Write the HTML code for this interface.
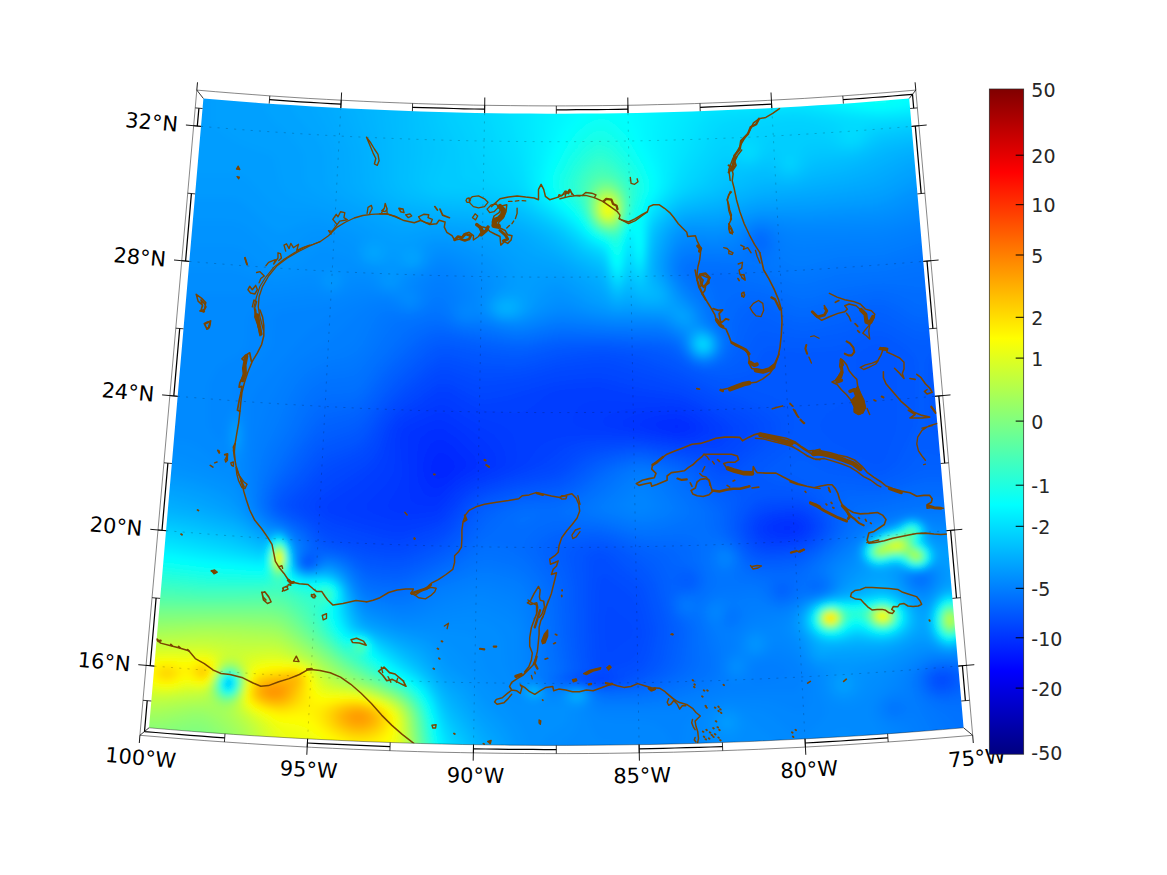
<!DOCTYPE html>
<html lang="en"><head><meta charset="utf-8"><title>Gulf of Mexico map</title>
<style>html,body{margin:0;padding:0;background:#fff}svg{display:block}text{font-family:"DejaVu Sans","Liberation Sans",sans-serif}</style></head><body>
<svg width="1167" height="875" viewBox="0 0 1167 875">
<defs><clipPath id="mapclip"><path d="M203.4 98.5 L221.8 100 L240.1 101.5 L258.5 102.9 L276.7 104.2 L294.7 105.3 L312.7 106.5 L330.7 107.5 L348.7 108.4 L366.7 109.3 L384.6 110.1 L402.6 110.8 L420.7 111.5 L438.8 112 L457 112.5 L475.1 112.9 L493.2 113.2 L511.2 113.5 L529.3 113.6 L547.3 113.7 L565.3 113.7 L583.3 113.6 L601.4 113.5 L619.4 113.2 L637.5 112.9 L655.6 112.5 L673.8 112 L691.9 111.5 L710 110.8 L728 110.1 L745.9 109.3 L763.9 108.4 L781.9 107.5 L799.9 106.5 L817.9 105.3 L835.9 104.2 L854.1 102.9 L872.5 101.5 L890.8 100 L909.2 98.5 L963.6 727.8 L942.4 729.6 L921.2 731.3 L900 732.9 L879 734.4 L858.2 735.8 L837.5 737 L816.7 738.2 L795.9 739.3 L775.2 740.3 L754.4 741.3 L733.7 742.1 L712.8 742.8 L691.9 743.5 L671 744 L650 744.5 L629.1 744.8 L608.3 745.1 L587.5 745.3 L566.7 745.4 L545.9 745.4 L525.1 745.3 L504.3 745.1 L483.5 744.8 L462.6 744.5 L441.6 744 L420.7 743.5 L399.8 742.8 L378.9 742.1 L358.2 741.3 L337.4 740.3 L316.7 739.3 L295.9 738.2 L275.1 737 L254.4 735.8 L233.6 734.4 L212.6 732.9 L191.4 731.3 L170.2 729.6 L149 727.8Z"/></clipPath>
<filter id="blur" x="-5%" y="-5%" width="110%" height="110%"><feGaussianBlur stdDeviation="3.2"/></filter>
<linearGradient id="cb" x1="0" y1="0" x2="0" y2="1"><stop offset="0%" stop-color="#800000"/><stop offset="3.1%" stop-color="#9f0000"/><stop offset="6.2%" stop-color="#bf0000"/><stop offset="9.4%" stop-color="#df0000"/><stop offset="12.5%" stop-color="#ff0000"/><stop offset="15.6%" stop-color="#ff2000"/><stop offset="18.8%" stop-color="#ff4000"/><stop offset="21.9%" stop-color="#ff6000"/><stop offset="25%" stop-color="#ff8000"/><stop offset="28.1%" stop-color="#ff9f00"/><stop offset="31.2%" stop-color="#ffbf00"/><stop offset="34.4%" stop-color="#ffdf00"/><stop offset="37.5%" stop-color="#ffff00"/><stop offset="40.6%" stop-color="#dfff20"/><stop offset="43.8%" stop-color="#bfff40"/><stop offset="46.9%" stop-color="#9fff60"/><stop offset="50%" stop-color="#80ff80"/><stop offset="53.1%" stop-color="#60ff9f"/><stop offset="56.2%" stop-color="#40ffbf"/><stop offset="59.4%" stop-color="#20ffdf"/><stop offset="62.5%" stop-color="#00ffff"/><stop offset="65.6%" stop-color="#00dfff"/><stop offset="68.8%" stop-color="#00bfff"/><stop offset="71.9%" stop-color="#009fff"/><stop offset="75%" stop-color="#0080ff"/><stop offset="78.1%" stop-color="#0060ff"/><stop offset="81.2%" stop-color="#0040ff"/><stop offset="84.4%" stop-color="#0020ff"/><stop offset="87.5%" stop-color="#0000ff"/><stop offset="90.6%" stop-color="#0000df"/><stop offset="93.8%" stop-color="#0000bf"/><stop offset="96.9%" stop-color="#00009f"/><stop offset="100%" stop-color="#000080"/></linearGradient></defs>
<rect width="1167" height="875" fill="#fff"/>
<g clip-path="url(#mapclip)">
<g filter="url(#blur)" fill-rule="evenodd"><rect x="128" y="84" width="864" height="684" fill="#0028ff"/>
<path fill="#002bff" d="M128 84l864 0 0 684 -864 0zM440 452l-3 2 -3 3 -2 5 -1 6 1 6 2 3 3 2 3 0 6 -2 4 -3 5 -6 0 -3 -1 -3 -5 -6 -6 -3z"/>
<path fill="#002eff" d="M128 84l864 0 0 684 -864 0zM437 440l-6 4 -3 5 -4 10 -1 9 2 9 3 6 3 3 3 2 3 0 6 -2 15 -12 7 -6 1 -3 0 -3 -2 -3 -12 -13 -9 -6zM670 426l3 3 4 0 3 0 1 -3 -4 -2z"/>
<path fill="#0031ff" d="M128 84l864 0 0 684 -864 0zM437 429l-9 3 -7 6 -2 6 -2 12 0 15 2 12 4 9 3 3 5 2 3 0 6 -2 15 -14 16 -10 4 -3 2 -3 0 -3 -3 -6 -18 -18 -10 -7 -4 -2zM665 420l-9 3 -1 3 4 3 8 3 10 2 9 -2 4 -3 0 -3 -2 -3 -5 -3 -9 -2zM785 525l-4 3 4 3 3 0 6 -3 -3 -3z"/>
<path fill="#0035ff" d="M128 84l864 0 0 684 -864 0zM431 422l-15 7 -5 3 -2 3 -1 6 2 57 2 3 4 3 12 2 6 0 3 -2 21 -20 26 -16 3 -3 0 -3 -2 -6 -6 -7 -14 -14 -12 -9 -10 -5 -6 -1zM656 416l-12 4 -4 3 0 3 5 3 10 3 22 4 12 -1 6 -3 2 -3 -1 -3 -2 -3 -5 -4 -6 -3 -9 -2zM782 521l-8 4 -2 3 1 3 6 3 12 0 6 -2 3 -4 0 -3 -4 -3 -5 -1z"/>
<path fill="#0038ff" d="M128 84l864 0 0 684 -864 0zM437 413l-27 12 -6 4 -2 3 -2 9 2 24 0 12 -4 11 -10 16 0 3 1 1 2 2 4 2 6 1 12 1 15 -1 9 -3 6 -5 10 -13 7 -6 10 -6 19 -9 7 -6 0 -6 -2 -6 -6 -8 -7 -7 -16 -12 -16 -11 -6 -2zM662 411l-18 2 -12 3 -8 4 -2 3 1 3 7 3 44 9 9 1 6 -1 9 -3 4 -3 1 -3 -1 -3 -2 -3 -11 -8 -6 -3 -6 -1zM782 518l-9 3 -5 4 -2 3 1 3 3 3 9 3 9 0 9 -2 6 -4 1 -3 0 -3 -4 -4 -6 -3z"/>
<path fill="#003bff" d="M128 84l864 0 0 684 -864 0zM434 407l-27 14 -6 4 -3 4 -3 9 0 24 -1 9 -3 6 -5 8 -19 19 -1 3 2 3 5 3 16 6 9 1 9 0 27 -4 6 -3 3 -3 12 -15 9 -8 9 -6 24 -10 8 -6 1 -6 -2 -9 -5 -9 -5 -6 -45 -28 -6 -2 -3 0zM641 408l-18 2 -12 4 -6 4 -2 2 0 3 3 3 11 4 60 11 9 0 12 -2 8 -4 3 -3 0 -3 -1 -3 -5 -6 -11 -8 -9 -4 -12 -2zM785 516l-12 2 -7 4 -3 3 -1 3 1 3 1 3 4 3 5 1 12 2 12 -2 6 -4 3 -3 1 -3 -1 -5 -3 -3 -9 -4z"/>
<path fill="#003eff" d="M128 84l864 0 0 684 -864 0zM437 399l-15 9 -18 10 -6 5 -4 6 -2 5 -4 25 -5 12 -6 8 -7 7 -23 18 -2 3 1 3 4 3 15 6 30 7 9 0 27 -5 6 -2 6 -5 15 -19 9 -7 9 -5 30 -12 8 -6 2 -3 1 -6 -1 -12 -3 -9 -5 -6 -8 -5 -24 -8 -27 -17 -6 -1zM590 401l-9 4 -3 3 -4 6 -2 6 1 3 3 3 9 3 18 3 38 4 39 7 12 -1 12 -2 6 -2 4 -3 2 -3 0 -3 -1 -3 -8 -8 -15 -9 -12 -5 -9 -1 -42 -1 -27 -2zM773 516l-8 3 -3 3 -2 3 -1 3 1 6 3 3 4 2 12 3 15 -1 9 -4 6 -6 1 -6 -2 -3 -2 -3 -6 -4 -12 -1z"/>
<path fill="#0041ff" d="M128 84l864 0 0 684 -864 0zM560 390l-10 3 -5 3 -12 10 -6 4 -6 2 -6 1 -24 -2 -9 -1 -9 -4 -24 -14 -6 -1 -6 1 -18 13 -15 9 -7 6 -5 6 -3 6 -6 24 -6 10 -9 9 -12 10 -27 18 -3 4 1 3 3 3 7 3 28 9 27 7 12 0 27 -7 9 -4 6 -6 13 -17 8 -7 12 -7 29 -10 12 -6 8 -6 11 -15 6 -4 9 -4 15 -3 30 -1 39 3 39 6 15 1 15 -2 8 -2 5 -3 2 -3 1 -3 0 -3 -1 -3 -10 -9 -17 -11 -15 -6 -48 -5 -33 -8 -18 1zM776 513l-12 4 -3 2 -4 6 -1 3 1 6 2 3 5 4 6 2 6 0 18 -1 6 -1 6 -4 5 -6 1 -6 -1 -3 -2 -3 -6 -4 -6 -3 -6 0z"/>
<path fill="#04f" d="M128 84l864 0 0 684 -864 0zM575 381l-21 3 -45 14 -21 4 -6 0 -6 -2 -27 -14 -6 -1 -6 1 -18 14 -15 9 -9 8 -8 12 -7 21 -6 10 -9 9 -43 29 -5 6 -1 3 1 3 6 6 12 6 27 8 21 6 12 2 6 0 36 -12 9 -7 17 -21 10 -8 9 -4 50 -18 11 -6 19 -15 10 -4 12 -3 12 -1 33 0 15 2 36 6 30 0 6 -1 6 -3 6 -5 3 -6 0 -3 -2 -3 -6 -6 -22 -14 -18 -9 -9 -2 -33 -5 -39 -10 -9 0zM785 510l-18 3 -6 3 -4 3 -2 4 -1 5 1 6 4 6 5 3 6 2 18 0 12 -3 6 -3 6 -5 2 -6 0 -3 -2 -6 -3 -3 -9 -5 -6 -1zM595 678l0 3 7 0 1 -3z"/>
<path fill="#0047ff" d="M128 84l864 0 0 684 -864 0zM557 377l-33 9 -39 8 -9 -2 -27 -12 -6 -1 -6 2 -36 26 -6 6 -10 13 -8 21 -6 9 -9 8 -22 13 -17 12 -12 12 -2 6 1 3 10 9 12 7 42 13 18 4 9 0 33 -12 6 -3 9 -8 15 -20 12 -9 12 -5 58 -18 8 -4 15 -14 9 -4 9 -3 12 -1 36 -1 12 2 33 5 36 3 6 -1 6 -4 8 -8 4 -6 0 -3 -2 -3 -7 -6 -30 -18 -18 -9 -33 -7 -45 -12 -12 -1zM770 510l-6 2 -6 3 -4 4 -3 6 0 6 3 6 4 5 3 2 6 3 6 0 21 -1 6 -2 8 -4 4 -4 4 -5 1 -6 -3 -6 -5 -5 -6 -4 -6 -1 -9 -1zM589 678l2 3 8 1 9 -1 1 -3 -7 -2 -6 0z"/>
<path fill="#004aff" d="M128 84l864 0 0 684 -864 0zM560 371l-39 10 -36 5 -9 -1 -27 -11 -6 0 -6 1 -36 28 -8 8 -11 15 -10 21 -7 9 -6 4 -22 11 -11 7 -21 23 -2 3 0 3 4 6 13 11 6 4 6 3 36 12 21 5 12 0 33 -13 7 -4 8 -7 15 -20 6 -6 6 -4 9 -4 27 -9 39 -10 9 -5 14 -13 10 -5 18 -4 36 -1 63 10 18 3 6 -1 7 -5 13 -12 3 -6 0 -3 -1 -3 -7 -7 -39 -21 -18 -9 -78 -22 -9 0zM776 507l-9 1 -9 4 -4 4 -4 6 -1 6 1 6 3 6 5 5 6 3 6 1 12 0 12 -1 12 -5 6 -4 4 -5 3 -6 -1 -6 -3 -6 -6 -5 -6 -3 -9 -2zM596 675l-10 3 2 3 11 2 13 -2 2 -3 -3 -2 -6 -2zM608 605l-3 11 0 20 2 15 1 2 3 0 18 -14 3 -3 1 -6 -1 -5 -3 -4 -9 -7 -9 -9z"/>
<path fill="#004dff" d="M128 84l864 0 0 684 -864 0zM560 366l-36 10 -36 4 -12 -1 -27 -10 -6 -1 -6 2 -6 4 -30 25 -9 8 -9 13 -12 22 -6 8 -9 6 -20 9 -10 6 -6 5 -22 25 -1 3 0 3 2 3 12 10 12 11 9 5 39 13 21 3 9 0 33 -13 9 -5 9 -10 15 -20 6 -6 6 -3 9 -4 27 -8 39 -9 9 -5 15 -14 12 -5 18 -4 33 -1 57 10 18 6 6 1 6 -2 9 -7 16 -15 3 -6 1 -3 -2 -4 -4 -5 -5 -3 -63 -32 -48 -16 -24 -7 -12 -1zM770 505l-9 3 -8 5 -4 6 -2 6 0 9 5 8 6 6 6 2 9 1 15 -1 9 -1 7 -3 8 -5 4 -4 4 -6 1 -3 0 -6 -3 -6 -6 -5 -6 -4 -6 -2 -9 -1zM602 576l-3 4 -2 11 -1 39 2 30 1 3 4 6 -4 3 -16 6 2 3 14 3 6 0 11 -3 2 -3 -2 -3 -4 -3 0 -3 18 -6 5 -4 3 -5 3 -8 3 -10 0 -6 -3 -15 -3 -9 -5 -9 -4 -4 -21 -16 -3 -2z"/>
<path fill="#0050ff" d="M128 84l864 0 0 684 -864 0zM587 357l-24 4 -36 10 -15 2 -30 0 -33 -10 -6 0 -6 2 -6 4 -27 23 -12 11 -11 14 -13 23 -6 7 -9 6 -24 9 -9 7 -13 17 -15 15 -1 3 0 3 2 3 15 10 15 15 6 4 39 13 21 4 12 0 9 -3 24 -11 9 -5 9 -9 15 -21 6 -6 6 -4 9 -4 27 -8 33 -6 9 -3 9 -5 15 -13 12 -6 9 -3 15 -1 15 -1 12 0 51 10 9 3 15 7 6 0 9 -5 21 -18 6 -6 4 -6 0 -3 -2 -6 -5 -5 -6 -4 -10 -6 -23 -10 -39 -20 -39 -14 -16 -4 -20 -4zM941 677l-2 1 -1 3 3 3 3 0 3 -3 -1 -3zM599 558l-4 3 -2 6 -2 24 1 60 1 9 2 9 -3 3 -12 6 3 3 10 3 9 1 8 -1 10 -3 3 -3 2 -6 13 -6 4 -3 3 -6 2 -9 3 -18 -2 -9 -4 -18 -5 -12 -4 -5 -18 -13 -12 -13 -3 -2zM764 504l-6 2 -6 5 -6 8 -2 6 0 6 4 9 4 6 6 4 6 2 9 1 15 -1 9 -2 6 -2 9 -5 6 -6 4 -6 2 -6 -3 -8 -6 -6 -9 -6 -9 -3 -9 -1 -15 1z"/>
<path fill="#0053ff" d="M128 84l864 0 0 684 -864 0zM578 354l-18 3 -33 9 -12 2 -33 -1 -33 -9 -6 0 -6 2 -6 4 -24 20 -15 15 -12 15 -12 20 -6 8 -9 6 -24 9 -9 6 -16 20 -17 18 -1 3 0 3 4 4 18 12 15 16 6 3 18 6 21 8 21 4 12 -1 9 -2 21 -10 12 -6 12 -12 15 -22 9 -7 11 -5 25 -7 42 -8 9 -5 18 -15 12 -6 12 -3 15 -2 12 -1 12 1 48 10 9 4 15 9 6 1 6 -2 6 -4 30 -26 5 -6 2 -3 0 -3 -1 -6 -5 -6 -8 -6 -17 -9 -27 -10 -39 -20 -32 -12 -13 -4 -30 -4zM941 675l-3 1 -2 2 -1 3 3 4 6 1 4 -2 2 -3 -1 -3 -3 -3zM596 551l-3 1 -3 3 -2 3 -1 6 0 69 1 24 3 12 -3 3 -11 6 4 3 10 3 14 1 10 -1 9 -3 22 -15 3 -6 2 -6 3 -15 1 -9 -2 -9 -6 -24 -2 -6 -3 -6 -4 -4 -15 -12 -13 -14 -8 -4zM764 500l-9 4 -6 6 -4 6 -3 9 0 6 4 9 6 8 5 4 7 2 6 1 15 -1 12 -2 6 -2 9 -5 6 -5 5 -6 2 -6 1 -3 -2 -6 -6 -9 -9 -6 -9 -4 -9 -1 -15 0z"/>
<path fill="#0056ff" d="M128 84l864 0 0 684 -864 0zM575 351l-18 2 -30 9 -12 2 -30 -2 -36 -9 -6 0 -6 2 -9 6 -33 30 -12 14 -18 27 -6 7 -6 3 -24 9 -9 6 -6 7 -12 16 -17 18 -3 6 1 3 1 3 4 3 14 8 6 4 12 14 6 5 21 6 18 9 6 1 21 3 9 0 9 -3 24 -10 12 -8 11 -11 14 -21 5 -5 6 -4 9 -4 24 -7 36 -6 9 -2 9 -6 18 -15 12 -5 12 -3 18 -3 12 0 9 1 42 10 10 4 17 12 9 1 6 -2 6 -4 15 -13 18 -14 7 -7 3 -6 1 -6 -2 -6 -4 -6 -8 -6 -24 -11 -29 -10 -50 -24 -23 -8 -18 -3 -27 -3zM938 674l-3 2 -1 2 -1 3 1 3 3 3 7 1 4 -1 3 -3 1 -3 0 -3 -2 -3 -6 -2zM590 548l-6 4 -2 3 -1 6 1 27 1 48 2 21 2 12 -3 3 -10 6 4 3 18 5 9 0 9 -1 15 -4 6 -3 10 -6 6 -6 3 -6 4 -18 1 -9 0 -9 -9 -33 -3 -7 -4 -5 -26 -24 -6 -4 -6 -3 -6 -1zM761 497l-9 5 -6 6 -4 8 -3 9 1 6 3 9 6 8 6 5 6 3 9 1 15 -1 12 -2 9 -4 7 -4 7 -6 5 -6 3 -6 -1 -9 -6 -9 -9 -7 -9 -5 -9 -2 -21 -1z"/>
<path fill="#0059ff" d="M128 84l864 0 0 266 -24 1 -6 1 -4 2 -3 3 -2 6 0 21 0 33 1 6 1 3 4 3 6 2 27 1 0 336 -864 0zM575 348l-18 2 -30 8 -12 1 -30 -3 -36 -7 -9 0 -6 3 -27 23 -12 11 -13 16 -17 25 -6 6 -8 5 -25 9 -9 7 -17 23 -19 21 -2 6 2 6 4 3 20 12 6 6 9 12 3 2 24 7 21 11 18 3 12 1 6 -1 9 -4 24 -11 9 -5 12 -12 16 -24 8 -6 9 -4 24 -7 36 -6 9 -2 9 -5 21 -17 12 -6 12 -3 18 -2 9 -1 12 2 36 9 12 6 12 10 6 4 6 1 9 0 6 -1 6 -4 12 -14 24 -18 7 -8 4 -6 1 -9 -1 -6 -3 -6 -4 -6 -4 -3 -9 -5 -27 -9 -27 -6 -27 -10 -21 -12 -18 -7 -15 -3 -30 -3zM872 345l-10 6 -5 6 -1 6 0 21 -2 6 -3 6 -6 6 -18 12 -5 6 -2 6 3 6 10 10 24 12 12 8 6 2 3 0 4 -2 4 -6 10 -27 1 -12 0 -54 -2 -9 -6 -6 -8 -4zM938 672l-4 3 -2 3 0 6 3 3 3 2 3 1 6 -1 4 -2 2 -3 1 -3 0 -3 -2 -3 -2 -2 -3 -1zM308 560l0 2 1 -1zM587 545l-8 4 -3 3 -1 3 -1 6 4 27 1 51 2 18 2 12 -2 3 -10 6 4 3 21 5 6 1 15 -1 18 -5 11 -6 8 -6 4 -6 3 -12 3 -15 0 -9 -10 -39 -5 -9 -5 -7 -20 -17 -8 -6 -8 -4 -6 -1 -6 -1zM758 491l-6 3 -6 7 -8 15 -1 9 0 6 4 9 8 11 6 5 6 2 9 1 18 -1 9 -2 9 -4 9 -6 7 -6 5 -6 3 -9 -2 -9 -7 -9 -9 -8 -9 -4 -9 -3 -24 -2z"/>
<path fill="#005cff" d="M128 84l864 0 0 256 -30 0 -9 2 -13 6 -9 6 -4 6 -1 6 0 12 1 42 2 6 4 6 11 8 12 4 12 2 24 0 0 322 -864 0zM878 333l-9 2 -27 12 -9 2 -30 2 -30 -3 -6 1 -3 1 -3 4 -6 12 -5 6 -7 3 -15 2 -9 -1 -21 -5 -9 -4 -15 -10 -6 -3 -10 -3 -17 -3 -39 -3 -33 1 -15 2 -30 7 -9 1 -24 -3 -42 -8 -9 0 -6 2 -6 4 -30 27 -15 18 -18 25 -6 7 -9 5 -24 8 -9 7 -19 26 -17 19 -4 8 0 6 4 6 18 10 6 5 15 18 27 8 18 11 6 2 18 3 9 0 12 -3 27 -12 10 -6 13 -12 16 -25 5 -5 6 -3 31 -10 33 -4 9 -2 12 -7 20 -16 10 -5 12 -4 12 -2 9 -1 9 0 28 6 19 6 10 6 15 13 21 9 2 5 0 3 -4 18 -1 6 1 6 6 12 5 7 6 6 6 4 9 1 18 -1 12 -2 6 -2 9 -6 13 -10 4 -6 3 -6 0 -9 -3 -6 -5 -7 -6 -7 -9 -6 -9 -5 -24 -5 -9 -4 -2 -2 -1 -3 3 -6 18 -13 12 -11 6 -3 6 2 27 18 16 7 20 6 6 0 6 -1 8 -5 6 -6 17 -36 2 -12 0 -45 -1 -9 -3 -6 -10 -9 -16 -10zM938 671l-6 4 -2 3 1 6 1 3 6 4 6 0 5 -1 5 -3 3 -6 -1 -3 -1 -3 -4 -3 -4 -1zM308 558l-3 3 2 3 1 0 1 0 3 -3 -1 -3zM581 543l-7 3 -4 3 -2 3 -1 3 7 33 1 45 2 24 3 12 -2 3 -10 6 3 3 31 7 21 -2 18 -5 12 -7 8 -8 4 -9 3 -18 0 -12 -12 -45 -5 -9 -7 -8 -17 -13 -10 -6 -9 -4 -9 -2 -9 1z"/>
<path fill="#005fff" d="M128 84l864 0 0 247 -24 0 -9 1 -36 11 -9 -2 -27 -15 -9 -3 -9 2 -30 11 -27 4 -18 0 -30 -7 -3 0 -3 3 -3 3 -9 18 -6 7 -6 4 -6 2 -12 2 -12 -1 -9 -3 -9 -5 -9 -7 -6 -4 -12 -4 -15 -2 -42 -3 -33 0 -15 2 -30 7 -9 0 -24 -3 -42 -8 -6 0 -6 1 -6 2 -6 5 -30 27 -36 46 -9 5 -24 8 -9 6 -7 9 -14 21 -15 18 -5 9 -1 6 1 6 3 3 24 15 6 6 8 12 3 2 24 6 9 5 12 9 6 3 18 2 9 1 12 -4 27 -12 12 -7 6 -5 8 -9 16 -24 8 -6 16 -6 15 -4 33 -4 9 -2 12 -6 21 -17 10 -6 11 -4 12 -2 9 -1 9 0 30 6 15 6 7 4 17 16 15 9 3 3 2 5 -2 18 1 9 3 6 11 16 6 6 6 3 9 1 12 0 18 -3 15 -8 9 -6 9 -9 3 -6 2 -6 -1 -6 -3 -9 -16 -21 -6 -5 -16 -7 -5 -4 -1 -2 1 -3 3 -4 6 -5 3 -1 6 1 15 9 6 3 36 7 12 2 12 -2 14 -7 8 -6 8 -11 6 -3 6 0 18 5 12 1 33 1 0 310 -864 0zM308 557l-4 4 1 3 3 1 3 -1 2 -3 0 -3 -2 -2zM578 540l-12 4 -5 5 -1 3 1 6 6 18 3 12 1 45 3 24 2 12 -2 3 -9 6 1 1 1 2 14 2 18 5 6 1 12 -1 18 -3 9 -3 8 -4 9 -6 5 -6 4 -9 4 -21 -1 -9 -6 -18 -5 -24 -4 -12 -5 -7 -5 -5 -19 -12 -12 -6 -9 -3 -9 -2 -9 0zM683 579l0 3 3 1 4 -1 0 -3 -1 -1 -3 -1zM935 671l-5 4 -2 6 3 6 3 3 7 3 6 -1 6 -2 3 -3 2 -3 1 -6 -2 -3 -3 -3 -4 -2 -6 -1z"/>
<path fill="#0062ff" d="M128 84l864 0 0 239 -30 1 -9 2 -24 7 -9 1 -9 -3 -27 -16 -9 -1 -9 2 -30 11 -18 4 -15 2 -6 -1 -9 -2 -9 -4 -12 -6 -6 -2 -6 3 -3 4 -12 26 -7 9 -5 4 -6 3 -12 2 -9 0 -6 -2 -9 -6 -12 -11 -9 -3 -12 -2 -48 -4 -36 0 -12 1 -33 7 -9 0 -21 -2 -48 -10 -9 1 -6 2 -8 5 -28 26 -9 10 -21 29 -6 6 -9 5 -24 7 -9 7 -9 11 -16 25 -14 17 -4 10 -1 6 1 6 3 3 19 12 9 7 4 5 8 13 15 2 12 4 9 5 12 10 6 3 18 3 9 0 9 -2 30 -14 16 -9 12 -12 16 -24 7 -6 14 -6 16 -5 33 -3 9 -2 6 -3 9 -5 21 -17 9 -5 21 -6 9 -2 9 0 15 3 20 6 7 3 9 6 12 12 15 12 5 6 2 6 -1 12 1 9 3 6 17 23 6 3 6 2 15 1 18 -2 9 -4 20 -14 6 -6 5 -6 3 -9 0 -6 -2 -6 -7 -15 -2 -6 1 -6 4 -3 11 -2 27 4 12 0 15 -5 24 -11 6 -2 66 1 0 300 -864 0zM311 554l-3 1 -3 3 -1 3 1 4 3 1 3 -1 3 -4 0 -6zM575 536l-12 4 -6 3 -3 3 -2 6 2 6 9 20 3 16 1 39 3 24 3 12 -2 3 -8 6 1 3 17 3 18 5 9 0 30 -3 9 -3 11 -5 8 -6 3 -3 4 -6 3 -15 2 -15 -1 -6 -7 -15 -1 -6 -1 -12 1 -12 -9 -18 -4 -5 -6 -4 -27 -12 -15 -6 -15 -2zM686 573l-6 1 -5 5 -1 3 4 3 8 2 6 -2 2 -3 0 -3 -2 -4zM938 669l-6 2 -3 4 -2 6 2 6 6 6 6 1 9 -1 6 -3 5 -6 0 -6 -1 -3 -3 -3 -6 -3 -7 -1z"/>
<path fill="#0065ff" d="M128 84l864 0 0 231 -30 1 -9 2 -24 7 -9 1 -9 -3 -24 -15 -6 -2 -6 0 -13 3 -36 12 -14 3 -9 1 -6 -1 -6 -1 -24 -14 -9 -1 -5 1 -4 3 -5 6 -4 10 -5 20 -5 9 -5 5 -6 3 -6 2 -6 1 -6 -1 -9 -3 -6 -4 -12 -12 -6 -3 -12 -2 -54 -4 -36 0 -12 1 -27 6 -12 1 -21 -3 -51 -11 -9 1 -6 3 -8 5 -28 26 -9 11 -18 25 -6 6 -9 5 -24 6 -9 7 -9 12 -18 28 -12 16 -6 11 -1 9 1 6 3 4 24 15 6 5 4 6 3 9 -1 3 -7 6 -1 3 0 3 2 2 3 1 6 -3 4 -9 2 -2 6 0 6 1 9 2 6 3 21 17 12 3 18 1 12 -3 33 -16 11 -6 7 -6 6 -6 18 -26 11 -7 15 -6 10 -3 30 -2 12 -3 13 -7 22 -18 10 -6 21 -6 15 -1 29 7 10 4 7 5 14 14 14 13 4 4 2 5 1 15 1 6 4 6 7 9 12 17 6 3 6 2 18 1 15 -2 9 -4 21 -16 10 -10 4 -6 2 -9 0 -6 -5 -18 1 -5 3 -3 9 -2 24 2 9 0 12 -3 24 -9 9 -2 66 0 0 292 -864 0zM566 533l-9 3 -6 3 -4 4 -3 6 1 6 13 24 4 15 2 39 3 24 2 12 -2 3 -7 6 1 3 23 4 15 5 12 0 21 -2 12 -2 14 -5 10 -6 7 -6 3 -6 3 -12 2 -15 -1 -9 -8 -12 -2 -6 -1 -6 0 -6 3 -5 3 -2 12 -1 3 -1 3 -2 2 -4 0 -3 -2 -5 -6 -4 -15 -2 -3 -3 -6 -9 -6 -4 -18 -5 -30 -12 -9 -2 -9 -1zM782 588l-2 3 2 1 3 -1 -1 -3zM935 668l-6 4 -3 6 0 6 3 6 6 4 9 2 9 -2 7 -4 3 -6 1 -3 -1 -6 -3 -3 -5 -3 -8 -2 -6 0z"/>
<path fill="#0069ff" d="M128 84l864 0 0 221 -24 1 -9 1 -27 9 -9 2 -9 -2 -15 -10 -9 -4 -6 -2 -9 -1 -19 4 -41 13 -12 2 -6 -1 -6 -2 -24 -13 -9 -2 -6 1 -6 2 -5 3 -4 4 -2 5 -3 9 0 18 -1 6 -5 9 -4 4 -6 4 -9 2 -6 -1 -6 -1 -7 -5 -11 -12 -3 -3 -6 -2 -9 -2 -54 -3 -39 -1 -12 1 -27 6 -12 0 -54 -9 -18 -5 -9 0 -9 4 -8 5 -25 24 -9 10 -15 21 -9 10 -9 5 -24 5 -6 3 -3 3 -15 22 -27 42 -5 11 -1 9 1 6 5 5 21 13 7 6 4 6 3 6 0 3 -5 6 -3 6 1 3 2 3 3 0 3 0 4 -3 3 -6 3 -3 5 -1 6 1 9 2 7 4 20 18 12 3 18 2 12 -4 36 -17 9 -5 12 -10 22 -26 6 -6 10 -6 16 -6 30 -2 12 -3 18 -10 18 -15 9 -6 9 -4 12 -3 9 -2 6 1 12 2 19 6 6 3 8 6 10 12 18 18 3 6 1 12 2 6 4 6 11 12 8 14 3 3 6 3 6 2 21 2 12 -3 9 -4 21 -16 10 -10 7 -9 2 -6 1 -9 -2 -12 1 -3 2 -3 6 -2 24 -1 9 -1 33 -10 9 -2 66 0 0 286 -864 0zM554 531l-7 3 -8 6 -3 5 0 4 2 6 14 21 5 15 3 45 3 21 3 12 -2 3 -6 6 0 3 5 2 21 2 18 6 18 0 21 -2 12 -3 15 -7 10 -7 5 -6 2 -6 2 -15 0 -12 -1 -6 -1 -3 -10 -12 -2 -6 0 -6 1 -3 3 -3 3 -2 12 -1 3 -2 3 -3 2 -4 0 -3 -2 -5 -3 -4 -14 -9 -4 -9 -6 -3 -30 -6 -30 -10 -12 -3 -33 -1zM779 583l-3 5 0 3 2 3 4 2 5 -2 2 -3 0 -3 -1 -3 -3 -2 -3 -1zM941 666l-9 3 -6 5 -2 7 2 7 6 6 9 4 9 -1 9 -3 4 -4 4 -6 0 -6 -1 -3 -3 -3 -7 -4 -8 -2z"/>
<path fill="#006cff" d="M128 84l864 0 0 210 -24 0 -9 1 -12 4 -18 7 -6 2 -6 -1 -12 -7 -9 -4 -12 -3 -9 0 -27 5 -36 10 -9 2 -9 -2 -21 -10 -12 -4 -12 -1 -12 2 -5 2 -3 3 -4 12 0 9 4 18 0 6 -2 6 -3 6 -5 4 -6 3 -6 2 -9 -1 -6 -3 -6 -5 -9 -12 -6 -3 -12 -3 -93 -5 -12 2 -27 6 -12 0 -54 -9 -21 -7 -9 1 -12 5 -10 7 -26 27 -18 26 -6 6 -9 4 -24 4 -6 3 -3 3 -6 8 -37 60 -5 12 -2 12 1 6 6 6 22 14 10 10 2 6 0 3 -6 9 -1 3 1 3 3 3 3 1 4 -1 3 -3 5 -6 3 -2 9 0 9 3 9 5 12 13 6 5 12 4 18 1 9 -2 42 -20 9 -5 10 -8 14 -14 13 -10 10 -12 9 -6 10 -3 27 -1 12 -3 18 -10 23 -19 10 -6 18 -6 6 -1 9 1 22 6 8 4 7 5 27 30 3 6 2 12 2 6 5 6 13 12 10 19 6 4 18 4 3 2 1 1 -1 9 2 6 3 3 4 1 6 -2 4 -5 1 -6 -2 -6 2 -3 10 -6 27 -23 9 -10 6 -9 3 -6 2 -12 2 -3 2 -2 6 -2 27 -4 36 -10 69 -1 0 280 -864 0zM761 240l-3 3 3 2 1 -2zM551 524l-9 4 -9 6 -5 6 -2 6 2 6 18 24 5 9 2 6 1 9 3 39 2 18 3 12 -1 3 -6 6 0 3 8 3 12 0 9 2 18 6 9 1 18 -1 15 -2 15 -4 12 -5 13 -9 5 -6 2 -6 0 -30 -2 -6 -9 -8 -3 -4 -1 -3 -1 -6 2 -6 3 -2 12 -2 6 -3 4 -5 0 -6 -3 -9 -8 -9 -2 -9 -3 -5 -3 -2 -6 -2 -36 -3 -30 -10 -12 -3 -36 -4zM938 665l-9 4 -5 6 -1 3 0 6 2 6 3 3 7 5 12 2 12 -2 7 -5 6 -9 0 -6 -1 -3 -8 -6 -7 -3 -9 -1z"/>
<path fill="#006fff" d="M128 84l864 0 0 198 -36 1 -36 8 -27 -4 -12 -1 -12 1 -27 4 -30 10 -9 1 -9 -2 -27 -11 -27 -7 -15 -7 -6 -1 -6 0 -4 2 0 3 5 9 2 6 2 9 1 15 7 18 1 9 -2 6 -3 6 -6 5 -9 3 -9 -1 -6 -3 -5 -4 -10 -14 -9 -4 -9 -2 -96 -5 -9 1 -27 6 -12 1 -36 -7 -18 -3 -21 -8 -6 0 -6 1 -15 6 -9 7 -26 30 -13 19 -6 7 -3 2 -6 2 -24 2 -6 3 -6 5 -6 9 -36 63 -5 11 -2 12 2 9 5 6 19 12 8 6 5 6 2 6 0 3 -4 8 -1 4 0 3 3 3 4 1 5 -1 7 -8 3 -2 6 0 6 1 8 3 7 5 15 17 6 4 6 1 18 3 6 -1 6 -2 51 -24 9 -6 12 -10 6 -4 6 -1 9 1 12 4 12 9 9 10 9 12 6 12 2 12 5 48 3 18 -1 3 -5 6 1 3 7 3 15 1 9 1 18 8 9 1 30 -2 18 -4 12 -5 9 -4 8 -5 6 -6 2 -3 1 -6 -2 -33 -3 -6 -9 -5 -4 -4 -2 -3 0 -6 3 -6 3 -1 15 -2 5 -6 2 -6 -1 -9 -5 -12 -1 -15 -3 -5 -3 -2 -12 -3 -27 2 -12 -1 -36 -11 -33 -6 -10 -4 -4 -3 3 -3 26 -18 22 -18 8 -5 15 -5 12 -1 19 5 7 3 7 5 25 28 5 6 1 6 1 12 3 6 16 9 6 5 5 7 4 14 3 3 6 3 15 5 2 2 2 9 2 4 3 3 6 2 6 -2 5 -4 17 -27 29 -27 8 -9 10 -17 6 -5 60 -14 69 -1 0 182 -12 -2 -21 -8 -9 -2 -9 0 -9 2 -5 3 -5 6 -1 6 3 9 5 6 9 5 9 2 9 -1 6 -1 6 -3 15 -10 9 -2 0 82 -864 0zM758 237l-3 3 0 6 3 4 3 0 3 -1 2 -3 0 -6 -2 -3 -3 -1zM812 582l-3 1 -1 2 2 3 5 1 4 -1 1 -3 -2 -2zM524 513l13 0 4 3 -17 10 -3 0 -3 0 -2 -4 0 -3 2 -3z"/>
<path fill="#0072ff" d="M128 84l864 0 0 186 -33 0 -27 2 -33 6 -51 5 -12 2 -24 8 -9 1 -9 -1 -21 -9 -45 -16 -12 -1 -21 0 -5 3 0 3 2 3 12 11 5 7 3 9 3 15 8 15 2 9 -1 9 -4 6 -7 5 -6 2 -6 0 -9 -4 -6 -6 -6 -9 -3 -4 -9 -4 -9 -2 -96 -5 -9 1 -27 6 -12 1 -15 -3 -18 -4 -21 -2 -6 -3 -12 -6 -6 -2 -6 0 -6 2 -18 6 -6 4 -27 33 -12 17 -6 6 -6 2 -24 2 -6 3 -6 5 -9 12 -11 22 -22 39 -6 15 -3 15 2 9 5 6 20 12 7 6 5 6 3 6 0 3 -5 12 1 3 2 3 5 2 3 -1 3 -1 9 -9 3 0 9 1 6 2 6 4 6 5 12 16 3 2 6 3 21 3 9 -1 28 -14 26 -11 21 -14 6 -2 12 1 12 4 9 3 9 7 8 9 6 9 3 9 2 12 5 48 3 15 0 3 -4 6 0 3 5 3 5 1 15 0 9 1 9 4 9 5 9 1 30 -1 21 -4 12 -5 17 -8 7 -4 4 -5 1 -3 1 -6 -4 -27 -2 -10 -3 -5 -12 -5 -3 -3 -1 -4 1 -6 3 -2 3 -1 12 0 5 -3 4 -6 2 -9 -4 -15 0 -9 2 -7 5 -5 4 -1 6 0 9 5 6 8 2 6 1 11 3 4 21 7 3 4 3 7 3 4 6 3 6 0 6 -3 6 -5 6 -3 12 1 3 0 5 -3 0 -3 -1 -3 -9 -6 -1 -3 2 -6 5 -6 26 -24 15 -18 6 -4 12 -4 45 -11 69 0 0 169 -15 -1 -24 -5 -15 0 -6 2 -7 4 -4 6 -1 6 0 6 3 6 6 6 9 5 27 7 27 -1 0 58 -864 0zM758 234l-3 2 -2 4 -1 6 3 7 3 2 3 0 3 -2 4 -4 1 -6 -1 -3 -1 -3 -3 -3 -3 -1zM635 465l9 0 12 3 13 6 7 6 20 24 3 6 1 3 -1 6 -4 6 -6 3 -14 3 -19 3 -12 0 -9 -1 -30 -10 -21 -4 -8 -3 -4 -3 0 -3 5 -6 19 -14 19 -16 10 -6z"/>
<path fill="#0075ff" d="M128 84l864 0 0 174 -30 0 -36 4 -42 11 -45 3 -29 9 -7 1 -6 0 -9 -3 -19 -7 -14 -8 -6 -1 -30 -4 -21 -1 -9 1 -3 2 -1 2 -1 3 0 3 4 6 12 12 5 6 4 9 4 15 7 9 4 9 0 9 -3 6 -6 6 -8 3 -9 -1 -6 -3 -5 -5 -7 -11 -3 -3 -9 -5 -9 -2 -42 -1 -54 -4 -9 1 -27 6 -12 1 -12 -2 -21 -5 -21 -2 -7 -3 -11 -8 -6 -3 -6 1 -15 5 -15 3 -4 2 -5 5 -15 22 -15 20 -6 6 -6 2 -27 4 -7 4 -8 8 -8 13 -10 22 -13 23 -6 12 -7 18 -3 18 2 9 5 6 4 3 16 9 13 12 2 6 0 3 -3 12 0 3 2 3 3 2 6 0 4 -2 8 -7 6 -1 6 1 6 2 7 5 5 6 12 16 3 2 6 2 21 4 9 -1 6 -2 24 -13 24 -9 18 -11 6 -2 6 -1 6 1 15 4 9 4 8 6 7 8 4 7 3 9 4 21 4 39 2 12 0 3 -3 6 1 3 4 3 5 2 18 -1 9 2 8 3 10 7 9 1 30 -1 24 -4 12 -4 18 -8 9 -5 4 -4 2 -6 0 -6 -7 -30 -3 -12 -2 -3 -3 -2 -6 0 -4 -1 -3 -3 -2 -3 1 -3 2 -3 3 -1 6 1 6 2 3 -1 12 -13 1 -3 1 -6 -6 -15 0 -6 3 -9 4 -4 3 0 6 0 6 4 3 3 3 9 -2 15 1 3 7 3 12 2 6 2 3 3 5 8 3 3 7 3 6 0 6 -3 6 -4 6 -3 15 -1 4 -1 2 -2 2 -4 -2 -3 -7 -9 -1 -3 2 -3 5 -6 23 -21 14 -15 6 -5 6 -3 21 -6 27 -5 72 -1 0 161 -15 0 -27 -4 -15 1 -6 2 -6 4 -4 6 -1 6 1 9 6 9 7 5 16 10 14 16 3 2 6 2 21 0 0 34 -864 0zM755 233l-4 7 -1 9 2 8 3 4 3 1 6 -3 3 -3 4 -7 0 -6 -1 -6 -3 -3 -6 -3zM920 578l-3 1 2 3 4 -1 1 -2zM632 468l9 -1 8 1 8 3 10 6 7 8 17 22 1 6 -3 5 -6 4 -12 5 -15 3 -12 1 -9 -1 -42 -12 -11 -5 -2 -3 1 -3 3 -3 19 -15 17 -15z"/>
<path fill="#0078ff" d="M128 84l864 0 0 162 -33 1 -39 8 -36 10 -9 2 -36 1 -30 9 -9 2 -6 -1 -13 -5 -6 -3 -4 -3 -1 -3 4 -15 -1 -9 -3 -6 -3 -3 -3 -1 -6 0 -6 4 -2 3 -2 6 -3 12 -2 3 -9 2 -42 -1 -7 2 -3 3 -1 3 0 6 2 4 20 23 3 6 5 15 8 10 4 8 0 9 -3 6 -6 6 -7 2 -9 0 -6 -4 -4 -4 -8 -13 -3 -3 -12 -6 -9 -2 -42 0 -51 -4 -9 1 -27 6 -12 1 -15 -3 -18 -5 -21 -1 -8 -4 -10 -10 -6 -3 -6 1 -9 5 -9 3 -21 1 -7 6 -15 27 -11 13 -9 6 -21 3 -9 3 -9 6 -7 8 -9 15 -11 26 -10 16 -5 11 -7 22 -3 18 1 9 6 9 6 5 15 7 9 9 5 6 1 6 -3 12 1 3 2 3 3 2 6 0 4 -2 8 -6 3 -1 6 0 6 2 6 3 5 5 16 22 3 2 6 2 21 4 9 0 9 -4 24 -13 21 -7 18 -9 6 -2 6 -1 6 2 15 3 9 4 6 4 6 7 4 7 3 9 3 21 4 36 2 12 0 3 -2 6 1 3 6 4 6 2 18 -1 9 1 7 3 8 8 3 1 9 2 30 -1 27 -5 15 -5 15 -6 9 -4 6 -5 2 -6 0 -12 -7 -24 -6 -18 -1 -6 1 -3 5 -6 9 -7 6 -3 6 -1 18 -1 9 0 6 3 8 9 4 3 6 2 6 -1 6 -2 12 -7 12 -1 9 -3 3 -3 0 -3 0 -3 -6 -9 -1 -3 3 -6 40 -37 12 -7 30 -9 9 -1 78 -1 0 154 -45 -2 -12 0 -9 4 -5 4 -4 6 -1 6 0 6 4 9 6 8 12 13 15 27 4 12 1 12 -830 0zM731 613l-3 5 1 3 2 1 3 -1 2 -3 0 -3 -2 -2zM893 707l-1 1 1 1 3 0 1 -1 -1 -1zM920 576l-5 3 1 3 4 2 3 0 3 -2 1 -3 -3 -3zM631 471l7 -2 6 0 6 2 11 6 5 6 16 21 2 6 -1 3 -2 3 -7 4 -12 5 -12 2 -9 1 -9 -2 -33 -10 -7 -3 -2 -2 -1 -1 0 -3 2 -3 18 -15 13 -12zM716 549l3 -2 6 0 6 4 3 4 1 3 0 6 -3 6 -4 4 -3 1 -3 -1 -3 -1 -5 -6 -2 -9 1 -6zM684 603l2 -1 5 1 2 3 -1 3 -3 1 -4 -1 -2 -3z"/>
<path fill="#007bff" d="M128 84l864 0 0 151 -24 0 -9 1 -42 11 -33 11 -12 1 -33 1 -12 3 -21 6 -6 1 -12 -3 -5 -3 -3 -3 -2 -3 -1 -15 -2 -6 -5 -6 -6 -3 -3 0 -6 1 -5 5 -4 6 -3 9 -3 4 -3 2 -12 1 -33 -1 -6 1 -3 2 -4 6 -1 6 2 6 6 8 16 19 7 18 8 9 5 9 0 9 -3 6 -6 6 -6 2 -9 -1 -6 -3 -6 -7 -6 -12 -9 -6 -12 -4 -45 -1 -51 -5 -9 1 -27 7 -15 1 -15 -3 -15 -5 -15 0 -6 -1 -8 -5 -10 -16 -3 -2 -3 0 -3 1 -12 10 -9 3 -9 1 -12 -3 -6 1 -4 2 -5 6 -12 25 -4 5 -5 5 -9 4 -21 5 -9 4 -9 6 -9 10 -8 14 -11 27 -10 18 -4 8 -6 22 -3 21 1 12 6 9 8 6 9 4 6 3 8 8 4 6 2 6 -2 12 0 3 3 4 3 1 6 0 5 -2 7 -5 3 -1 6 0 6 2 10 7 5 6 9 15 3 3 6 4 24 6 6 0 6 -1 9 -4 24 -14 42 -15 6 0 9 2 15 4 6 3 6 5 3 4 3 6 3 9 5 24 2 30 2 12 -1 9 2 3 5 4 6 2 6 1 15 -2 9 1 6 3 3 3 6 7 6 3 6 0 33 -1 27 -4 27 -9 12 -5 6 -5 3 -7 0 -21 -5 -15 -9 -18 -1 -6 1 -6 3 -3 5 -5 9 -2 12 3 12 -4 9 -1 3 1 10 8 5 2 6 2 6 -1 6 -2 12 -7 15 -3 8 -3 2 -3 1 -3 0 -3 -5 -9 0 -3 2 -6 9 -9 25 -22 9 -7 6 -3 27 -9 12 -2 78 1 0 148 -48 -1 -9 0 -6 2 -7 4 -5 6 -3 6 0 9 3 11 16 31 9 18 2 9 0 12 -816 0zM734 605l-3 2 -3 4 -3 7 0 3 1 3 2 2 3 0 3 -1 3 -2 3 -5 0 -6 -2 -3 -1 -2zM896 702l-6 2 -2 4 0 3 5 4 6 -1 4 -3 1 -3 -2 -3zM916 576l-3 3 0 3 4 3 6 1 5 -4 1 -3 -2 -3 -4 -1zM632 474l6 -2 6 0 5 2 5 3 6 6 13 18 3 6 0 3 -2 3 -6 5 -9 3 -9 3 -9 0 -9 -1 -22 -7 -8 -3 -4 -3 -1 -3 1 -3zM721 549l4 0 3 1 5 5 1 6 -1 3 -2 3 -3 2 -6 1 -3 -2 -3 -4 -1 -3 -1 -3 2 -5z"/>
<path fill="#007eff" d="M128 84l864 0 0 143 -33 1 -78 22 -42 2 -33 7 -6 0 -6 -1 -6 -3 -5 -6 -7 -15 -8 -6 -7 -2 -6 2 -5 3 -4 6 -6 10 -6 4 -12 2 -30 -1 -6 1 -3 2 -5 6 -2 6 1 6 6 11 17 19 3 6 4 12 9 10 5 8 0 9 -3 6 -5 5 -6 2 -9 -1 -6 -3 -5 -6 -4 -9 -3 -5 -12 -7 -9 -3 -45 -1 -51 -5 -9 1 -27 8 -9 0 -18 -2 -21 -6 -15 0 -6 -2 -4 -5 -3 -6 -2 -12 -5 -6 -4 -2 -3 1 -3 1 -3 3 -7 12 -8 5 -9 2 -18 -6 -9 1 -6 4 -6 6 -11 21 -5 6 -10 6 -28 10 -11 8 -8 9 -9 15 -13 30 -10 21 -4 15 -3 18 0 24 2 9 4 6 4 3 6 4 12 5 7 6 5 6 4 6 0 3 -2 12 1 3 3 4 3 2 6 0 15 -8 9 1 6 3 6 4 5 6 10 17 6 6 6 2 24 6 6 0 9 -2 27 -16 39 -12 6 -1 6 1 21 6 6 3 5 5 4 8 3 9 4 22 5 48 6 6 9 5 6 0 15 -3 9 2 5 2 3 3 4 7 3 3 9 2 36 0 30 -4 27 -8 14 -6 4 -3 3 -5 0 -16 4 -15 -5 -15 -2 -3 -6 -4 -3 -4 -3 -7 0 -6 1 -3 5 -5 6 -1 3 0 4 3 1 3 -1 3 -4 12 -1 6 2 3 2 1 6 0 6 -4 3 -3 3 -6 3 -10 3 -3 3 -2 6 0 15 5 9 1 6 -2 15 -9 18 -4 6 -3 3 -3 1 -3 -1 -4 -3 -8 0 -3 2 -6 6 -6 28 -25 15 -9 27 -9 6 -1 6 0 18 3 57 0 0 142 -54 0 -6 0 -6 3 -9 7 -4 6 -2 6 0 18 -3 2 -9 -2 -6 0 -6 4 -2 5 0 3 2 3 6 4 6 0 12 -4 3 1 2 2 4 8 10 22 2 9 0 12 -804 0zM914 576l-3 3 1 3 2 3 3 2 6 1 3 -2 4 -4 0 -3 -1 -3 -6 -2zM635 477l6 -1 3 0 6 4 3 3 14 21 1 3 -1 3 -2 3 -4 3 -7 3 -13 2 -9 -1 -12 -4 -13 -6 -1 -3 1 -3zM720 552l5 -1 3 1 3 3 1 6 -1 3 -3 2 -3 1 -3 0 -3 -3 -2 -6 0 -3z"/>
<path fill="#0081ff" d="M128 84l864 0 0 136 -24 0 -12 2 -26 6 -43 13 -9 2 -39 1 -36 4 -6 -1 -6 -2 -19 -17 -5 -2 -6 -1 -6 1 -3 2 -7 6 -8 11 -6 3 -12 1 -27 -1 -6 1 -6 5 -4 7 -1 9 1 6 10 15 13 15 6 15 12 12 4 9 -1 6 -3 6 -4 4 -6 3 -6 0 -8 -4 -5 -6 -5 -12 -3 -3 -12 -7 -9 -4 -45 0 -54 -6 -6 1 -27 8 -12 1 -18 -3 -18 -6 -15 0 -5 -2 -4 -6 1 -15 -4 -8 -5 -7 -4 -2 -3 -1 -3 1 -6 4 -3 3 -5 16 -3 3 -4 3 -6 2 -6 -1 -12 -6 -6 -2 -9 1 -6 2 -11 7 -28 27 -27 17 -9 7 -6 7 -6 8 -17 30 -9 27 -3 18 -2 15 0 24 2 15 3 6 6 6 5 4 15 6 11 11 3 6 1 3 -1 9 1 6 3 5 3 1 6 0 15 -8 9 2 6 3 7 6 14 23 6 5 24 8 9 2 6 -1 9 -2 9 -5 15 -9 6 -2 33 -10 12 1 21 7 6 4 3 4 4 8 3 12 3 12 2 30 2 18 13 10 6 2 6 0 15 -3 9 1 4 2 3 3 6 12 5 3 6 0 39 0 30 -4 24 -6 21 -8 5 -3 1 -3 -4 -15 1 -9 8 -12 1 -12 15 -18 3 -3 6 -3 6 -1 15 1 6 -2 6 -3 12 -8 20 -5 6 -3 2 -3 1 -3 -2 -12 0 -4 3 -5 18 -17 12 -12 12 -8 27 -10 9 -2 6 0 18 5 57 0 0 137 -54 0 -6 1 -6 2 -9 6 -5 6 -3 6 -2 12 -2 3 -15 5 -6 4 -1 3 -1 6 2 3 3 4 6 3 12 2 3 2 3 4 8 21 1 18 -792 0zM761 663l-6 2 -2 4 -2 9 0 3 1 1 6 1 16 -2 9 -3 4 -3 1 -3 -1 -3 -8 -6 -6 -2zM911 576l-1 3 0 3 2 3 5 3 6 1 3 -1 3 -3 2 -3 1 -3 -1 -3 -2 -2 -6 0zM637 483l4 -1 3 1 3 2 9 12 4 7 0 3 -1 3 -3 3 -6 3 -9 2 -9 -1 -9 -4 -5 -3 -2 -3 0 -3 2 -3 14 -14zM720 555l2 -2 3 0 4 2 1 3 0 3 -2 2 -3 1 -3 -1 -2 -2 -1 -3zM711 606l5 -3 3 0 4 3 1 3 -2 6 -3 6 -3 2 -3 -2 -3 -3 -1 -3 0 -6z"/>
<path fill="#0084ff" d="M128 84l864 0 0 130 -24 0 -12 1 -27 7 -39 11 -18 3 -72 2 -12 -4 -18 -9 -9 -2 -6 1 -6 4 -12 13 -6 3 -12 2 -30 -1 -6 3 -3 2 -3 5 -4 9 0 6 2 6 9 15 13 15 6 15 13 12 3 6 1 6 -2 6 -2 4 -6 4 -6 1 -6 -1 -3 -1 -7 -7 -6 -15 -14 -9 -9 -3 -45 -1 -54 -7 -9 2 -24 8 -12 1 -15 -2 -21 -8 -15 1 -4 -3 -2 -3 1 -6 4 -9 -2 -6 -5 -9 -5 -6 -5 -3 -6 -2 -3 1 -6 4 -9 9 -1 3 0 12 -4 6 -4 2 -3 0 -6 -1 -9 -5 -6 -3 -12 -1 -9 1 -19 7 -12 6 -26 18 -9 9 -42 48 -6 9 -3 13 -2 56 2 33 2 9 6 9 6 6 5 3 8 2 6 2 8 8 5 9 1 3 0 15 4 5 3 2 6 0 15 -8 3 0 6 2 9 5 5 6 10 17 6 8 9 5 27 8 6 0 10 -2 8 -3 21 -11 30 -9 6 0 6 1 18 6 6 3 4 4 5 8 3 7 3 13 2 32 1 12 2 3 7 4 12 9 3 1 21 -5 6 1 6 2 3 3 2 3 1 9 2 3 4 3 6 1 36 0 33 -1 9 -2 33 -11 12 -3 33 -3 27 0 6 0 3 -2 4 -6 2 -6 -2 -6 -4 -7 -5 -5 -7 -4 -6 -3 -6 1 -9 4 -12 4 -2 4 -4 10 -3 3 -3 2 -6 0 -3 -2 -3 -4 -2 -6 0 -6 4 -6 7 -6 3 -15 6 -8 9 -6 30 -9 18 -12 22 -7 5 -3 3 -3 1 -3 -2 -12 1 -4 3 -5 15 -13 12 -14 6 -5 9 -5 15 -5 12 -5 6 -1 9 1 15 6 57 0 0 132 -21 0 -18 2 -18 -1 -6 1 -6 2 -10 7 -5 6 -6 15 -2 3 -13 6 -3 3 -4 6 -1 6 3 6 5 4 12 7 3 4 5 18 1 18 -780 0zM923 573l-12 2 -2 1 -1 3 3 7 3 2 6 3 6 -1 3 -2 3 -5 1 -4 0 -3 -3 -3zM638 492l3 0 3 1 5 5 3 6 -1 3 -1 3 -6 3 -9 0 -7 -3 -2 -3 0 -3 1 -3 5 -5zM723 558l2 -2 2 2 -2 3zM712 609l4 -3 3 1 2 2 -1 6 -4 4 -3 -2 -1 -2 -1 -3z"/>
<path fill="#0087ff" d="M128 84l864 0 0 124 -24 0 -12 1 -30 8 -33 10 -18 3 -75 1 -12 -2 -18 -6 -9 -1 -6 1 -5 2 -16 14 -6 2 -12 2 -27 -1 -6 2 -3 3 -4 5 -3 9 -1 6 0 6 3 6 8 14 14 16 5 12 2 3 9 7 4 5 2 6 0 6 -3 6 -6 4 -9 2 -6 -3 -6 -6 -6 -16 -15 -9 -9 -4 -45 0 -21 -3 -27 -5 -6 0 -9 2 -27 9 -12 1 -15 -3 -21 -9 -10 1 -3 -3 1 -5 6 -7 0 -6 -2 -6 -9 -12 -6 -6 -7 -4 -6 0 -6 3 -16 13 -2 3 0 3 2 9 0 3 -2 3 -5 3 -4 0 -3 -1 -6 -5 -6 -3 -24 -4 -12 2 -21 7 -18 4 -27 4 -10 2 -4 3 -3 6 -1 21 -3 9 -7 9 -21 21 -5 6 -1 6 8 15 3 15 1 15 -2 30 6 39 6 9 6 6 6 4 9 2 6 2 7 7 4 6 2 6 1 15 1 3 3 3 3 1 6 0 15 -7 3 0 6 1 7 5 6 6 11 20 6 8 9 5 27 9 9 0 9 -2 27 -11 30 -8 6 0 6 2 18 8 9 7 3 4 4 9 1 9 1 27 3 15 12 5 12 10 3 1 18 -6 6 0 8 2 4 3 1 3 -1 12 2 3 4 4 6 3 9 2 33 1 9 2 6 3 7 6 6 12 2 12 1 12 -547 0zM908 517l9 0 9 3 6 4 6 2 54 0 0 127 -21 0 -18 3 -21 -1 -9 2 -10 6 -7 6 -4 6 -7 12 -15 12 -4 6 0 6 1 3 3 6 9 9 4 6 2 15 1 18 -217 0 2 -24 3 -18 3 -6 6 -6 17 -9 15 -5 33 0 9 1 9 2 21 9 6 -1 3 -2 3 -6 1 -7 1 -15 -2 -6 -15 -21 -9 -7 -6 -3 -3 0 -12 11 -6 2 -9 2 -1 1 -3 12 -5 5 -6 0 -3 -2 -3 -6 1 -6 2 -4 9 -5 1 -3 1 -12 4 -7 3 -2 6 -3 12 0 6 -2 12 -8 18 -15 6 -3 17 -5 5 -3 3 -3 1 -3 0 -12 2 -6 14 -13 10 -14 5 -5 9 -6zM920 573l-12 3 -1 3 1 4 4 5 5 3 6 1 6 -3 3 -3 2 -4 1 -6 -3 -3z"/>
<path fill="#008aff" d="M128 84l864 0 0 118 -27 0 -12 2 -27 7 -33 11 -18 3 -75 2 -12 -1 -18 -5 -9 -1 -9 2 -18 13 -9 4 -12 1 -21 -1 -6 1 -3 1 -5 5 -4 7 -3 8 -1 9 3 9 9 15 14 15 5 14 12 9 5 7 1 6 -2 6 -4 5 -6 3 -6 0 -6 -2 -5 -6 -5 -15 -2 -2 -18 -12 -6 -1 -45 -1 -21 -3 -27 -6 -6 0 -9 2 -20 8 -10 3 -12 0 -12 -2 -9 -4 -11 -9 -1 -3 1 -9 -1 -6 -3 -7 -6 -8 -6 -6 -6 -4 -6 -3 -6 -2 -6 1 -3 2 -9 8 -13 10 -2 3 0 3 4 9 0 3 -1 2 -3 1 -3 0 -9 -7 -15 -3 -15 -6 -6 -1 -9 2 -12 7 -6 2 -6 1 -15 -2 -6 0 -33 5 -10 2 -8 4 -6 5 -3 6 -1 21 -2 9 -6 7 -18 10 -6 7 -6 12 -1 18 0 15 1 9 5 9 4 4 3 2 3 -8 2 -13 4 -9 3 -3 3 -1 3 2 2 5 3 9 1 15 -1 12 -3 15 0 6 4 15 3 18 3 6 4 6 11 9 3 2 12 2 7 5 7 12 2 6 0 12 2 3 3 3 3 1 6 0 15 -6 6 0 6 3 6 4 5 7 13 24 6 5 6 3 24 9 12 1 15 -2 24 -6 24 -5 6 0 9 2 18 9 6 5 3 4 2 5 1 30 3 16 2 2 10 1 6 2 5 3 7 10 3 0 3 -1 9 -6 6 -2 6 0 7 2 4 3 1 6 -4 12 0 3 3 6 4 11 3 6 3 3 6 2 27 1 5 1 4 2 3 3 2 4 1 6 0 9 -519 0zM903 519l8 -2 6 0 6 3 9 7 6 2 54 0 0 122 -18 0 -21 4 -21 -2 -6 1 -13 6 -15 12 -11 15 -12 12 -4 9 0 6 1 3 7 12 2 6 2 15 0 18 -187 0 1 -21 5 -27 4 -6 3 -3 7 -4 9 -3 6 0 33 7 10 6 20 18 6 2 3 -1 6 -4 13 -12 3 -6 1 -3 -7 -18 -2 -15 -4 -6 -8 -9 -11 -17 -10 -10 -2 -3 1 -6 10 -15 10 -9 6 -3 19 -6 5 -3 4 -6 0 -9 2 -6 3 -4 9 -8 7 -12 5 -7 9 -7 6 -3zM911 574l-5 2 -1 3 1 3 4 6 4 3 6 3 6 -1 6 -5 4 -6 0 -6 -1 -3 -3 -2 -3 0zM750 633l5 -2 6 0 4 2 4 3 1 3 -1 6 -1 3 -4 4 -3 2 -6 2 -6 -1 -3 -2 -2 -5 0 -6 2 -5zM734 660l3 -1 3 0 2 1 2 3 -1 7 -3 3 -3 1 -3 0 -4 -5 1 -6z"/>
<path fill="#008dff" d="M128 84l864 0 0 112 -27 1 -12 1 -27 7 -36 13 -15 3 -75 2 -12 -1 -21 -3 -6 -1 -6 2 -6 2 -15 10 -9 4 -9 1 -27 -1 -6 2 -6 6 -4 8 -4 9 0 9 2 7 9 16 15 18 3 10 2 3 13 9 4 6 1 6 -2 7 -5 5 -7 2 -6 -1 -6 -5 -3 -5 -3 -12 -3 -4 -18 -11 -6 -2 -30 -1 -15 0 -23 -3 -25 -7 -6 0 -9 2 -21 9 -9 3 -12 1 -12 -2 -11 -6 -4 -6 -1 -6 1 -9 0 -6 -3 -6 -4 -6 -5 -6 -9 -6 -9 -5 -9 -2 -6 1 -3 2 -10 10 -15 9 -5 9 -3 3 -3 1 -6 0 -7 -1 -6 -3 -11 -8 -9 -1 -6 1 -3 1 -9 10 -3 1 -6 2 -9 -2 -9 -5 -3 -1 -30 5 -45 3 -108 0zM232 414l4 -2 3 2 4 12 1 12 -2 12 -3 10 -5 8 8 19 5 20 6 9 10 9 6 3 12 2 6 4 5 6 3 6 2 18 1 3 3 3 4 1 6 1 12 -5 6 -1 9 3 6 5 4 5 11 21 6 8 6 4 27 11 9 2 12 0 54 -6 6 1 6 1 10 6 3 3 4 6 2 6 1 21 6 15 4 6 3 2 12 -4 6 1 3 1 4 3 2 3 3 10 3 2 6 -1 6 -8 4 -3 5 -1 9 0 3 1 4 3 1 3 0 3 -2 5 -7 7 -2 3 0 9 -3 9 -6 6 -9 6 -5 6 -2 6 0 12 -425 0 0 -331 33 1 27 4 11 5 18 15 5 3 5 1 3 -1 -3 -21 0 -15 2 -9zM905 519l6 -2 9 2 5 3 7 7 3 2 3 1 54 0 0 117 -18 0 -21 5 -9 0 -15 -3 -9 2 -12 7 -14 9 -6 6 -10 12 -15 14 -12 6 -6 0 -6 -1 -6 -3 -7 -7 -2 -6 -3 -15 -2 -3 -10 -8 -3 -4 -8 -15 -9 -12 -1 -3 1 -6 6 -12 8 -8 6 -3 20 -7 5 -3 3 -3 5 -17 10 -10 2 -3 4 -12 8 -9 12 -8zM908 574l-4 2 1 6 3 6 3 3 9 5 6 -1 3 -2 5 -5 3 -6 1 -6 -1 -3 -2 -2 -3 -1zM750 636l5 -2 3 0 3 1 3 2 2 2 0 6 -1 3 -3 3 -7 3 -3 -1 -4 -2 -1 -3 -1 -6 1 -3zM735 663l2 -1 2 1 2 3 -1 3 -3 2 -4 -2 0 -3zM722 708l9 -1 10 4 7 6 7 8 15 11 7 8 4 6 2 6 1 12 -76 0 0 -12 2 -15 -2 -12 0 -9 5 -7 3 -2zM836 732l6 -2 3 0 6 2 6 6 4 6 2 6 1 18 -48 0 1 -12 2 -6 6 -9z"/>
<path fill="#0090ff" d="M128 84l864 0 0 107 -30 1 -20 3 -19 5 -27 12 -18 4 -75 4 -15 -1 -27 -2 -9 2 -21 11 -9 3 -9 1 -21 -1 -9 2 -6 5 -5 9 -4 12 -1 9 4 9 9 17 12 12 2 4 4 12 12 7 3 2 4 6 0 3 0 6 -3 6 -7 4 -6 0 -6 -2 -4 -5 -3 -6 -2 -12 -3 -3 -15 -9 -6 -3 -33 -2 -15 1 -26 -5 -22 -8 -6 -1 -6 2 -25 13 -8 3 -12 1 -12 -2 -8 -5 -5 -6 0 -6 4 -15 -2 -6 -4 -7 -7 -8 -8 -5 -12 -6 -9 -3 -6 -1 -6 3 -7 9 -5 5 -15 7 -9 12 -6 2 -6 -1 -3 -1 -4 -3 -5 -7 -3 -3 -18 -5 -3 0 -3 3 -3 9 -4 6 -5 3 -3 0 -6 -1 -3 -2 -9 -13 -3 -1 -24 7 -12 1 -15 -2 -21 -8 -9 -2 -102 0zM233 417l3 -1 3 2 2 5 2 9 -1 15 -3 8 -3 3 -3 -1 -2 -4 -3 -12 1 -15zM128 450l27 0 15 3 12 4 48 21 3 3 4 5 8 21 4 6 5 6 12 9 15 2 3 2 5 5 6 12 1 13 3 6 3 3 6 1 6 -1 12 -5 6 1 6 3 6 5 5 7 13 25 3 4 6 4 22 9 10 3 61 6 10 3 3 3 1 3 4 18 3 9 30 31 6 5 1 -3 -2 -3 -1 -3 0 -6 5 -5 6 -2 3 0 6 2 5 5 1 3 -1 6 -5 6 3 2 18 0 2 -2 0 -6 2 -6 5 -3 6 -1 8 1 4 3 1 3 -1 6 -6 5 -12 4 -2 9 -1 3 -6 5 -11 7 -4 4 -3 5 -1 6 -1 18 -412 0zM522 705l2 1 2 -1zM906 519l8 -1 6 1 8 6 4 7 3 2 3 1 54 0 0 112 -18 0 -15 5 -9 1 -6 0 -15 -4 -9 2 -29 15 -18 12 -4 4 -7 11 -5 4 -9 4 -9 0 -6 -3 -4 -5 -2 -6 -1 -12 -2 -3 -12 -8 -6 -7 -5 -12 -8 -12 -1 -6 1 -6 2 -6 4 -6 7 -6 25 -9 5 -3 2 -3 7 -15 9 -10 5 -17 7 -8 15 -9 12 -4zM920 572l-14 1 -4 3 1 6 4 6 7 6 6 3 3 1 6 -3 6 -7 4 -6 1 -6 -2 -5 -3 -2zM750 639l5 -3 3 0 3 2 2 4 0 3 -1 3 -4 3 -6 0 -3 -3 -1 -3 0 -3zM721 711l7 -1 6 1 5 3 4 6 1 6 -3 9 -4 5 -6 3 -3 0 -6 -3 -6 -5 -3 -6 -1 -6 2 -6 2 -3z"/>
<path fill="#0093ff" d="M128 84l864 0 0 102 -33 1 -27 5 -12 3 -27 13 -15 4 -75 5 -42 -2 -9 2 -21 10 -9 3 -9 1 -21 0 -9 1 -6 5 -6 11 -4 13 -1 9 2 6 11 21 14 15 3 12 14 8 4 4 2 3 1 3 0 6 -4 6 -6 3 -6 1 -6 -3 -4 -4 -2 -6 -2 -12 -1 -3 -9 -5 -9 -6 -6 -3 -33 -1 -15 0 -28 -6 -20 -9 -6 -2 -3 0 -6 3 -16 11 -14 7 -12 2 -12 -2 -6 -4 -5 -6 0 -6 6 -12 1 -6 -1 -6 -3 -6 -6 -6 -10 -7 -15 -8 -12 -4 -6 0 -6 2 -3 2 -4 9 -5 6 -6 3 -12 4 -2 2 -5 9 -5 2 -3 0 -6 -3 -2 -2 -4 -9 -15 -6 -15 -10 -21 -7 -6 0 -3 1 -16 13 -10 6 -7 2 -6 1 -6 -2 -6 -2 -7 -5 -17 -14 -9 -3 -105 -1zM327 270l5 -1 3 0 3 2 3 5 0 6 -2 3 -4 3 -3 1 -4 -1 -4 -3 -1 -3 -1 -6 2 -3zM234 420l2 -1 3 2 3 11 -1 9 -1 6 -1 4 -3 3 -3 -1 -1 -3 -2 -9 0 -12 2 -6zM128 461l21 0 15 2 42 13 21 8 6 4 3 4 9 18 10 12 11 7 3 1 9 0 3 1 3 1 5 5 6 12 1 15 4 6 8 3 6 -1 12 -5 3 0 6 2 6 4 6 6 5 9 7 17 3 5 6 5 30 13 27 5 9 3 6 3 14 9 6 6 17 21 26 27 16 21 6 12 3 9 1 24 -401 0zM908 519l6 -1 6 2 3 2 4 3 5 9 3 3 3 1 54 0 0 107 -18 0 -15 6 -9 2 -9 -2 -15 -4 -6 0 -36 18 -18 7 -4 3 -2 12 -4 6 -3 3 -5 2 -9 0 -6 -4 -3 -4 -1 -6 1 -12 -3 -3 -12 -5 -7 -7 -5 -12 -8 -15 -1 -6 1 -6 6 -9 5 -5 6 -3 20 -7 8 -6 6 -12 11 -12 2 -15 3 -6 4 -4 15 -10 13 -4zM920 572l-15 0 -2 1 -2 3 1 6 3 6 6 6 9 5 3 1 3 -1 3 -2 10 -12 3 -6 -1 -6 -3 -4 -3 -1zM755 639l3 0 2 3 1 3 -3 3 -3 1 -3 -1 -1 -3 0 -3zM530 684l3 0 6 1 4 5 1 3 0 3 -5 5 -6 2 -6 -2 -5 -5 0 -6 2 -3zM570 690l8 -1 6 2 2 2 2 3 -1 3 -2 3 -4 3 -6 2 -6 -1 -3 -3 -2 -4 0 -3 2 -3zM721 714l4 -1 6 0 7 4 1 3 1 6 -3 5 -3 3 -6 1 -3 0 -6 -3 -2 -3 -2 -3 1 -6 1 -3z"/>
<path fill="#0096ff" d="M128 84l864 0 0 98 -33 1 -30 4 -12 4 -27 14 -15 4 -69 5 -45 -1 -9 2 -21 9 -9 4 -9 1 -24 -1 -9 4 -6 6 -5 11 -4 12 0 9 1 6 13 24 12 12 1 3 2 9 3 3 7 2 6 3 5 7 2 6 -2 6 -2 2 -6 4 -6 0 -7 -3 -4 -6 -1 -6 -1 -12 -11 -6 -9 -7 -9 -2 -18 -1 -12 -1 -15 1 -27 -8 -21 -12 -6 -2 -6 1 -3 1 -20 18 -10 6 -12 2 -6 0 -6 -2 -5 -3 -2 -3 -2 -6 1 -6 9 -12 1 -3 0 -6 -3 -6 -8 -9 -9 -7 -15 -7 -15 -5 -9 -1 -9 2 -3 4 -2 8 -4 6 -3 3 -6 2 -15 2 -1 2 -2 9 -3 2 -3 1 -4 -3 -1 -3 1 -9 -17 -4 -5 -2 -6 -6 -4 -10 -3 -4 -18 -9 -9 -3 -6 0 -7 2 -5 4 -18 16 -6 2 -3 0 -6 -3 -24 -23 -6 -4 -6 -3 -12 -1 -96 0zM328 276l4 -2 4 2 1 3 0 3 -2 3 -3 1 -3 -1 -3 -3 0 -3zM234 423l2 -2 3 4 2 7 -1 12 -1 3 -3 4 -3 -2 -1 -2 -1 -9 0 -9zM128 469l24 0 12 1 36 9 12 5 12 5 9 7 14 20 13 11 8 4 10 -1 3 1 6 5 5 7 2 6 2 15 4 6 5 2 3 1 6 -1 12 -4 3 0 6 2 6 4 6 7 12 26 3 5 6 6 30 12 27 7 10 5 17 20 21 18 15 20 15 15 7 8 5 9 4 12 1 9 1 15 -393 0zM910 519l7 0 6 3 5 6 4 9 6 4 9 0 45 0 0 102 -18 1 -15 6 -9 2 -9 -2 -15 -6 -6 0 -36 17 -27 8 -2 3 2 12 -2 6 -3 3 -4 2 -6 1 -3 -1 -3 -2 -4 -6 0 -6 3 -9 0 -3 -5 -3 -9 -2 -6 -2 -3 -3 -4 -5 -3 -9 -8 -15 -1 -6 2 -9 4 -6 7 -6 25 -9 8 -6 6 -9 9 -9 2 -3 0 -15 2 -6 5 -7 15 -9 14 -5 10 -5zM935 567l-15 4 -18 1 -2 1 -1 3 1 6 4 6 10 9 6 4 3 1 3 -1 12 -13 6 -9 0 -3 -1 -6 -3 -3zM525 687l5 -2 3 -1 6 2 4 4 0 3 0 3 -4 4 -3 1 -6 0 -6 -5 -1 -3 0 -3zM572 690l9 0 5 3 1 3 -1 3 -2 3 -3 2 -6 1 -3 0 -4 -3 -2 -3 0 -3 1 -3zM721 717l4 -2 3 0 6 2 2 3 1 3 -1 3 -2 3 -6 3 -3 -1 -4 -2 -2 -3 -1 -3 1 -3z"/>
<path fill="#009aff" d="M128 84l864 0 0 94 -33 0 -33 5 -9 3 -27 14 -15 5 -69 6 -45 0 -12 3 -27 11 -9 1 -24 0 -7 2 -7 6 -5 9 -6 15 -1 12 2 6 12 25 3 3 9 8 2 3 0 6 0 3 -2 2 -9 -2 -9 -7 -6 -3 -24 -1 -12 -2 -9 1 -6 0 -26 -9 -22 -14 -9 -4 -6 1 -8 5 -4 5 -8 13 -7 6 -9 4 -9 0 -6 -1 -6 -3 -3 -3 -2 -6 2 -6 3 -4 10 -8 1 -3 1 -6 -4 -9 -8 -9 -9 -6 -12 -6 -15 -6 -9 -2 -9 -1 -6 0 -6 3 -4 3 -1 12 -1 3 -3 4 -6 3 -9 -1 -12 -6 -12 4 -6 0 -6 -1 -4 -3 -3 -3 -2 -6 1 -12 -1 -3 -3 -2 -7 -4 -23 -8 -9 -2 -9 1 -9 3 -15 7 -6 0 -9 -5 -24 -23 -9 -5 -12 -1 -96 0zM692 329l3 -1 6 1 6 2 6 5 2 3 1 6 -2 6 -2 3 -5 2 -6 1 -6 -3 -3 -3 -1 -3 -2 -6 1 -6zM236 424l3 5 1 3 -1 11 -3 5 -3 -3 -1 -7 1 -9zM128 475l33 0 30 7 21 7 9 5 9 5 18 20 15 12 6 1 9 -1 3 1 4 2 5 6 3 6 1 6 1 12 4 6 3 2 6 1 6 -1 9 -3 6 -1 9 4 4 4 5 6 12 27 6 8 6 4 21 9 27 8 9 4 7 6 12 18 17 13 5 5 16 22 15 15 8 11 6 15 1 21 -387 0zM905 520l6 -1 9 2 5 4 2 3 5 12 9 5 6 0 45 0 0 95 -15 1 -6 2 -12 6 -9 2 -9 -1 -15 -8 -6 -1 -21 11 -15 6 -36 7 -6 0 -9 -2 -12 -1 -6 -2 -5 -6 -4 -11 -8 -13 -1 -9 4 -9 5 -6 4 -3 25 -9 9 -6 17 -18 1 -3 -3 -12 1 -6 3 -6 6 -6 9 -5 6 -3 12 -4zM929 569l-9 2 -18 0 -5 2 0 6 5 9 6 6 12 9 3 1 3 -1 17 -18 4 -6 0 -6 -3 -7 -3 -2zM839 675l3 -2 3 0 3 1 4 4 1 6 0 3 -2 3 -3 2 -6 1 -3 -1 -3 -2 -1 -3 0 -6zM526 687l4 -2 3 0 6 2 3 3 1 3 -1 3 -3 3 -3 1 -3 0 -6 -2 -2 -2 -1 -3 0 -3zM574 690l5 0 6 3 1 3 -1 3 -4 4 -3 1 -6 -1 -5 -4 0 -3 1 -3zM722 720l3 -2 3 0 3 1 2 4 -1 3 -4 2 -3 0 -3 -3 -1 -2z"/>
<path fill="#009dff" d="M128 84l864 0 0 90 -33 0 -33 4 -12 5 -27 14 -12 4 -66 6 -48 2 -12 3 -27 10 -9 2 -24 0 -9 3 -6 5 -5 8 -5 15 -2 12 2 9 6 12 6 15 3 3 7 5 3 4 0 6 -3 2 -6 -1 -9 -8 -6 -2 -24 -1 -12 -2 -9 2 -6 -1 -24 -10 -24 -17 -6 -3 -6 -1 -9 1 -9 5 -4 6 -3 15 -4 6 -4 3 -6 2 -9 1 -6 -1 -4 -2 -3 -3 -2 -6 1 -3 2 -4 6 -5 11 -6 2 -3 1 -6 -2 -6 -6 -9 -9 -8 -11 -7 -13 -6 -24 -6 -9 -1 -6 0 -9 3 -7 4 0 3 2 6 1 6 -1 3 -4 4 -6 1 -6 -2 -3 -3 -3 -5 -3 -4 -3 0 -6 6 -6 4 -3 1 -6 -1 -6 -3 -2 -4 -1 -3 1 -6 6 -9 0 -3 -4 -3 -11 -6 -34 -12 -9 -1 -24 0 -6 -1 -6 -3 -5 -4 -22 -24 -9 -5 -12 -1 -99 0zM695 330l3 -1 6 1 6 4 3 3 2 5 0 6 -1 3 -4 4 -3 1 -6 0 -5 -2 -3 -3 -3 -6 0 -6 2 -7zM236 427l3 8 -1 6 -2 3 -3 -6 0 -5zM128 479l18 0 18 1 27 7 18 6 21 12 23 20 10 7 6 1 9 -2 6 3 5 6 3 6 3 18 4 6 3 2 6 1 6 0 9 -3 6 -1 9 4 6 6 4 6 10 24 4 7 3 4 7 4 26 10 21 7 6 3 8 7 7 12 6 8 15 11 6 5 15 23 16 16 6 9 4 9 2 6 1 18 -383 0zM903 522l8 -3 6 1 4 2 6 6 2 9 2 3 13 10 48 0 0 88 -15 1 -17 9 -7 2 -6 0 -6 -1 -7 -4 -8 -6 -3 -1 -6 2 -12 7 -12 5 -15 5 -33 3 -12 -1 -12 1 -6 -2 -3 -4 -3 -9 -8 -12 -2 -6 0 -6 3 -9 5 -6 4 -3 26 -9 6 -3 18 -15 3 -3 1 -3 -4 -9 -1 -6 0 -6 4 -6 5 -5 9 -6 6 -3 12 -3zM941 560l-10 7 -11 4 -6 0 -16 -1 -4 3 1 6 3 6 5 6 17 15 3 1 3 -1 10 -12 12 -12 4 -6 0 -6 -3 -6 -5 -5zM842 678l3 0 3 2 2 4 -1 3 -1 2 -3 2 -5 -1 -2 -3 -1 -3 1 -3zM528 687l5 -2 6 2 2 3 1 3 -1 3 -2 2 -6 1 -6 -2 -2 -4 0 -3zM569 693l6 -3 3 0 6 3 1 3 -1 3 -3 3 -6 1 -3 -1 -3 -3 -1 -3z"/>
<path fill="#00a0ff" d="M212 84l780 0 0 86 -33 0 -33 4 -12 4 -25 14 -14 5 -24 3 -39 4 -51 2 -9 3 -33 11 -30 2 -9 3 -7 6 -5 8 -6 16 -2 12 1 6 9 18 4 15 3 3 6 3 3 3 1 3 -1 2 -3 1 -5 -3 -4 -7 -3 -1 -27 0 -15 -3 -9 2 -6 0 -24 -14 -22 -16 -8 -4 -9 -2 -21 0 -6 -1 -15 -15 -9 -7 -12 -7 -12 -4 -20 -5 -16 -2 -16 2 -20 7 -6 0 -9 -3 -21 -13 -12 -6 -36 -14 -27 -8 -8 -5 -4 -6 -5 -24 -1 -4 -3 -3 -6 -3 -18 -6 -12 -5 -17 -12 -1 -2 -2 -1 -1 -2 -3 -1zM372 243l5 -1 3 0 4 4 1 3 -1 6 -2 3 -5 2 -6 0 -4 -2 -2 -3 0 -3 0 -3 3 -4zM413 250l3 1 2 4 1 3 -2 3 -4 3 -3 0 -3 -2 -3 -4 0 -3 1 -3 2 -2zM506 294l12 -2 3 1 3 2 2 8 -1 6 -3 3 -4 3 -9 2 -9 -1 -6 -4 -1 -3 -1 -3 2 -4 6 -5zM695 331l6 -1 6 2 5 4 2 3 1 6 -2 6 -3 3 -3 2 -6 0 -4 -2 -4 -3 -1 -3 -2 -6 1 -6zM236 432l1 3 -1 5 -1 -5zM128 483l33 1 22 5 20 6 30 16 21 17 9 6 3 0 12 -2 6 2 5 6 3 6 4 21 2 3 4 2 9 2 15 -4 6 1 6 3 5 5 4 6 9 23 3 6 5 7 10 5 42 16 6 3 9 9 12 18 21 18 15 23 15 16 7 9 5 12 1 18 -379 0zM908 520l6 0 3 0 6 4 4 7 2 8 9 10 2 3 0 3 0 3 -5 6 -9 5 -9 2 -18 -2 -6 1 -3 3 0 3 6 9 24 23 3 2 3 -2 12 -16 12 -9 20 -7 7 -4 15 -1 0 65 -15 1 -15 9 -9 4 -9 -1 -6 -2 -12 -10 -3 -2 -3 0 -21 12 -18 6 -33 3 -15 1 -9 1 -6 -1 -4 -3 -5 -12 -8 -12 -1 -9 3 -9 5 -6 4 -3 33 -12 22 -15 2 -3 -1 -3 -6 -9 -2 -6 1 -6 3 -6 5 -5 9 -5 18 -7zM529 687l4 -1 3 0 3 2 2 2 0 3 -1 3 -4 2 -3 1 -3 -1 -3 -2 -1 -3 0 -3zM570 693l5 -2 3 0 5 2 1 3 -1 3 -2 2 -6 1 -5 -3 -1 -3z"/>
<path fill="#00a3ff" d="M264 84l728 0 0 82 -36 0 -30 3 -12 4 -29 16 -13 4 -57 8 -54 3 -9 2 -33 12 -27 2 -9 2 -9 6 -5 6 -5 12 -5 15 0 6 1 6 8 16 2 8 1 6 -2 3 -4 2 -9 1 -15 -1 -12 -3 -12 3 -6 -3 -9 -7 -12 -7 -27 -20 -9 -3 -18 -4 -9 -3 -6 -3 -15 -12 -12 -6 -21 -7 -30 -4 -15 0 -24 4 -9 -1 -33 -16 -26 -12 -22 -12 -4 -3 -5 -6 -1 -6 -1 -21 -4 -9 -9 -11 -18 -16 -6 -9 -2 -9zM369 249l5 -3 3 1 3 2 1 3 -1 3 -3 3 -3 0 -3 0 -3 -3 0 -3zM410 255l3 0 2 3 -2 2 -3 0 -1 -2zM503 297l9 -2 7 2 3 3 1 3 -1 6 -4 4 -6 3 -6 0 -6 -1 -4 -3 -2 -3 0 -3 3 -5zM694 333l4 -2 3 0 6 2 4 3 2 3 2 6 -2 5 -3 4 -3 1 -6 0 -4 -1 -3 -3 -2 -3 -1 -6 1 -6zM128 487l33 1 18 4 21 7 33 15 23 17 7 4 3 1 12 -4 6 3 5 5 2 6 5 21 2 3 4 3 9 1 15 -4 6 1 6 4 4 4 5 6 9 25 7 11 8 6 42 16 9 5 6 6 15 22 19 17 17 25 15 17 4 6 4 12 1 15 -375 0zM908 520l6 0 6 2 4 3 3 6 1 9 9 9 1 6 0 3 -1 3 -3 3 -8 5 -12 2 -18 -3 -6 2 -5 3 0 3 8 9 17 15 10 12 3 2 3 -3 9 -14 9 -9 9 -3 3 -1 6 2 6 4 12 10 12 2 0 31 -9 0 -6 1 -15 12 -9 3 -6 0 -9 -3 -5 -4 -10 -11 -3 1 -9 7 -9 5 -18 6 -9 2 -42 2 -9 2 -6 -1 -3 -3 -5 -10 -6 -9 -3 -6 0 -9 2 -6 6 -6 4 -3 35 -12 12 -6 13 -9 1 -3 -8 -7 -5 -8 0 -6 2 -6 5 -6 7 -5 9 -5 12 -4zM530 687l3 -1 3 1 3 2 1 1 1 3 -2 3 -3 2 -3 0 -5 -2 -2 -3 1 -3zM572 693l6 -1 4 1 1 3 -2 4 -6 1 -3 -2 -2 -3z"/>
<path fill="#00a6ff" d="M288 84l704 0 0 78 -36 0 -33 3 -15 5 -27 16 -12 4 -51 7 -57 5 -12 3 -30 10 -30 3 -6 2 -9 6 -7 8 -5 12 -4 15 -1 6 1 6 9 18 2 6 -1 6 -4 3 -8 1 -15 0 -12 -4 -12 3 -6 -3 -9 -9 -36 -25 -9 -5 -18 -5 -9 -4 -18 -14 -8 -4 -22 -6 -36 -5 -15 0 -24 2 -9 -1 -15 -6 -49 -26 -7 -6 -3 -6 -1 -27 -3 -10 -6 -9 -18 -20 -6 -9 -2 -9zM372 252l2 -1 2 1 -2 3zM500 300l9 -2 6 0 3 2 2 3 1 3 -1 3 -3 3 -5 3 -6 0 -6 -1 -2 -2 -2 -3 0 -3 1 -3zM698 332l6 0 6 4 3 3 1 3 0 6 -4 5 -3 2 -6 0 -3 -1 -4 -3 -1 -3 -2 -6 2 -6zM128 491l27 1 18 3 24 7 36 14 6 4 18 13 6 3 3 1 9 -4 3 0 6 2 4 5 3 6 3 18 2 4 3 3 3 2 6 1 18 -3 9 3 6 4 5 7 10 27 3 6 5 6 5 3 44 19 6 3 6 5 18 25 18 17 15 23 17 22 3 6 2 6 1 15 -371 0zM908 521l6 -1 6 2 3 3 3 6 2 9 5 6 4 6 0 6 -1 3 -3 3 -7 4 -9 2 -9 0 -12 -3 -12 4 -6 1 -9 -5 -6 -6 -2 -6 1 -6 3 -6 4 -4 12 -7 15 -5zM870 582l8 -3 6 1 3 2 25 21 11 17 10 -20 8 -8 9 -5 6 -1 3 1 3 2 6 5 12 17 3 2 3 1 6 0 0 14 -9 1 -3 1 -3 2 -15 13 -9 4 -6 0 -9 -4 -6 -6 -9 -14 -7 8 -8 6 -9 5 -9 3 -12 2 -42 2 -12 3 -3 0 -3 -2 -13 -19 -3 -6 0 -9 2 -6 2 -3 6 -5 6 -3 34 -10zM531 687l5 0 4 3 0 3 -2 3 -5 1 -4 -1 -2 -3 0 -3zM573 693l5 -1 3 1 1 3 -2 3 -5 1 -4 -4z"/>
<path fill="#00a9ff" d="M312 84l680 0 0 74 -39 1 -30 1 -15 5 -30 17 -13 4 -20 4 -24 3 -60 6 -12 3 -30 11 -30 3 -6 2 -9 6 -7 7 -5 11 -5 16 -1 9 1 6 2 6 5 9 3 6 0 6 -2 3 -6 2 -12 1 -6 -1 -12 -4 -12 3 -6 -3 -12 -13 -22 -15 -17 -11 -24 -11 -18 -14 -6 -3 -25 -6 -32 -4 -18 -2 -30 1 -9 -1 -18 -8 -33 -19 -7 -6 -3 -6 -2 -33 -6 -14 -16 -28 -1 -9zM505 300l4 -1 6 2 3 4 0 4 -3 3 -6 2 -6 0 -3 -2 -3 -3 0 -3 3 -4zM701 332l6 2 5 5 1 3 0 6 -2 3 -4 3 -6 1 -3 -2 -5 -5 -1 -3 0 -6 3 -5zM128 495l27 1 12 1 30 9 36 13 6 3 17 12 7 4 3 0 9 -5 3 0 6 2 4 5 3 6 1 6 2 12 3 6 5 3 6 2 18 -4 9 3 6 5 4 6 11 30 6 9 4 3 26 11 21 10 6 4 5 5 19 25 18 19 28 40 3 6 2 6 1 15 -367 0zM905 522l6 -2 6 1 6 4 2 3 2 12 7 9 2 3 0 6 -4 6 -6 4 -9 2 -9 -1 -12 -3 -12 4 -6 0 -6 -2 -3 -1 -5 -6 -2 -6 0 -6 4 -6 6 -6 9 -5 15 -5zM870 585l8 -3 6 1 9 6 15 11 7 9 4 9 0 6 -3 6 -5 5 -6 5 -9 4 -9 3 -9 1 -21 0 -33 3 -3 0 -3 -2 -12 -16 -3 -6 0 -9 2 -6 2 -3 5 -4 6 -3 39 -11zM951 588l8 1 7 5 6 9 7 18 0 3 -3 6 -11 12 -6 4 -9 2 -9 -2 -6 -4 -6 -9 -3 -9 2 -12 6 -12 7 -7 6 -4zM528 690l2 -2 3 -1 3 1 3 2 1 3 -3 3 -4 1 -3 -1 -2 -3zM575 693l4 0 2 3 -3 3 -3 -1 -2 -2z"/>
<path fill="#00acff" d="M328 84l664 0 0 71 -57 0 -15 2 -15 5 -30 16 -16 5 -20 4 -39 6 -39 4 -42 13 -30 5 -6 1 -9 6 -8 9 -6 12 -4 14 -1 10 0 6 2 6 7 12 1 6 -1 3 -3 3 -8 1 -12 -1 -12 -5 -9 4 -3 1 -3 -1 -3 -3 -9 -13 -6 -5 -36 -23 -21 -11 -17 -13 -6 -3 -13 -4 -33 -5 -27 -2 -33 -1 -9 -1 -9 -3 -9 -5 -24 -15 -7 -6 -3 -6 -2 -33 -4 -9 -13 -30 -2 -9zM502 303l4 -2 6 1 2 1 2 3 -1 3 -3 3 -3 1 -7 -1 -3 -3 0 -3zM695 336l3 -2 3 -1 6 2 3 2 3 5 0 3 -2 6 -4 3 -3 0 -3 0 -5 -3 -3 -6 0 -6zM128 499l18 0 12 1 9 1 30 8 36 12 6 3 18 12 6 3 3 0 6 -4 6 -2 6 3 5 7 3 6 2 15 3 6 4 3 4 2 6 0 15 -3 9 3 6 5 4 5 9 27 7 12 4 3 24 11 21 10 6 4 6 5 21 27 17 21 25 36 5 12 1 15 -363 0zM906 522l5 -1 6 0 5 4 3 3 1 12 8 9 2 6 -2 6 -2 3 -6 4 -9 2 -6 0 -15 -4 -12 3 -6 0 -3 0 -6 -3 -5 -5 -2 -6 1 -6 3 -6 6 -5 9 -5 15 -6zM875 585l9 1 12 6 13 11 6 9 2 9 -1 6 -4 6 -7 5 -6 3 -15 5 -9 0 -18 0 -15 2 -18 1 -6 -3 -11 -13 -3 -6 -1 -9 1 -3 4 -6 4 -4 9 -4 33 -8zM945 591l5 -2 6 0 8 5 5 6 3 6 4 12 -1 9 -5 9 -8 8 -9 4 -9 -1 -6 -3 -7 -8 -4 -9 0 -9 4 -12 6 -9zM529 690l4 -2 3 0 2 2 1 3 -3 3 -3 0 -3 -1 -1 -2zM575 696l3 -1 1 1 -1 1z"/>
<path fill="#00afff" d="M340 84l652 0 0 68 -60 0 -15 1 -17 6 -29 15 -20 7 -54 9 -36 4 -42 14 -36 6 -9 6 -8 8 -5 9 -5 15 -2 12 0 9 1 6 7 12 1 3 -1 5 -3 2 -3 1 -12 0 -6 -1 -9 -5 -9 5 -3 0 -3 -1 -3 -3 -9 -14 -3 -4 -54 -33 -21 -15 -6 -3 -12 -3 -30 -5 -72 -6 -12 -4 -20 -12 -9 -9 -3 -6 -2 -33 -3 -9 -13 -30 -2 -9zM502 306l4 -3 3 0 4 3 -1 3 -6 2 -4 -2zM695 336l3 -2 6 0 6 4 2 4 1 3 -1 3 -2 3 -6 3 -3 0 -5 -3 -3 -6 1 -6zM128 503l30 0 39 9 36 11 6 3 16 11 8 3 3 0 9 -6 6 0 3 2 5 7 2 6 2 15 3 6 4 3 5 2 6 0 15 -2 6 1 6 4 4 4 4 6 7 24 6 12 4 3 5 3 21 9 21 11 9 7 6 6 36 47 19 28 4 9 2 6 1 15 -359 0zM906 522l5 -1 6 1 5 3 2 3 1 3 1 9 7 9 2 3 0 6 -1 3 -3 3 -8 5 -9 1 -18 -5 -18 4 -6 -2 -6 -5 -3 -4 -1 -6 2 -6 2 -3 6 -5 9 -5 15 -5zM873 588l8 -1 9 3 15 10 8 9 3 9 0 6 -3 6 -8 7 -9 5 -12 3 -27 -1 -15 2 -15 1 -6 -1 -3 -2 -10 -11 -4 -6 0 -9 2 -6 6 -6 12 -6 32 -6zM947 591l6 -1 6 2 4 2 7 9 3 9 1 6 0 9 -5 9 -7 7 -9 4 -9 -1 -7 -4 -7 -9 -2 -9 2 -12 4 -9 7 -9zM530 690l3 -2 3 1 2 1 0 3 -2 2 -3 1 -4 -3z"/>
<path fill="#00b2ff" d="M352 84l640 0 0 65 -63 0 -13 1 -19 6 -28 14 -21 7 -54 11 -24 1 -9 2 -42 14 -36 8 -9 5 -9 9 -6 10 -3 10 -3 14 -1 12 2 6 6 12 1 3 -1 3 -4 3 -12 1 -6 -2 -6 -5 -3 -1 -9 6 -3 0 -3 -1 -3 -3 -9 -16 -3 -3 -24 -14 -45 -31 -11 -6 -10 -3 -27 -4 -57 -5 -18 -3 -15 -5 -15 -10 -6 -6 -2 -6 -2 -33 -3 -12 -11 -30zM696 336l5 -2 3 0 6 4 2 4 0 3 0 3 -2 3 -6 3 -3 -1 -4 -2 -2 -3 -2 -6 1 -3zM128 506l30 1 39 8 36 10 24 14 6 3 3 -1 9 -6 6 0 3 2 5 6 2 6 2 15 3 6 6 4 6 2 15 -3 6 1 9 4 3 4 4 6 8 26 6 11 7 5 23 10 19 11 11 8 9 10 35 48 14 21 4 9 2 6 1 15 -356 0zM907 522l4 -1 6 1 5 3 2 3 1 3 0 9 9 12 0 6 -3 6 -8 5 -9 1 -18 -5 -18 3 -6 -2 -6 -4 -2 -4 -1 -6 1 -6 5 -5 12 -8 15 -5zM878 589l9 1 12 6 8 7 5 6 3 9 -2 9 -4 6 -10 6 -12 4 -9 1 -21 -1 -15 2 -12 1 -9 -2 -6 -4 -6 -7 -4 -6 0 -9 2 -6 5 -6 12 -5 36 -7zM953 591l6 1 6 6 5 8 3 9 0 6 -2 9 -5 9 -7 5 -9 3 -9 -3 -6 -5 -5 -9 -1 -9 1 -9 6 -12 8 -7zM530 690l3 -1 3 0 1 4 -1 1 -3 1 -3 -2z"/>
<path fill="#00b5ff" d="M364 84l628 0 0 62 -63 0 -15 1 -21 6 -30 14 -18 7 -30 6 -21 6 -24 0 -9 1 -42 15 -36 9 -9 5 -9 9 -6 9 -3 8 -3 12 -2 19 2 9 5 9 0 3 -1 3 -7 2 -9 -1 -3 -1 -6 -5 -3 -1 -9 6 -3 1 -3 -2 -3 -3 -9 -17 -3 -3 -24 -13 -35 -26 -19 -11 -12 -4 -27 -4 -48 -4 -21 -3 -15 -5 -13 -8 -6 -6 -2 -6 -2 -36 -2 -12 -8 -27zM697 336l4 -1 3 0 3 1 3 3 2 6 -1 3 -2 3 -5 2 -3 0 -3 -2 -3 -3 -1 -6 1 -3zM128 509l30 0 39 8 36 10 22 13 8 3 3 -1 9 -7 6 0 3 2 6 9 1 6 2 13 3 6 3 2 6 2 6 1 15 -2 9 3 6 5 4 6 7 27 4 8 3 3 31 16 15 9 11 8 12 12 8 10 13 20 15 21 10 16 4 9 2 6 1 15 -353 0zM908 522l3 -1 6 1 4 3 3 3 1 3 0 9 7 9 2 6 -1 6 -2 3 -8 4 -9 1 -18 -5 -15 3 -6 0 -3 -1 -6 -5 -2 -3 -1 -6 2 -6 4 -5 15 -9 13 -4zM872 591l9 -1 9 2 12 7 7 7 3 6 2 9 -2 6 -7 8 -9 5 -12 3 -9 0 -18 -2 -15 3 -12 1 -6 -1 -6 -3 -6 -5 -5 -6 -2 -9 1 -6 4 -6 5 -4 6 -3 9 -3 27 -4zM947 592l6 -1 7 3 3 3 5 6 4 12 0 9 -3 9 -7 9 -3 2 -6 2 -6 0 -8 -4 -6 -6 -3 -9 0 -12 3 -9 5 -7zM532 690l1 -1 3 1 1 3 -4 1 -2 -1z"/>
<path fill="#00b8ff" d="M376 84l616 0 0 60 -66 -1 -18 3 -21 5 -24 12 -18 7 -30 6 -21 7 -9 1 -15 -1 -9 1 -45 17 -33 8 -9 5 -8 8 -7 9 -3 7 -3 11 -3 24 1 9 3 9 0 3 -7 2 -6 0 -3 -1 -6 -6 -3 -1 -9 8 -3 0 -3 -1 -3 -4 -6 -13 -3 -5 -3 -3 -21 -11 -29 -22 -28 -17 -12 -4 -24 -4 -48 -4 -18 -3 -15 -4 -6 -3 -8 -6 -4 -6 -2 -6 -1 -33 -6 -39zM699 336l5 0 3 1 3 3 1 5 0 3 -4 4 -6 0 -3 -1 -2 -3 -2 -6 1 -3zM128 512l30 0 39 8 36 10 27 14 3 0 3 -1 9 -8 6 0 3 2 5 9 2 6 2 14 3 5 6 4 6 1 15 -2 6 1 8 4 4 4 3 5 8 27 4 9 2 3 31 16 14 8 13 10 14 14 6 9 13 21 15 21 9 15 5 12 0 15 -350 0zM914 522l3 0 4 3 2 3 1 3 0 9 2 3 5 6 3 6 0 3 -4 6 -7 4 -9 1 -18 -5 -12 2 -9 0 -3 -1 -6 -4 -2 -3 -1 -6 2 -6 4 -5 15 -9 12 -4 9 -5zM875 591l9 0 9 3 9 6 6 6 4 9 0 9 -3 6 -4 4 -6 4 -12 3 -9 1 -21 -2 -15 3 -9 1 -9 -1 -6 -3 -6 -5 -4 -5 -3 -9 2 -6 3 -6 5 -4 12 -5 27 -3zM947 593l6 -1 6 2 3 3 5 6 3 9 1 12 -3 9 -6 8 -3 2 -6 3 -6 0 -8 -4 -5 -6 -4 -9 0 -12 4 -9 4 -7zM533 690l1 0 2 3 -3 1 -1 -1z"/>
<path fill="#0bf" d="M388 84l604 0 0 57 -66 0 -9 0 -14 3 -19 5 -18 9 -12 5 -12 4 -27 5 -18 9 -9 1 -18 -3 -9 1 -45 18 -33 9 -6 3 -9 8 -6 7 -6 9 -3 10 -3 19 -1 13 1 15 -4 3 -5 0 -3 -1 -6 -6 -3 -1 -9 8 -3 1 -3 -2 -3 -4 -6 -14 -3 -5 -3 -2 -21 -11 -29 -23 -28 -17 -12 -4 -27 -4 -39 -3 -15 -2 -18 -5 -11 -7 -5 -6 -2 -6 0 -33 -4 -39zM701 336l3 0 3 1 4 5 -1 6 -3 3 -6 1 -5 -4 -1 -3 0 -3 3 -5zM128 514l30 0 36 7 39 11 27 13 3 0 3 -1 9 -8 3 -1 3 1 3 2 5 8 2 6 2 15 3 5 3 2 6 2 6 0 15 -1 6 1 4 3 4 3 4 6 6 25 3 8 4 6 32 17 11 7 16 12 15 15 8 12 10 18 15 21 7 12 4 12 1 15 -348 0zM910 522l7 1 4 2 2 3 1 3 0 9 1 3 6 6 2 6 0 3 -3 6 -7 4 -9 1 -18 -6 -15 3 -6 0 -3 -1 -5 -4 -2 -3 -1 -6 1 -6 4 -4 15 -9 12 -4 9 -6zM878 592l9 1 9 4 9 6 4 6 3 9 -1 6 -3 6 -9 7 -12 4 -12 0 -18 -2 -15 3 -9 1 -6 0 -6 -2 -6 -4 -6 -7 -3 -6 1 -9 4 -6 4 -3 12 -5 30 -4zM946 594l7 -1 6 2 2 2 5 6 4 12 1 9 -3 9 -6 8 -3 2 -6 2 -3 1 -6 -2 -6 -4 -5 -7 -3 -9 1 -9 3 -9 4 -6z"/>
<path fill="#00beff" d="M399 84l593 0 0 55 -69 -1 -27 5 -15 4 -18 9 -9 4 -39 8 -15 9 -6 2 -9 1 -18 -5 -9 1 -10 4 -31 15 -34 10 -6 4 -9 7 -8 9 -5 9 -2 6 -3 18 -2 27 -1 3 -2 3 -4 1 -3 -1 -6 -7 -3 -1 -7 8 -2 2 -3 0 -3 -1 -3 -4 -6 -15 -4 -6 -22 -12 -26 -21 -32 -19 -12 -4 -27 -5 -39 -3 -12 -2 -18 -6 -9 -6 -3 -6 -1 -6 1 -27 -2 -39zM697 339l4 -3 3 1 3 1 3 4 0 3 0 3 -3 3 -3 1 -3 -1 -3 -1 -3 -5 0 -3zM128 516l27 1 12 1 18 3 45 12 30 13 3 0 3 -2 4 -4 5 -4 3 -1 3 1 3 2 5 8 2 9 2 12 3 5 3 2 6 2 6 1 15 -2 6 2 4 2 3 3 4 6 6 24 3 9 4 6 39 22 21 16 13 13 7 9 13 24 20 30 4 12 1 15 -346 0zM911 522l6 1 3 2 3 3 1 3 -1 9 2 3 6 6 2 6 -1 6 -3 3 -6 4 -9 1 -6 -2 -7 -3 -5 -1 -15 3 -6 0 -8 -5 -2 -3 -1 -6 2 -6 3 -4 15 -9 12 -4 9 -5zM881 593l9 1 9 5 7 7 4 6 1 9 -2 6 -6 6 -7 4 -12 3 -9 0 -18 -2 -15 3 -9 1 -6 0 -6 -2 -6 -4 -6 -6 -2 -6 1 -9 3 -6 7 -5 12 -4 27 -2zM947 594l6 -1 6 3 3 2 5 8 3 12 0 9 -5 9 -6 6 -3 2 -6 1 -6 -1 -7 -5 -4 -6 -2 -9 0 -9 3 -9 7 -9z"/>
<path fill="#00c1ff" d="M408 84l584 0 0 53 -66 -1 -18 2 -18 3 -9 3 -18 10 -9 3 -39 7 -6 4 -8 6 -7 3 -9 1 -18 -7 -6 0 -16 6 -32 17 -30 10 -12 8 -13 13 -5 10 -7 47 -2 6 -3 2 -3 -1 -6 -8 -3 -1 -9 11 -3 1 -3 -2 -3 -4 -6 -16 -3 -4 -21 -12 -27 -22 -33 -20 -12 -4 -27 -5 -36 -3 -12 -1 -11 -4 -10 -6 -2 -3 -2 -6 2 -30 -3 -36zM698 339l3 -2 3 0 3 2 3 3 0 3 -1 3 -2 2 -3 1 -3 0 -3 -2 -2 -4 0 -3zM128 519l30 0 33 6 42 11 27 12 3 0 3 -3 4 -5 5 -4 3 -1 3 1 3 2 5 8 2 9 2 12 3 5 3 3 6 2 6 0 15 -1 9 3 3 3 5 6 5 24 3 9 4 6 4 3 9 4 24 14 24 18 12 12 7 9 14 27 14 21 5 9 3 9 1 15 -344 0zM908 523l6 -1 6 3 2 3 1 3 0 9 2 3 5 6 3 6 -2 6 -2 3 -6 3 -9 2 -15 -6 -6 0 -9 2 -6 1 -3 -1 -6 -3 -4 -4 -1 -6 1 -3 3 -6 13 -8 18 -7zM875 594l9 0 9 2 9 6 6 7 2 6 -1 9 -3 6 -7 5 -6 3 -9 2 -9 0 -18 -3 -18 4 -9 0 -6 -1 -6 -2 -6 -6 -4 -5 -1 -6 1 -6 4 -6 6 -5 12 -3 27 -3zM949 594l7 1 7 5 5 9 2 12 -1 6 -2 6 -5 6 -6 5 -6 1 -6 -1 -6 -5 -5 -9 -2 -9 2 -9 4 -9 7 -7z"/>
<path fill="#00c4ff" d="M416 84l576 0 0 51 -66 -1 -18 1 -27 6 -18 10 -9 4 -30 3 -9 2 -6 3 -9 9 -6 3 -9 1 -4 -2 -11 -7 -3 0 -30 8 -27 17 -30 11 -12 10 -11 12 -4 7 -3 15 -4 29 -2 9 -3 3 -3 -2 -6 -7 -3 -1 -7 10 -2 2 -3 1 -3 -2 -2 -4 -7 -17 -3 -4 -21 -12 -25 -21 -35 -21 -12 -5 -27 -5 -36 -3 -9 -1 -9 -3 -6 -4 -2 -3 -2 -6 4 -30 -5 -36zM698 339l3 -1 3 0 3 1 2 3 0 3 -2 4 -3 2 -3 -1 -3 -2 -1 -3 0 -3zM128 521l27 0 21 3 24 5 30 8 30 12 3 0 3 -3 5 -6 4 -3 3 -1 3 0 3 2 5 8 2 9 1 12 4 6 9 4 6 0 15 -1 9 4 3 2 4 6 2 6 3 18 3 9 4 6 4 3 10 4 24 15 27 21 11 11 5 9 14 27 17 27 3 9 0 15 -341 0zM230 683l-3 1 3 0zM908 523l6 -1 6 3 2 3 1 3 0 9 1 3 6 6 2 6 -1 6 -2 3 -6 3 -9 1 -15 -5 -6 0 -15 3 -3 -1 -6 -3 -3 -4 -2 -6 1 -3 4 -6 12 -8 18 -7zM875 595l9 -1 6 2 9 4 6 6 4 6 1 9 -3 6 -8 8 -12 4 -9 0 -21 -3 -15 4 -9 1 -6 0 -6 -2 -6 -4 -4 -5 -3 -6 0 -6 1 -3 3 -6 6 -4 12 -4 24 -2zM943 597l7 -3 6 1 3 2 3 3 4 6 3 9 0 9 -3 9 -7 8 -6 3 -6 0 -6 -3 -5 -5 -4 -9 0 -9 2 -9 4 -7z"/>
<path fill="#00c7ff" d="M424 84l568 0 0 49 -66 -2 -18 2 -27 5 -6 3 -12 8 -9 4 -9 1 -21 0 -9 1 -6 3 -11 13 -7 3 -4 0 -5 -2 -9 -8 -3 -1 -3 0 -15 5 -15 2 -6 2 -22 17 -29 12 -6 5 -9 8 -9 10 -4 7 -2 10 -4 32 -2 9 -3 3 -3 -1 -6 -8 -3 -1 -6 10 -3 3 -3 1 -3 -2 -1 -2 -8 -19 -3 -4 -21 -12 -24 -20 -36 -23 -12 -5 -27 -6 -42 -3 -8 -4 -3 -3 -2 -3 0 -6 6 -21 1 -6 -1 -6 -8 -30zM700 339l4 -1 3 2 2 5 -2 4 -3 1 -3 0 -3 -2 -1 -3 0 -3zM128 523l27 0 15 2 27 5 30 8 33 12 3 0 3 -3 5 -7 4 -3 3 -1 3 1 3 2 5 7 2 9 1 12 1 3 3 3 3 2 6 2 6 1 15 -2 9 4 5 5 3 6 3 21 4 9 3 6 3 3 12 5 24 16 27 21 9 9 8 12 13 27 15 24 3 9 0 15 -339 0zM227 683l0 2 3 0 1 -1 -1 -3zM908 523l6 0 5 2 3 3 1 3 -1 9 2 3 5 6 3 6 -1 6 -3 3 -8 4 -6 0 -15 -5 -6 -1 -15 3 -6 -1 -4 -3 -2 -3 -2 -6 2 -6 3 -3 12 -8 18 -7zM878 595l9 0 9 4 5 4 5 6 3 9 -1 6 -4 6 -8 5 -9 3 -12 0 -18 -3 -18 5 -6 0 -6 0 -6 -2 -7 -5 -4 -6 -2 -6 1 -6 4 -6 5 -4 12 -4 24 -1zM944 597l6 -2 6 1 3 2 7 8 2 9 1 9 -3 9 -7 8 -6 3 -6 0 -6 -3 -5 -5 -3 -9 -1 -9 2 -9 4 -7z"/>
<path fill="#00caff" d="M432 84l560 0 0 46 -69 -1 -12 1 -24 4 -9 3 -15 10 -9 4 -9 1 -21 -3 -12 2 -6 4 -8 13 -3 3 -4 1 -6 -1 -3 -2 -8 -10 -4 -1 -3 0 -15 8 -6 1 -12 -1 -6 1 -6 4 -15 15 -9 5 -18 9 -9 6 -10 10 -7 9 -3 6 -1 5 -4 31 -2 12 -3 4 -3 -1 -6 -8 -3 -1 -7 12 -2 2 -3 1 -3 -2 -2 -4 -7 -18 -3 -4 -18 -10 -27 -22 -36 -23 -12 -5 -27 -8 -9 -1 -26 -2 -7 -3 -3 -3 0 -3 8 -21 1 -9 -2 -6 -7 -19 -3 -11 -2 -9zM701 339l3 0 4 3 0 3 -1 3 -3 2 -3 -1 -2 -1 -1 -3 0 -3zM128 525l27 0 18 2 57 14 30 10 3 0 8 -11 4 -3 3 -1 3 1 3 2 4 7 2 9 2 12 1 3 2 3 4 3 6 2 21 -1 9 4 4 4 4 6 3 21 3 9 4 7 3 3 12 4 9 7 14 9 28 22 9 9 7 11 14 30 13 21 3 9 0 15 -337 0zM230 681l-3 0 -1 3 1 1 3 1 1 -2zM908 523l6 0 5 2 3 3 1 3 -1 9 1 3 6 6 3 6 -2 6 -2 3 -8 4 -6 0 -15 -6 -6 0 -15 3 -6 -2 -3 -2 -3 -3 -1 -6 2 -6 2 -3 12 -8 18 -6zM878 595l9 1 9 4 6 4 5 8 1 6 -1 6 -4 6 -7 5 -9 3 -12 0 -18 -4 -15 5 -9 1 -6 -1 -6 -2 -6 -4 -5 -6 -1 -6 0 -6 4 -6 8 -5 9 -3 25 -1zM944 597l3 -1 6 -1 6 3 4 5 4 9 1 9 -1 9 -6 9 -8 4 -6 0 -6 -2 -4 -5 -4 -9 0 -9 2 -9 3 -6z"/>
<path fill="#00ceff" d="M441 84l551 0 0 44 -69 -1 -24 2 -21 5 -6 3 -12 10 -9 2 -9 0 -18 -6 -12 0 -6 2 -3 2 -2 3 -4 15 -2 3 -4 2 -3 0 -4 -2 -4 -6 -2 -9 -2 -2 -3 -1 -3 1 -12 10 -6 3 -9 0 -12 -3 -6 1 -6 4 -12 14 -6 6 -18 10 -9 6 -9 8 -10 12 -5 10 -4 35 -2 8 -3 6 -3 -1 -6 -9 -3 -1 -6 12 -3 4 -3 1 -3 -3 -1 -2 -8 -20 -3 -4 -12 -6 -9 -6 -21 -18 -42 -28 -51 -19 -3 -1 -3 -3 -2 -27 -4 -9 -10 -21 -3 -9 -1 -9zM699 342l2 -2 3 0 3 2 1 3 -1 2 -3 2 -3 0 -3 -4zM908 523l6 0 5 2 2 3 1 3 0 9 1 3 6 6 2 6 -1 6 -2 3 -8 4 -6 0 -6 -2 -9 -4 -6 0 -15 3 -6 -2 -3 -2 -2 -3 -2 -6 2 -6 2 -3 12 -7 18 -7zM128 527l24 0 18 2 60 14 30 9 3 0 9 -12 3 -3 3 0 3 0 4 3 3 6 2 6 2 15 3 6 4 3 6 2 21 -1 9 4 4 4 3 6 3 21 4 12 4 5 3 2 9 3 6 4 6 5 12 8 30 23 9 9 8 13 10 24 15 27 2 9 0 12 -335 0zM227 681l-1 3 1 2 3 0 1 -2 0 -3 -1 -1zM881 596l9 1 9 5 4 4 4 6 1 6 -1 6 -5 6 -6 4 -9 3 -9 1 -21 -4 -15 4 -9 1 -6 0 -6 -2 -6 -4 -4 -6 -2 -6 1 -6 4 -6 7 -5 9 -2 27 -2zM945 597l5 -1 3 0 6 3 6 7 3 9 0 9 -3 9 -6 7 -6 3 -6 0 -6 -3 -4 -4 -4 -9 0 -9 2 -9 3 -6z"/>
<path fill="#00d1ff" d="M452 84l540 0 0 42 -69 -1 -36 4 -12 3 -12 10 -6 4 -9 1 -6 -1 -5 -2 -10 -7 -6 -3 -15 -3 -9 -1 -21 5 -7 3 -3 3 -2 9 -4 6 -3 3 -5 3 -9 0 -12 -6 -3 -1 -3 0 -3 1 -6 6 -18 21 -24 17 -12 12 -9 10 -3 9 -5 39 -4 9 -3 -1 -6 -9 -3 -2 -7 15 -2 2 -3 1 -4 -3 -8 -22 -3 -4 -18 -9 -22 -19 -23 -15 -18 -14 -6 -3 -22 -10 -7 -6 -9 -15 -8 -21 -14 -30 -3 -12zM788 155l3 0 3 3 0 4 -1 3 -2 1 -3 0 -3 -3 0 -4zM700 342l1 -1 3 -1 2 2 1 3 -3 3 -3 0 -2 -3zM908 523l6 0 4 2 3 3 1 3 -1 9 2 3 5 6 3 6 -1 6 -3 3 -7 3 -6 1 -6 -2 -9 -4 -6 0 -15 2 -6 -1 -3 -2 -2 -3 -2 -6 2 -6 3 -3 11 -7 18 -7zM128 529l27 0 12 1 63 15 30 9 3 -1 3 -3 4 -7 5 -5 3 -1 3 0 3 3 4 6 2 6 1 15 3 6 5 3 6 2 21 0 9 4 4 3 3 6 2 21 4 12 5 6 15 6 9 8 12 8 30 23 9 9 7 12 11 27 13 24 2 9 0 12 -333 0zM227 680l-1 4 1 3 3 0 2 -3 -1 -3 -1 -1zM875 597l9 -1 9 3 6 4 6 6 2 6 0 6 -3 6 -5 5 -6 3 -9 2 -9 0 -18 -4 -18 5 -9 1 -6 -1 -6 -3 -7 -8 -2 -6 1 -6 4 -6 7 -5 9 -2 27 -1zM946 597l7 -1 7 4 6 9 2 9 -1 9 -4 9 -7 6 -6 1 -6 -1 -6 -5 -4 -7 -1 -6 0 -9 4 -9 4 -6z"/>
<path fill="#00d4ff" d="M464 84l528 0 0 40 -69 -1 -39 4 -12 3 -12 12 -3 2 -6 1 -6 0 -6 -3 -9 -11 -3 -3 -6 -2 -15 -4 -9 -1 -6 0 -11 2 -19 5 -3 1 -3 3 0 3 4 6 1 6 -1 6 -4 5 -6 3 -6 -1 -6 -4 -6 -10 -3 -1 -3 0 -9 8 -23 30 -19 15 -15 15 -6 7 -3 7 -5 37 -1 7 -3 5 0 1 -3 0 -6 -11 -3 -2 -6 15 -3 4 -3 1 -3 -2 -1 -3 -8 -21 -3 -3 -18 -10 -21 -18 -25 -17 -20 -16 -14 -8 -7 -6 -4 -6 -6 -12 -20 -48 -3 -12zM700 342l4 -1 1 1 1 3 -2 2 -3 0 -1 -2zM908 524l6 -1 4 2 3 3 1 6 -1 6 1 3 6 6 3 6 -1 6 -3 3 -7 3 -6 1 -6 -2 -9 -5 -6 0 -9 3 -6 0 -6 -2 -3 -2 -2 -2 -2 -6 2 -6 3 -3 11 -7 18 -7zM128 531l24 0 15 1 93 23 3 -1 10 -14 2 -2 3 -1 3 1 5 5 3 6 2 18 3 6 5 4 6 1 21 0 6 2 3 2 3 3 3 6 3 23 4 10 4 6 16 6 9 9 42 31 8 8 9 15 10 27 11 21 2 9 0 12 -331 0zM227 680l-2 4 2 3 3 0 2 -3 -1 -3 -1 -1zM878 597l9 0 9 4 6 5 4 6 1 6 -2 6 -4 6 -8 5 -9 2 -6 0 -21 -5 -18 6 -9 0 -6 -1 -6 -3 -6 -7 -2 -6 1 -6 4 -6 6 -4 9 -3 27 -1zM947 597l6 0 6 3 5 6 2 6 1 6 0 9 -5 9 -6 5 -6 2 -6 -2 -6 -5 -3 -6 -2 -6 1 -9 3 -9 4 -5z"/>
<path fill="#00d7ff" d="M475 84l517 0 0 38 -69 -1 -47 5 -8 3 -8 10 -3 2 -6 2 -6 -1 -3 -2 -3 -5 -2 -6 -4 -4 -6 -2 -24 -6 -12 0 -27 3 -15 3 -17 6 -7 4 -6 6 -31 44 -23 22 -12 14 -4 9 -4 33 -1 7 -3 7 -3 0 -3 -5 -3 -7 -3 -2 -7 18 -2 2 -3 2 -4 -4 -7 -21 -4 -5 -15 -7 -24 -21 -27 -18 -23 -21 -8 -9 -12 -21 -15 -42 -2 -12zM742 141l4 -2 3 1 6 3 2 4 0 3 -1 3 -2 3 -5 2 -3 0 -5 -2 -2 -3 -1 -6 1 -3zM701 345l0 -1 3 -2 1 3 -1 1zM906 525l5 -2 3 0 4 2 3 3 1 6 -1 6 1 3 6 6 3 6 -2 6 -2 3 -7 3 -6 0 -6 -1 -9 -5 -6 0 -9 2 -6 1 -6 -2 -3 -2 -3 -5 0 -3 2 -6 2 -3 11 -7 18 -7zM128 533l24 0 12 1 96 22 3 -1 10 -15 5 -3 3 1 5 5 3 6 2 18 2 6 6 4 6 2 21 0 6 1 3 2 3 4 3 5 2 21 4 12 4 6 5 3 6 1 6 3 9 9 42 31 9 10 7 12 11 30 9 18 2 9 0 12 -329 0zM227 680l-2 4 2 3 3 0 2 -3 0 -3 -2 -2zM949 597l7 1 6 5 4 9 1 9 -2 9 -3 6 -6 5 -6 1 -6 -1 -6 -5 -3 -6 -1 -9 1 -9 3 -7 6 -6zM866 600l9 -2 9 -1 6 2 8 4 6 6 2 6 0 6 -3 6 -7 6 -9 3 -12 0 -18 -5 -18 6 -6 1 -6 -1 -6 -2 -6 -4 -3 -4 -2 -6 1 -6 4 -6 6 -4 12 -3 18 0z"/>
<path fill="#00daff" d="M485 84l296 0 16 1 9 -1 186 0 0 35 -69 0 -51 5 -7 2 -2 2 -6 10 -6 2 -3 0 -3 -2 -1 -3 -2 -9 -3 -3 -9 -3 -27 -5 -12 -1 -33 3 -22 3 -11 3 -5 3 -4 5 -13 22 -22 33 -22 23 -7 10 -2 3 -2 9 -4 33 -3 9 -3 0 -4 -6 -2 -7 -3 -2 -7 18 -2 4 -3 2 -3 -3 -8 -21 -1 -3 -3 -3 -15 -8 -22 -19 -26 -18 -10 -9 -11 -12 -18 -33 -10 -30 -4 -15zM743 147l3 -2 3 -1 3 2 2 4 -1 3 -4 3 -3 0 -3 -3 -1 -3zM906 525l5 -2 3 1 3 1 4 3 1 6 -2 6 2 3 6 6 2 6 -1 6 -3 3 -6 3 -6 0 -6 -2 -9 -4 -6 0 -9 2 -6 1 -6 -2 -3 -2 -3 -5 0 -3 2 -6 2 -3 14 -8 15 -5zM128 535l24 0 12 1 96 21 3 -1 3 -4 4 -9 3 -3 5 -2 3 0 5 5 3 6 2 18 2 6 3 3 6 2 9 2 15 -1 6 2 3 2 3 3 3 5 1 21 4 12 4 6 5 3 7 1 6 3 9 10 24 19 18 12 8 9 8 15 11 30 7 15 2 9 0 12 -327 0zM227 679l-2 5 2 4 3 0 3 -4 -1 -3 -2 -2zM875 598l9 0 6 1 8 4 5 6 3 6 -1 6 -3 6 -6 5 -9 3 -12 0 -18 -4 -18 6 -6 0 -6 0 -6 -2 -6 -4 -3 -4 -2 -6 1 -6 4 -6 6 -4 12 -3 21 0zM943 600l4 -2 3 -1 6 1 6 6 4 8 1 9 -2 9 -3 5 -3 4 -6 3 -6 0 -6 -4 -4 -5 -2 -6 -1 -6 1 -9 3 -6z"/>
<path fill="#0df" d="M493 84l261 0 40 4 11 -1 12 -3 175 0 0 33 -69 1 -57 5 -12 1 -25 -7 -23 -4 -12 -1 -63 5 -12 3 -5 3 -4 5 -11 22 -13 21 -8 15 -22 25 -6 9 -3 11 -2 30 -4 10 -3 1 -3 -6 -3 -9 -3 -3 -6 19 -3 6 -3 1 -4 -4 -5 -16 -5 -8 -16 -9 -21 -18 -25 -18 -10 -9 -7 -9 -18 -42 -10 -30 -2 -12zM906 525l5 -1 3 0 3 1 3 3 1 3 -1 9 1 3 6 6 3 6 -1 6 -3 3 -6 3 -6 0 -6 -2 -9 -4 -6 0 -9 2 -6 0 -6 -1 -3 -3 -3 -4 0 -3 2 -6 3 -3 13 -8 15 -5zM128 537l24 0 12 1 96 20 3 -1 3 -4 5 -10 2 -3 5 -2 3 0 5 5 2 6 2 18 3 7 6 4 6 1 21 0 6 2 3 2 3 4 2 4 1 6 0 15 4 12 4 6 4 3 9 2 6 3 9 10 23 18 16 11 10 10 9 15 8 26 8 19 2 9 1 12 -326 0zM227 679l-2 2 -1 3 3 4 3 0 3 -4 0 -3 -3 -2zM878 598l9 0 6 3 6 4 4 4 2 6 0 6 -3 6 -6 5 -9 3 -12 0 -12 -4 -6 -1 -6 1 -9 4 -9 2 -6 0 -6 -2 -6 -5 -2 -3 -2 -6 1 -6 4 -6 5 -4 9 -2 24 -1zM943 600l7 -3 6 2 3 2 4 5 3 9 0 9 -3 9 -4 5 -6 3 -6 0 -6 -3 -4 -5 -2 -6 -1 -6 1 -9 3 -6z"/>
<path fill="#00e0ff" d="M501 84l223 0 70 6 12 -1 20 -5 166 0 0 30 -66 2 -39 4 -27 0 -12 -1 -42 -8 -12 -1 -66 4 -14 3 -5 3 -5 6 -9 21 -12 21 -10 21 -18 21 -5 8 -3 10 -3 33 -3 9 -3 0 -3 -6 -3 -10 -3 -3 -7 22 -2 4 -3 2 -3 -3 -6 -18 -3 -6 -3 -3 -9 -4 -6 -4 -21 -18 -24 -17 -9 -8 -6 -9 -3 -6 -5 -21 -16 -48 -2 -12zM907 525l4 -1 3 0 3 1 3 3 1 3 -1 9 1 3 6 6 3 6 -1 6 -3 3 -6 3 -6 0 -6 -2 -9 -4 -6 -1 -9 3 -6 0 -6 -2 -3 -2 -2 -4 -1 -3 2 -6 3 -3 13 -8 15 -5zM128 539l33 0 99 20 3 -1 3 -4 5 -11 3 -3 4 -2 3 1 5 4 2 6 2 18 3 7 6 4 6 2 21 0 6 2 3 2 5 7 1 6 0 15 3 11 4 7 4 3 10 2 6 3 9 11 22 17 17 12 9 9 6 9 4 9 8 26 6 16 2 9 1 12 -324 0zM227 679l-2 2 -1 3 1 3 2 1 3 0 3 -3 0 -4 -3 -3zM878 598l9 1 6 2 6 4 3 4 3 6 -1 6 -3 6 -5 4 -9 4 -12 -1 -12 -4 -6 -1 -6 2 -9 4 -9 2 -6 -1 -6 -2 -6 -4 -2 -3 -2 -6 1 -6 4 -6 5 -3 9 -3 24 0zM944 600l6 -2 6 1 3 2 4 5 3 9 0 9 -3 9 -4 5 -6 3 -6 0 -6 -3 -4 -5 -2 -6 -1 -6 2 -9 2 -6z"/>
<path fill="#00e3ff" d="M509 84l202 0 8 3 6 1 69 4 15 -1 26 -7 157 0 0 27 -69 4 -45 4 -24 -1 -45 -9 -12 -1 -72 3 -15 3 -6 4 -6 6 -9 23 -9 18 -7 21 -4 6 -16 19 -3 5 -3 9 -2 30 -4 13 -3 0 -3 -7 -3 -10 -3 -3 -6 22 -3 6 -3 2 -3 -3 -6 -18 -3 -6 -18 -11 -20 -18 -25 -18 -9 -9 -4 -6 -2 -6 -5 -27 -12 -45zM907 525l4 -1 3 0 3 1 3 3 1 3 -1 9 1 3 6 6 3 6 -2 6 -2 3 -6 3 -6 0 -15 -7 -6 0 -9 3 -6 0 -6 -2 -3 -2 -2 -4 -1 -3 3 -6 2 -3 13 -8 15 -5zM274 540l4 -2 3 1 4 4 4 9 2 18 1 3 3 3 7 3 6 2 18 -1 6 2 4 3 2 3 2 6 0 15 1 9 4 9 5 6 3 1 9 1 6 3 9 12 21 17 18 12 9 9 5 8 4 9 14 42 2 9 0 12 -322 0 0 -227 24 0 12 1 45 9 51 9 3 -1 3 -4 4 -9zM230 678l-3 0 -2 3 -1 3 1 3 2 2 3 0 2 -2 1 -3 0 -3zM881 599l6 0 6 2 6 5 3 3 2 6 0 6 -3 6 -8 5 -9 3 -9 -1 -12 -4 -6 -1 -6 1 -12 5 -9 1 -6 -1 -6 -3 -4 -5 -2 -3 0 -6 2 -6 4 -4 6 -4 9 -1 24 0zM944 600l6 -2 7 2 5 6 3 9 1 9 -2 6 -5 8 -6 3 -6 0 -6 -4 -3 -4 -3 -6 0 -6 1 -9 3 -6z"/>
<path fill="#00e6ff" d="M517 84l185 0 5 3 12 3 39 2 36 3 12 -2 38 -9 148 0 0 23 -32 4 -79 6 -30 -2 -45 -9 -9 -1 -41 3 -34 1 -12 2 -9 3 -8 6 -3 6 -13 35 -5 22 -3 6 -16 20 -4 7 -3 12 -2 28 -3 10 -3 1 -4 -9 -2 -11 -3 -2 -7 25 -2 5 -3 1 -3 -2 -6 -19 -3 -5 -17 -10 -19 -18 -24 -18 -10 -9 -3 -6 -3 -9 -5 -39 -6 -30zM907 525l7 -1 3 2 3 2 1 3 -2 9 1 3 7 6 3 6 -2 6 -2 2 -6 3 -6 1 -15 -7 -6 0 -15 3 -6 -2 -3 -3 -2 -3 0 -3 2 -6 3 -3 12 -7 15 -6zM274 540l4 -2 3 1 4 4 4 9 1 18 4 6 5 3 6 2 21 -1 6 2 3 3 3 3 2 6 -1 15 2 9 3 9 5 6 4 2 9 1 6 3 9 12 23 18 16 11 9 9 6 10 5 12 11 39 2 18 -321 0 0 -226 24 1 12 1 41 8 55 9 3 -1 3 -4 4 -10zM230 678l-3 0 -3 4 1 5 2 2 3 0 2 -2 2 -3 -1 -4zM881 599l6 1 6 2 6 4 4 6 1 6 -2 6 -3 4 -9 5 -9 1 -6 0 -12 -5 -6 -1 -6 1 -12 6 -9 1 -6 -1 -6 -4 -4 -4 -1 -3 -1 -6 2 -6 4 -4 6 -3 9 -2 24 0zM945 600l5 -2 6 2 6 6 3 9 1 6 -2 9 -5 7 -6 4 -6 0 -6 -4 -3 -4 -2 -6 -1 -6 1 -9 3 -6z"/>
<path fill="#00e9ff" d="M525 84l167 0 4 3 7 3 13 3 45 1 33 4 6 0 24 -7 29 -7 103 1 12 1 10 4 5 3 2 3 0 3 -3 3 -7 3 -13 3 -78 8 -18 -1 -18 -2 -21 -4 -30 -7 -36 4 -42 0 -12 2 -12 4 -7 5 -5 9 -9 30 -4 24 -3 9 -16 21 -4 9 -2 9 -1 25 -3 12 -3 0 -3 -7 -3 -14 -3 -1 -3 8 -5 19 -1 3 -3 2 -3 -3 -6 -19 -3 -5 -12 -6 -6 -4 -18 -17 -26 -20 -5 -6 -4 -6 -3 -12 -2 -39 -3 -30zM908 525l6 -1 5 4 2 3 -2 9 1 3 6 6 3 6 -1 6 -2 2 -6 3 -6 1 -15 -7 -6 0 -15 3 -6 -2 -3 -3 -2 -3 0 -6 5 -6 12 -7 15 -5zM275 540l3 -1 3 0 3 3 3 4 2 9 1 15 3 6 6 3 6 2 6 0 12 0 6 1 6 3 2 3 2 6 -1 15 1 6 3 9 5 8 3 2 12 2 6 3 9 13 22 17 17 11 9 10 7 12 4 12 10 36 1 18 -319 0 0 -224 33 1 45 9 54 8 3 -1 3 -4 4 -11zM227 678l-3 3 0 5 3 3 3 0 3 -3 1 -5 -4 -4zM875 600l9 -1 6 2 6 3 5 5 3 6 -1 6 -3 6 -4 3 -6 3 -9 1 -9 -2 -9 -3 -6 -2 -6 2 -12 6 -9 1 -6 -2 -6 -3 -5 -7 -1 -6 2 -6 4 -4 6 -3 9 -2 24 1zM946 600l4 -1 6 1 6 6 3 9 0 6 -1 9 -5 7 -6 3 -6 0 -3 -1 -6 -6 -2 -6 -1 -9 1 -6 5 -8z"/>
<path fill="#00ecff" d="M533 84l150 0 6 5 6 3 21 6 6 1 27 -2 21 2 -5 3 -13 1 -18 0 -6 -1 -6 -2 -3 1 -27 8 -6 3 -6 5 -5 9 -3 15 -3 15 -1 24 -2 6 -5 9 -11 15 -4 9 -1 9 -1 21 -3 14 -3 0 -3 -8 -3 -14 -3 -1 -3 8 -4 19 -2 5 -3 2 -3 -3 -6 -19 -3 -5 -12 -6 -5 -4 -16 -15 -27 -21 -5 -6 -4 -6 -2 -6 0 -6 0 -42zM862 84l44 0 50 7 9 4 2 4 -2 3 -6 3 -12 2 -45 6 -24 2 -24 -2 -21 -4 -15 -4 -7 -3 -1 -3 5 -3 9 -3zM908 525l6 0 5 3 1 3 -1 9 1 3 6 6 3 6 0 3 -3 5 -6 3 -6 0 -15 -6 -6 0 -15 3 -6 -2 -3 -3 -2 -3 1 -6 4 -6 12 -7 15 -5zM275 540l3 -1 3 0 3 3 2 4 3 9 1 16 3 5 6 4 6 1 6 1 12 -1 6 1 5 3 3 3 1 3 1 6 -1 12 0 6 3 9 6 9 3 2 3 1 9 0 6 3 2 3 4 7 3 4 20 16 19 12 8 9 6 9 5 15 10 36 1 18 -318 0 0 -222 33 1 43 8 56 8 3 -1 1 -1 2 -3 4 -12zM227 678l-3 3 0 6 3 3 3 -1 3 -2 1 -6 -1 -2 -3 -2zM877 600l7 0 6 1 6 3 5 5 2 6 0 6 -4 6 -6 4 -9 3 -6 -1 -6 -1 -12 -5 -3 0 -6 1 -12 6 -9 1 -9 -2 -4 -3 -4 -6 0 -6 2 -6 3 -4 6 -3 9 -2 24 1zM946 600l4 -1 3 0 6 4 4 6 2 9 -1 9 -2 6 -6 6 -6 1 -6 -1 -3 -3 -4 -6 -1 -6 0 -9 2 -6 3 -5z"/>
<path fill="#00efff" d="M541 84l134 0 5 6 14 9 -1 3 -13 7 -6 5 -5 9 -4 21 0 30 0 9 -4 9 -11 16 -4 8 -2 12 -1 21 -2 12 -3 0 -6 -23 -3 0 -3 7 -5 22 -1 3 -3 3 -3 -4 -5 -17 -4 -6 -9 -4 -7 -5 -17 -16 -24 -20 -6 -6 -4 -6 -2 -6 0 -9 4 -54zM856 87l17 -3 23 0 48 9 7 3 3 3 -2 3 -14 4 -33 6 -24 2 -21 -2 -24 -4 -11 -3 -6 -3 -1 -3 4 -3 8 -3zM909 525l5 0 3 1 2 2 1 3 -1 9 0 3 7 6 3 6 -1 6 -3 3 -5 2 -6 0 -3 0 -9 -6 -6 -1 -18 3 -6 -2 -3 -2 -1 -3 0 -6 4 -6 15 -8 12 -4zM276 540l2 -1 3 1 3 2 2 4 3 9 1 17 3 5 6 3 6 2 6 0 12 -1 6 1 5 3 3 3 1 3 1 6 -2 12 0 6 4 10 5 8 4 3 12 0 5 3 3 3 4 9 3 3 19 15 19 12 9 9 7 12 4 12 9 36 1 18 -317 0 0 -220 33 1 45 8 54 7 3 -1 2 -2 5 -15zM227 677l-3 4 0 6 3 3 3 0 3 -3 1 -6 -2 -3 -2 -1zM879 600l8 0 6 3 5 3 4 6 1 6 -2 6 -5 5 -6 3 -6 1 -6 0 -6 -1 -12 -5 -3 -1 -6 2 -12 6 -9 1 -9 -3 -3 -2 -5 -6 0 -6 2 -6 3 -3 6 -4 9 -1 15 1 9 -1zM947 600l6 0 6 3 4 6 2 9 -1 9 -3 6 -5 5 -6 2 -6 -2 -3 -2 -4 -6 -1 -6 0 -9 2 -6 4 -6z"/>
<path fill="#00f2ff" d="M549 84l117 0 4 6 8 9 -1 3 -11 12 -4 6 -1 6 -2 18 3 24 1 15 -3 9 -10 14 -4 10 -2 12 -1 21 -2 10 -3 0 -6 -23 -3 0 -3 7 -5 24 -1 2 -3 2 -3 -3 -5 -16 -3 -6 -13 -7 -6 -5 -15 -15 -22 -18 -6 -6 -4 -6 -1 -6 0 -12 9 -60zM864 87l17 -2 18 2 31 6 9 3 3 3 -2 3 -8 3 -27 5 -24 2 -18 -1 -21 -3 -10 -3 -6 -3 -1 -3 4 -3 8 -3zM910 525l4 0 3 1 3 5 -2 9 1 3 7 7 3 5 -2 6 -3 3 -4 2 -6 0 -3 -1 -9 -5 -6 -1 -18 3 -6 -2 -2 -2 -3 -6 1 -3 4 -6 12 -7 15 -5zM278 539l3 1 3 2 2 4 3 9 1 18 3 4 6 3 9 2 15 0 6 1 4 2 3 3 2 3 1 6 -3 12 1 6 3 9 5 9 5 3 12 1 5 2 3 3 4 10 2 2 19 15 21 14 9 10 5 9 5 15 8 33 1 18 -316 0 0 -218 33 0 44 8 55 7 3 -1 2 -3 6 -15 2 -3zM227 677l-3 4 0 6 3 3 3 0 3 -3 1 -6 -2 -3 -2 -1zM949 600l4 0 6 4 5 8 1 6 -1 9 -3 6 -5 5 -6 2 -6 -2 -5 -5 -3 -6 0 -6 1 -9 3 -6 4 -4zM867 603l14 -3 6 1 6 2 4 3 5 6 1 6 -2 6 -5 5 -9 4 -6 0 -6 -1 -12 -5 -6 -1 -6 1 -12 7 -9 1 -9 -3 -6 -5 -1 -3 -1 -6 2 -6 3 -3 6 -4 9 -1 18 1z"/>
<path fill="#00f5ff" d="M558 84l99 0 8 15 0 3 -9 15 -3 15 1 12 6 24 1 15 -3 9 -10 15 -3 9 -2 9 0 21 -2 11 -3 0 -6 -23 0 -1 -3 2 -3 6 -6 26 -3 3 -3 -4 -4 -14 -3 -6 -17 -10 -18 -18 -20 -17 -8 -9 -3 -6 0 -9 1 -10 14 -59zM876 87l14 0 18 3 21 6 4 3 -2 3 -8 3 -9 2 -18 3 -15 1 -15 0 -18 -3 -10 -3 -6 -3 -1 -3 4 -3 10 -4 15 -3zM910 525l4 0 5 3 1 3 -2 9 1 3 9 9 0 6 -1 3 -3 3 -4 2 -6 0 -5 -2 -7 -4 -6 -1 -18 3 -6 -2 -2 -2 -2 -3 0 -3 0 -3 4 -5 12 -7 15 -6 6 -4zM281 540l3 3 2 3 3 9 1 18 3 5 6 3 9 2 15 -1 6 1 3 1 4 4 1 3 1 6 -2 12 0 6 3 9 5 9 6 4 12 0 4 2 3 3 6 12 19 15 19 12 6 6 5 6 7 12 3 12 8 33 1 18 -315 0 0 -217 33 1 45 8 54 6 3 0 1 -2 2 -3 5 -15 4 -5zM227 677l-4 4 0 6 4 3 3 0 4 -3 0 -6 -1 -3 -3 -1zM881 600l6 1 6 2 4 3 4 6 1 6 -2 6 -4 5 -9 3 -6 1 -6 -1 -12 -6 -6 -1 -6 2 -12 6 -9 2 -9 -3 -5 -5 -2 -3 -1 -6 3 -6 2 -3 6 -3 9 -2 21 1zM943 603l4 -2 3 -1 6 2 4 4 3 6 2 9 -2 9 -4 5 -6 4 -3 1 -6 -2 -5 -5 -2 -6 -1 -6 0 -6 3 -6z"/>
<path fill="#00f8ff" d="M568 84l81 0 4 12 1 6 -6 15 -1 15 2 12 9 27 1 9 -1 6 -2 6 -7 12 -4 9 -2 12 -1 21 -1 8 -3 1 -3 -18 -3 -6 -3 2 -3 6 -6 25 -3 4 -3 -3 -4 -13 -3 -6 -2 -2 -12 -6 -4 -4 -14 -15 -25 -21 -4 -6 -3 -6 0 -9 3 -15 10 -33 10 -24 1 -9zM864 90l17 -2 15 1 17 4 8 3 4 3 -2 3 -7 3 -14 3 -18 2 -12 0 -16 -2 -12 -3 -6 -3 -2 -3 4 -3 9 -3zM914 525l4 3 2 3 -2 9 1 3 8 9 1 6 -1 3 -3 3 -4 2 -6 0 -15 -7 -6 0 -15 3 -6 -2 -2 -2 -2 -3 0 -6 5 -6 14 -8 12 -3 9 -6zM277 540l4 0 5 6 3 9 1 18 3 5 6 3 9 2 18 0 6 2 3 3 2 3 1 6 -3 12 0 6 3 9 6 10 3 2 3 1 9 0 7 2 3 3 5 12 19 15 20 13 11 11 6 12 4 12 7 33 1 18 -314 0 0 -215 33 1 45 7 54 6 3 0 3 -5 2 -7 3 -9 4 -5zM227 677l-4 4 0 6 4 4 3 -1 4 -3 1 -6 -2 -3 -3 -2zM881 601l6 0 6 2 4 3 4 6 1 6 -2 6 -4 4 -9 4 -6 1 -6 -1 -12 -6 -6 -1 -6 1 -12 7 -9 1 -9 -3 -5 -4 -2 -3 0 -6 2 -6 3 -3 5 -3 9 -2 21 2zM943 603l4 -2 3 -1 6 2 4 4 3 6 1 6 -1 9 -4 8 -6 4 -3 0 -6 -1 -4 -5 -3 -6 -1 -6 1 -6 2 -6z"/>
<path fill="#00fbff" d="M580 84l58 0 5 15 -3 18 2 15 2 12 10 24 2 9 0 9 -2 6 -7 13 -4 11 -1 9 -1 26 -3 1 -3 -18 -3 -4 -3 2 -3 5 -6 27 -3 3 -3 -4 -3 -11 -3 -6 -3 -3 -9 -4 -6 -5 -15 -16 -23 -20 -4 -6 -3 -6 1 -12 3 -15 12 -30 15 -24 3 -9zM874 90l13 0 15 2 13 4 3 3 -1 3 -7 3 -14 3 -15 1 -16 -1 -15 -3 -7 -3 -1 -3 4 -3 10 -3zM904 528l7 -3 3 0 4 3 2 3 -2 9 0 3 8 7 2 5 0 3 -2 4 -6 3 -6 1 -15 -7 -6 0 -15 3 -3 -1 -5 -3 -2 -3 0 -3 0 -3 4 -5 12 -7 15 -5zM278 540l3 0 5 6 2 9 1 18 1 3 3 3 6 3 9 2 18 -1 6 2 3 3 2 3 0 6 -3 12 0 6 5 12 5 7 3 3 3 1 9 -1 7 2 3 3 1 3 2 6 2 4 17 14 22 14 10 10 7 12 3 12 7 30 1 21 -313 0 0 -213 33 0 45 7 54 6 3 0 3 -4 2 -9 3 -9 4 -5zM227 676l-4 5 0 6 3 3 4 1 4 -4 1 -6 -2 -3 -3 -2zM878 601l6 0 9 3 3 2 5 6 1 6 -3 6 -3 4 -6 3 -9 1 -6 -1 -15 -7 -6 0 -15 9 -9 1 -9 -3 -5 -4 -1 -3 -1 -6 2 -6 3 -3 5 -3 9 -2 21 2 9 -1zM944 603l6 -2 6 1 4 4 4 9 0 9 -2 6 -3 5 -6 4 -6 0 -3 -2 -4 -4 -3 -6 -1 -6 1 -6 2 -6z"/>
<path fill="#00feff" d="M592 84l25 0 2 6 13 28 10 29 9 18 4 15 -1 9 -8 15 -3 12 -2 9 0 22 -3 2 -2 -18 -4 -3 -3 2 -3 6 -6 26 -3 3 -3 -4 -4 -12 -2 -4 -3 -3 -9 -4 -6 -4 -15 -17 -21 -19 -5 -6 -2 -6 0 -6 2 -12 9 -24 6 -12 5 -7 15 -17 4 -6 3 -9zM863 93l15 -2 12 1 15 3 4 1 3 3 -1 3 -7 3 -20 3 -9 0 -12 -2 -7 -1 -7 -3 -1 -3 3 -2zM905 528l6 -3 3 1 4 2 1 3 -2 9 1 3 8 8 2 4 0 3 -2 4 -6 3 -6 1 -15 -7 -6 0 -15 2 -3 0 -4 -3 -2 -3 -1 -3 1 -3 3 -5 12 -7 15 -5zM273 543l5 -3 3 1 5 5 2 9 1 18 1 3 3 3 9 4 6 1 18 -1 5 2 4 3 1 3 1 6 -3 12 0 6 4 12 6 8 3 3 3 1 9 -2 6 2 3 3 2 3 2 9 2 2 16 13 23 15 9 9 7 12 4 12 6 33 1 18 -312 0 0 -212 33 1 45 7 54 5 3 0 3 -4 4 -16zM227 676l-2 2 -2 3 0 6 2 3 2 1 3 0 4 -4 1 -6 -2 -4 -3 -1zM878 601l6 0 6 2 6 3 3 3 2 6 0 6 -2 3 -3 3 -6 4 -9 1 -6 -1 -15 -7 -6 0 -15 8 -9 2 -9 -3 -4 -4 -2 -3 -1 -6 2 -6 3 -3 5 -3 9 -2 12 2 9 0 9 -1zM944 603l6 -2 6 2 5 6 2 6 1 9 -2 6 -3 4 -6 4 -6 0 -3 -1 -4 -4 -3 -6 0 -6 0 -6 2 -6z"/>
<path fill="#03fffc" d="M872 93l18 0 12 3 5 3 -2 3 -8 3 -16 2 -17 -2 -9 -3 -1 -3 5 -3zM597 108l5 -2 3 1 6 2 9 6 6 6 5 8 7 18 10 18 5 15 -1 9 -7 15 -3 9 -4 29 -1 -11 -1 -3 -1 -1 -3 -1 -3 3 -3 6 -3 8 -3 16 -3 5 -3 -5 -3 -10 -3 -5 -12 -7 -6 -4 -15 -18 -19 -17 -5 -6 -2 -6 0 -9 4 -12 5 -12 9 -18 5 -7 6 -7 12 -9zM905 528l6 -3 3 1 4 2 1 3 -2 9 1 3 9 9 1 6 -2 3 -3 3 -6 2 -6 -1 -9 -6 -3 -1 -6 0 -15 3 -3 0 -4 -3 -2 -3 -1 -3 1 -3 3 -5 12 -7 15 -5zM274 543l4 -3 3 1 5 5 2 9 1 18 1 4 3 3 6 3 9 2 18 -1 4 1 4 3 2 3 1 6 -4 12 0 6 4 12 7 9 3 2 3 1 9 -2 6 2 5 6 1 9 3 3 20 15 18 12 10 10 6 11 4 12 7 33 0 18 -311 0 0 -210 33 0 45 7 54 5 3 0 3 -3 4 -18zM227 676l-3 2 -1 3 0 6 2 3 2 1 3 0 4 -4 1 -6 -2 -4 -3 -1zM878 601l6 0 6 2 5 3 3 3 3 6 -1 6 -1 3 -3 3 -6 4 -9 1 -9 -2 -12 -7 -6 0 -15 9 -9 1 -9 -2 -4 -4 -2 -3 -1 -6 3 -6 2 -3 5 -3 9 -1 12 1 9 1 9 -1zM945 603l5 -2 6 2 5 6 2 6 0 9 -1 6 -5 6 -4 2 -6 0 -3 -1 -4 -4 -2 -6 -1 -6 0 -6 2 -6z"/>
<path fill="#06fff9" d="M866 96l9 -2 9 0 11 2 5 3 -1 3 -6 2 -6 1 -12 0 -14 -3 -1 -3zM592 117l7 -3 9 1 9 5 6 6 4 6 19 33 5 15 0 9 -8 18 -5 19 -3 -2 -3 1 -3 3 -5 12 -4 17 -3 5 -3 -5 -2 -8 -4 -6 -12 -6 -7 -6 -14 -17 -20 -19 -4 -9 0 -9 3 -9 5 -12 7 -13 6 -9 6 -7 6 -5zM905 528l6 -2 3 0 4 2 1 3 0 3 -2 6 0 3 10 9 1 6 -2 3 -3 3 -6 2 -6 -2 -9 -5 -3 -1 -6 0 -15 3 -3 -1 -4 -2 -2 -3 -1 -3 1 -3 3 -4 12 -8 15 -5zM274 543l4 -3 3 1 4 5 3 9 0 18 2 5 3 2 6 3 9 2 18 -1 4 1 4 3 2 3 0 6 -4 12 0 6 4 12 7 9 4 3 3 1 9 -2 6 1 4 6 2 9 2 3 19 15 20 12 10 11 6 10 4 12 6 33 1 18 -311 0 0 -209 33 1 45 7 54 4 3 0 3 -3 4 -19zM227 676l-3 2 -2 3 0 6 2 3 3 1 3 0 3 -2 2 -2 0 -6 -2 -4 -3 -2zM878 602l6 -1 6 2 6 4 4 5 1 6 -3 6 -2 3 -6 3 -9 2 -9 -3 -12 -6 -6 0 -15 9 -9 1 -6 -1 -3 -2 -4 -3 -2 -3 0 -6 0 -3 5 -6 4 -3 9 -1 15 2 9 0zM945 603l5 -2 6 2 5 6 2 6 0 9 -2 6 -4 6 -4 2 -6 0 -3 -2 -5 -6 -2 -6 0 -6 1 -6 3 -5z"/>
<path fill="#09fff6" d="M877 96l7 0 9 3 -2 3 -10 1 -12 -1 -2 -3zM595 120l7 -1 6 1 6 4 6 5 6 7 17 29 6 15 0 9 -11 32 -6 2 -6 9 -4 11 -2 11 -3 6 -8 -17 -4 -3 -9 -4 -6 -5 -15 -18 -18 -18 -4 -9 0 -9 3 -9 6 -12 7 -13 6 -8 6 -6 6 -5zM905 528l6 -2 3 0 3 2 2 3 0 3 -2 6 0 3 7 6 4 6 -1 3 -1 3 -3 3 -3 1 -6 0 -15 -7 -6 0 -9 2 -6 1 -3 -1 -4 -2 -2 -3 0 -3 0 -3 3 -4 12 -7 15 -6zM274 543l4 -2 3 0 4 5 3 9 1 21 1 2 3 3 6 3 9 2 18 -2 3 1 4 3 2 3 1 6 -4 12 -1 6 4 12 7 9 5 4 3 0 9 -2 6 2 4 5 1 9 2 3 19 15 20 12 6 6 5 6 5 9 5 15 5 30 1 18 -310 0 0 -207 33 1 45 6 48 4 9 0 3 -3 3 -17zM224 678l-2 3 0 6 2 3 3 2 3 -1 3 -1 2 -3 1 -6 -2 -3 -4 -3 -3 1zM881 602l6 0 6 3 3 2 3 5 1 6 -2 6 -2 2 -6 4 -9 1 -9 -2 -12 -7 -6 0 -3 1 -12 8 -9 2 -6 -1 -3 -2 -5 -6 -1 -6 0 -3 3 -4 6 -4 9 -2 15 2 9 0 6 -1zM946 603l4 -1 6 2 5 5 2 6 0 9 -2 6 -5 6 -3 2 -6 0 -3 -2 -5 -6 -2 -6 0 -6 2 -6 3 -6z"/>
<path fill="#0cfff3" d="M591 126l8 -3 6 1 6 2 6 5 6 7 16 24 5 9 3 9 1 6 -1 6 -9 25 -6 5 -6 9 -3 9 -3 11 -3 7 -8 -15 -3 -3 -10 -5 -5 -4 -16 -20 -16 -16 -4 -9 0 -6 2 -9 9 -18 12 -17 6 -5zM906 528l5 -2 3 0 3 2 2 3 0 3 -3 6 1 3 7 6 3 6 0 3 -1 3 -3 2 -3 2 -6 0 -15 -7 -6 0 -9 2 -6 1 -7 -3 -2 -3 0 -3 0 -3 3 -4 12 -7 15 -5zM274 543l4 -2 3 0 4 5 3 9 0 21 2 3 3 2 6 3 9 2 18 -1 3 0 4 3 2 3 1 6 -5 12 0 6 4 12 6 9 6 5 3 0 9 -3 6 2 4 5 1 9 1 3 19 15 20 12 6 5 6 7 5 9 4 15 5 27 1 21 -309 0 0 -206 30 1 48 6 57 4 3 -2 4 -19zM230 675l-3 0 -3 3 -3 6 1 3 2 3 3 2 3 0 3 -2 3 -6 -2 -6zM881 602l6 0 6 3 3 2 3 5 1 6 -1 3 -3 5 -6 4 -9 1 -9 -2 -12 -7 -6 0 -3 1 -12 8 -9 2 -6 -2 -3 -1 -5 -6 -1 -3 1 -6 2 -4 6 -4 9 -2 15 3 9 -1 6 0zM946 603l4 -1 6 2 4 5 3 6 0 9 -2 6 -5 6 -3 1 -6 0 -3 -1 -5 -6 -1 -6 -1 -6 2 -6 3 -6z"/>
<path fill="#0ffff0" d="M592 129l7 -2 6 0 6 3 6 5 6 7 15 22 4 7 3 9 1 6 -1 6 -7 21 -6 7 -6 10 -9 26 -5 -10 -4 -5 -12 -6 -8 -7 -13 -18 -14 -15 -3 -3 -2 -6 1 -6 1 -6 9 -18 6 -9 7 -9 7 -6zM906 528l5 -2 3 0 3 2 1 3 0 3 -2 6 1 3 6 6 4 6 -1 5 -3 3 -3 2 -6 0 -12 -7 -3 0 -6 0 -12 3 -6 -1 -3 -2 -2 -3 -1 -3 0 -3 3 -4 12 -7 15 -5zM274 543l4 -2 3 1 3 2 2 5 2 9 0 15 2 7 6 4 9 2 6 1 15 -2 7 3 2 3 0 6 -5 12 0 6 4 12 7 10 6 4 3 0 9 -3 6 2 4 5 0 9 2 4 18 14 21 13 11 11 5 9 4 12 6 30 1 21 -309 0 0 -204 30 0 48 7 57 3 3 -2 4 -20zM230 675l-3 0 -3 2 -3 7 1 3 1 3 4 2 3 0 3 -2 3 -6 -1 -6 -2 -2zM881 602l6 1 6 2 4 4 3 6 0 3 -3 6 -3 3 -7 3 -6 1 -9 -3 -12 -7 -6 0 -3 1 -12 9 -9 2 -6 -2 -3 -1 -5 -6 -1 -3 1 -6 2 -4 6 -4 9 -2 15 3 9 0 6 -1zM947 603l3 -1 6 2 4 5 3 9 -1 9 -3 6 -3 3 -6 2 -5 -2 -4 -3 -1 -3 -2 -6 0 -6 1 -6 4 -6z"/>
<path fill="#12ffed" d="M593 132l6 -2 6 1 6 3 6 5 19 26 5 9 3 9 0 9 -6 17 -12 20 -9 24 -6 -10 -3 -3 -12 -6 -7 -6 -14 -20 -13 -13 -3 -6 -1 -3 1 -6 1 -6 9 -17 12 -16 6 -5zM906 528l5 -2 3 0 3 2 1 3 0 3 -2 6 0 3 7 6 4 6 -1 5 -3 3 -3 2 -6 0 -12 -7 -3 0 -6 0 -12 2 -6 0 -3 -2 -2 -3 -1 -3 1 -3 2 -4 12 -7 15 -5zM275 543l3 -2 3 1 3 3 2 4 2 9 0 18 2 5 6 3 12 3 18 -2 6 3 2 3 1 6 -6 12 0 6 4 12 6 9 5 4 3 2 3 0 9 -3 6 2 3 4 0 9 1 3 2 2 17 13 22 14 10 10 6 9 4 12 5 30 1 21 -308 0 0 -203 30 1 48 6 57 3 3 -2 4 -21zM227 675l-3 2 -2 4 -1 6 3 4 3 1 3 0 3 -2 2 -3 1 -6 -3 -5 -3 -1zM881 602l6 1 6 3 4 3 2 3 1 6 -3 6 -4 4 -9 3 -6 -1 -6 -2 -9 -6 -6 -2 -6 2 -12 9 -9 1 -6 -1 -3 -2 -5 -5 -1 -3 1 -6 2 -3 6 -5 9 -2 15 3 9 0 6 -1zM947 603l6 0 5 3 3 6 2 6 -1 9 -3 5 -3 3 -6 2 -5 -1 -3 -3 -3 -6 -1 -6 0 -6 3 -6 3 -4z"/>
<path fill="#15ffea" d="M594 135l5 -2 6 1 6 4 6 5 18 23 4 8 4 9 -1 9 -4 15 -12 21 -9 22 -8 -10 -13 -6 -6 -6 -12 -17 -14 -16 -3 -6 -1 -3 0 -6 2 -6 8 -15 11 -14 6 -6zM907 528l4 -2 3 1 2 1 2 3 0 3 -2 6 0 3 7 6 4 6 0 3 -2 3 -2 2 -3 1 -6 1 -12 -7 -3 -1 -6 0 -12 3 -6 0 -3 -2 -2 -3 -1 -3 1 -3 2 -3 6 -5 9 -4 15 -5zM275 543l3 -2 3 1 3 3 2 4 2 9 -1 18 3 5 9 5 9 2 6 0 12 -2 6 2 2 3 1 6 -7 12 0 6 4 12 6 9 6 5 3 2 3 -1 9 -3 6 2 3 4 0 12 2 3 17 12 23 14 10 10 5 9 4 12 6 33 0 18 -307 0 0 -201 30 0 48 6 57 3 3 -1 1 -2 3 -21 3 -6zM227 675l-3 2 -2 4 -1 6 3 4 3 2 3 -1 3 -1 2 -4 1 -6 -3 -5 -3 -2zM877 603l10 0 6 3 4 3 1 3 1 6 -2 6 -4 3 -6 3 -9 0 -6 -2 -12 -8 -6 0 -3 1 -12 9 -9 2 -6 -1 -3 -2 -4 -5 -1 -3 0 -6 2 -3 3 -3 6 -3 6 0 15 3 9 0 6 -1zM948 603l5 0 4 3 4 6 1 6 -1 9 -2 5 -3 3 -6 2 -3 0 -5 -4 -3 -6 -1 -6 0 -6 3 -6 3 -4z"/>
<path fill="#18ffe7" d="M594 138l8 -1 6 2 6 4 9 10 9 12 6 9 3 9 0 9 -4 12 -20 44 -8 -8 -13 -7 -6 -5 -12 -19 -12 -14 -4 -6 0 -6 1 -6 7 -15 12 -15 5 -5zM907 528l4 -2 3 1 2 1 2 3 0 3 -2 6 0 3 7 6 4 6 0 3 -4 5 -3 1 -6 1 -12 -7 -3 -1 -6 0 -12 3 -6 0 -3 -2 -2 -3 -1 -3 1 -3 2 -3 6 -5 9 -4 15 -5zM275 543l3 -2 3 1 3 3 2 4 2 9 -1 18 1 3 2 3 9 4 9 3 6 -1 12 -2 5 2 3 3 0 6 -6 12 -1 6 4 12 7 9 6 6 3 1 3 0 9 -4 3 0 3 2 3 4 -1 12 2 3 17 12 24 15 6 5 5 7 5 9 3 12 5 30 1 18 -307 0 0 -200 30 1 48 6 57 2 3 -1 2 -3 2 -21 3 -6zM227 675l-3 2 -3 4 0 6 3 4 3 2 3 0 3 -2 3 -4 0 -6 -1 -3 -2 -3 -3 -1zM879 603l5 0 6 1 6 5 2 3 1 6 -1 3 -2 4 -6 4 -6 1 -9 -1 -12 -8 -6 -2 -6 2 -12 9 -9 2 -6 -1 -3 -2 -4 -5 -1 -3 0 -6 2 -3 3 -3 6 -3 6 0 15 3 6 0 9 -1zM950 603l3 0 3 2 3 3 3 7 0 6 -1 6 -2 5 -3 3 -6 2 -3 -1 -5 -3 -3 -6 -1 -6 1 -6 2 -6 3 -4z"/>
<path fill="#1bffe4" d="M594 141l5 -2 3 0 6 3 6 4 16 19 6 9 3 9 1 9 -4 12 -3 9 -16 33 -9 -7 -12 -6 -5 -5 -13 -20 -11 -13 -3 -6 0 -9 7 -15 11 -15 5 -5zM907 528l4 -1 3 0 4 4 0 3 -3 6 1 3 7 6 3 6 0 3 -3 5 -3 1 -6 0 -11 -6 -4 -1 -6 0 -12 3 -6 -1 -3 -2 -2 -2 0 -3 0 -3 5 -6 12 -6 15 -5zM275 543l3 -1 3 0 3 3 2 4 2 9 -1 18 0 3 3 4 9 4 9 2 6 0 12 -3 4 2 3 3 1 6 -2 4 -5 8 -1 6 5 12 7 10 6 6 3 1 3 0 6 -4 3 -1 3 1 3 1 2 4 1 3 -2 9 2 3 17 12 24 15 7 6 5 6 4 9 4 12 4 27 1 21 -306 0 0 -198 30 0 48 6 57 2 3 -1 2 -4 2 -21 3 -6zM227 674l-3 2 -3 5 0 6 3 5 3 1 3 0 3 -2 3 -4 1 -6 -1 -3 -3 -3 -3 -1zM880 603l10 1 6 5 2 3 1 3 -1 6 -2 3 -6 5 -6 1 -6 0 -6 -3 -12 -8 -6 0 -3 1 -12 10 -9 2 -3 -1 -6 -2 -4 -5 -1 -3 1 -6 1 -3 3 -3 6 -3 9 0 12 3 6 1 9 -2 12 -4zM944 606l3 -2 6 0 4 2 4 6 1 9 -1 6 -3 6 -5 3 -6 0 -3 -2 -5 -7 -1 -6 1 -6 2 -6z"/>
<path fill="#1effe1" d="M593 144l6 -2 3 0 6 3 6 4 15 17 5 8 4 9 0 9 -5 18 -16 34 -3 -1 -6 -5 -12 -6 -5 -4 -6 -9 -7 -13 -9 -11 -3 -6 0 -9 6 -13 10 -14zM907 528l4 -1 3 0 4 4 -1 3 -2 6 0 3 8 7 3 5 0 3 -3 5 -3 1 -6 0 -11 -6 -4 -1 -6 0 -12 3 -6 -1 -3 -2 -2 -5 0 -3 5 -5 15 -8 12 -4zM278 542l3 0 3 4 2 3 1 9 0 21 3 5 6 3 12 3 6 0 6 -2 6 -1 4 1 3 3 0 6 -1 4 -6 8 0 6 4 12 8 11 6 6 3 1 3 -1 6 -4 3 0 3 0 3 2 2 3 1 3 -2 9 1 3 17 12 24 15 7 6 5 6 5 9 3 12 5 30 1 18 -306 0 0 -197 33 1 48 6 54 1 3 -1 2 -2 2 -24 3 -6zM227 674l-3 2 -3 5 0 6 3 5 3 1 3 0 3 -2 3 -4 1 -6 -1 -3 -3 -3 -3 -1zM881 603l9 2 6 4 2 3 1 3 -1 6 -2 3 -6 4 -9 2 -9 -3 -12 -8 -6 -1 -3 1 -12 11 -9 2 -3 -1 -6 -3 -4 -4 -1 -3 1 -6 2 -3 3 -3 5 -2 9 -1 12 4 6 0 6 0zM944 606l3 -2 6 0 3 2 3 3 2 6 1 6 -1 6 -4 6 -4 3 -6 0 -3 -2 -5 -7 -1 -6 1 -6 2 -5z"/>
<path fill="#21ffde" d="M593 147l3 -2 6 0 9 4 6 6 9 10 6 9 4 9 1 9 -4 15 -5 15 -11 20 -3 0 -6 -5 -9 -3 -7 -6 -4 -6 -10 -17 -7 -10 -3 -6 0 -9 5 -12 9 -12zM908 528l3 -1 3 0 3 4 0 3 -2 6 0 3 8 7 3 5 0 3 -3 4 -3 2 -6 0 -11 -6 -4 -1 -6 0 -12 3 -6 -1 -3 -2 -2 -5 0 -3 5 -5 15 -8 12 -4zM278 542l3 1 3 3 2 3 1 12 -1 18 1 3 3 3 6 2 12 4 6 0 6 -3 6 -1 3 1 3 3 1 6 -1 3 -7 9 -1 3 1 6 4 9 9 12 6 5 3 2 3 -1 4 -3 5 -2 3 0 3 2 2 3 0 3 -2 9 1 3 17 12 24 15 8 6 5 6 4 9 4 12 5 30 0 18 -305 0 0 -195 33 0 51 6 33 1 21 0 3 -4 0 -15 1 -9 3 -6zM227 674l-3 2 -3 5 0 6 3 5 3 1 3 0 3 -1 3 -5 1 -6 -1 -3 -3 -3 -3 -1zM871 606l10 -3 9 2 5 4 2 3 1 3 0 6 -2 3 -6 4 -9 2 -9 -3 -12 -9 -6 0 -3 1 -12 10 -9 2 -3 0 -6 -3 -3 -4 -2 -3 1 -6 2 -3 3 -3 5 -2 9 0 12 3 6 1 6 -1zM944 606l3 -2 6 0 3 2 3 3 2 6 1 6 -1 6 -4 6 -4 3 -6 0 -3 -2 -4 -7 -1 -6 0 -6 2 -5z"/>
<path fill="#24ffdb" d="M592 150l4 -2 6 0 9 4 9 9 6 7 6 9 3 6 1 9 -5 21 -11 24 -3 4 -3 0 -6 -4 -9 -4 -6 -5 -5 -6 -7 -14 -12 -19 1 -9 4 -9 8 -12zM908 528l3 -1 3 0 3 4 0 3 -2 6 0 3 10 9 1 3 0 3 -3 4 -3 2 -6 0 -10 -6 -5 -1 -6 0 -12 3 -6 -1 -3 -2 -2 -5 1 -3 4 -5 15 -8 12 -3zM278 542l3 1 5 6 1 12 -1 18 1 3 2 3 10 4 9 3 6 -1 8 -3 4 0 3 0 3 3 1 3 -1 5 -7 7 -1 3 -1 3 2 6 3 9 7 10 6 6 6 4 3 -1 4 -4 5 -2 3 0 3 2 2 3 0 3 -3 9 1 3 17 12 25 15 6 5 6 7 5 9 3 12 5 30 1 18 -305 0 0 -194 33 1 33 4 18 2 33 0 21 0 3 -2 1 -3 -1 -15 2 -9 2 -6zM227 674l-5 4 -2 6 2 6 2 3 3 1 3 -1 3 -1 3 -4 1 -4 -1 -6 -2 -3 -4 -2zM878 604l6 -1 6 2 3 2 4 5 1 3 -1 6 -2 3 -3 3 -5 2 -9 0 -6 -2 -12 -9 -6 -1 -3 1 -12 11 -9 2 -6 -1 -3 -2 -3 -4 -1 -3 0 -6 2 -3 3 -3 5 -2 9 0 12 4 6 0 6 0zM945 606l5 -2 3 0 5 5 3 6 1 6 -1 6 -4 6 -4 3 -6 -1 -3 -1 -4 -7 -1 -6 0 -6 3 -6z"/>
<path fill="#27ffd8" d="M599 150l3 0 6 2 9 8 11 14 6 12 0 9 -4 18 -6 15 -7 12 -3 0 -15 -7 -6 -5 -5 -6 -17 -33 0 -3 1 -6 6 -13 6 -7 6 -6zM908 528l3 -1 3 1 3 3 0 3 -3 6 1 3 10 9 1 3 0 3 -3 4 -3 2 -6 0 -10 -6 -5 -1 -6 0 -15 3 -3 -1 -3 -3 -2 -4 1 -3 4 -5 15 -8 12 -3zM278 542l3 1 3 3 2 6 1 9 -2 18 1 3 2 3 8 4 12 4 6 0 6 -4 6 -1 3 1 2 2 2 3 -1 4 -3 4 -5 4 -2 3 0 3 2 6 3 9 8 11 6 6 6 3 3 0 6 -6 3 -1 3 1 2 1 2 3 1 3 -4 9 1 3 17 12 26 16 6 5 6 7 4 8 4 12 5 30 0 18 -304 0 0 -192 33 0 48 6 33 1 24 -1 4 -3 -1 -18 2 -9 2 -6zM227 674l-5 4 -2 6 1 6 3 3 3 1 3 0 3 -2 3 -4 1 -4 -1 -6 -2 -3 -4 -2zM878 604l6 0 6 1 3 2 4 5 1 3 -1 6 -2 3 -4 3 -4 2 -9 0 -6 -3 -12 -9 -6 -1 -3 1 -12 12 -9 2 -6 -1 -3 -2 -4 -7 0 -6 2 -3 3 -3 5 -2 9 0 12 4 6 1 6 -1zM945 606l5 -2 3 1 5 4 3 6 0 6 -1 6 -3 6 -4 2 -6 0 -3 -2 -4 -6 -1 -6 1 -6 2 -6z"/>
<path fill="#2affd5" d="M596 153l6 -1 3 1 9 7 12 13 4 7 3 6 0 9 -2 15 -6 15 -8 14 -3 0 -15 -7 -6 -5 -6 -8 -14 -30 0 -9 5 -9 9 -12 6 -4zM909 528l5 0 3 3 0 3 -3 6 0 3 10 9 2 3 0 3 -3 4 -3 1 -6 1 -10 -6 -5 -2 -6 1 -15 2 -4 -1 -3 -3 -1 -3 1 -3 4 -5 15 -8 12 -3zM277 543l4 0 3 3 2 6 1 12 -2 15 0 3 2 3 6 3 15 6 6 0 9 -5 3 -1 5 3 1 3 0 3 -3 4 -6 5 -2 3 0 3 5 15 9 12 6 6 6 3 3 0 6 -6 3 -1 5 1 2 3 0 3 -1 4 -3 5 1 3 16 12 28 16 6 5 6 8 4 7 3 12 5 27 0 21 -303 0 0 -191 33 1 48 5 33 1 24 -1 3 -1 2 -3 -1 -18 1 -9 3 -6zM227 673l-3 2 -2 3 -2 6 1 6 3 3 3 1 3 0 3 -2 3 -4 1 -4 0 -6 -3 -3 -4 -2zM878 604l6 0 6 1 3 2 4 5 1 3 -1 6 -2 3 -8 5 -9 0 -6 -3 -12 -10 -2 -1 1 -3zM945 606l5 -2 3 1 5 4 3 6 0 6 -1 6 -4 6 -3 2 -6 0 -3 -2 -3 -4 -2 -5 1 -9 2 -6zM823 609l7 -2 6 0 13 5 4 3 -2 1 -6 8 -6 5 -6 2 -6 -1 -6 -3 -4 -6 1 -6 1 -3z"/>
<path fill="#2dffd2" d="M595 156l4 -1 6 1 9 6 11 12 6 12 1 9 -2 15 -5 15 -8 13 -3 0 -12 -5 -6 -3 -3 -3 -7 -11 -12 -27 1 -9 5 -9 7 -9zM909 528l5 0 3 3 0 3 -3 6 0 3 10 9 2 3 -1 3 -2 4 -3 1 -6 1 -3 -1 -6 -5 -6 -2 -6 0 -15 3 -4 -1 -3 -3 -1 -3 1 -3 4 -5 15 -7 12 -4zM277 543l4 0 3 4 2 5 1 12 -3 18 2 3 7 4 18 7 3 -1 5 -4 4 -2 3 0 4 2 2 3 -1 3 -2 3 -8 6 -1 3 1 6 3 9 8 12 9 9 6 4 3 0 6 -7 3 -1 5 1 2 3 0 3 -1 3 -4 6 1 3 16 12 29 17 6 5 6 8 5 9 2 12 4 27 1 18 -303 0 0 -189 33 0 48 5 30 1 27 -1 4 -2 1 -3 -1 -15 0 -9 4 -9zM224 675l-4 6 0 6 1 3 3 3 3 1 3 0 3 -2 4 -5 1 -6 -1 -3 -4 -4 -3 -1 -3 0zM873 606l5 -2 6 0 6 2 3 2 4 4 1 3 -1 6 -2 3 -5 3 -6 2 -6 -1 -8 -4 -10 -9 1 -3zM946 606l4 -1 5 1 3 3 2 6 1 6 -1 6 -4 6 -3 2 -6 0 -3 -2 -3 -4 -1 -5 -1 -6 2 -6zM823 609l7 -2 6 0 12 5 3 3 -7 9 -5 4 -6 3 -6 -1 -6 -3 -4 -6 1 -6 1 -3z"/>
<path fill="#30ffcf" d="M594 159l5 -2 3 0 9 5 12 12 4 6 3 6 1 9 -1 15 -6 15 -4 8 -3 4 -3 0 -12 -4 -6 -4 -3 -3 -5 -7 -11 -27 -1 -6 2 -9 9 -12zM910 528l4 0 2 3 0 3 -2 6 0 3 10 9 1 3 0 3 -2 4 -3 1 -6 1 -3 -2 -6 -4 -6 -2 -6 0 -15 3 -3 -1 -4 -3 0 -3 0 -3 4 -4 15 -8 12 -4zM278 543l3 0 2 3 4 9 -1 12 -3 15 1 3 6 4 21 9 3 -1 6 -6 3 -1 3 -1 4 2 1 3 0 3 -2 3 -9 4 -2 2 0 3 5 15 8 12 9 9 7 5 3 1 3 -6 3 -3 3 -1 4 1 3 3 0 3 -1 3 -6 6 2 3 16 12 30 18 6 5 6 7 4 9 3 12 4 27 0 18 -302 0 0 -188 30 1 51 5 33 0 21 -1 6 -1 3 -2 0 -3 -2 -12 0 -12 4 -9zM224 675l-4 6 0 6 1 4 3 3 3 1 3 -1 3 -1 4 -6 1 -6 -1 -3 -4 -5 -3 0 -3 0zM873 606l5 -2 6 0 6 2 3 2 3 4 1 3 -1 6 -2 3 -4 3 -6 2 -6 -1 -8 -4 -9 -9 2 -3zM950 605l3 0 3 2 3 5 2 6 0 6 -3 6 -2 3 -6 2 -3 0 -3 -2 -3 -5 -1 -4 -1 -6 2 -6 3 -4zM823 609l7 -2 6 0 11 5 3 3 -6 9 -5 4 -6 2 -6 0 -6 -3 -4 -6 1 -6 2 -3z"/>
<path fill="#34ffcb" d="M593 162l3 -2 6 0 9 4 12 12 6 10 1 6 1 6 -3 15 -4 12 -7 11 -3 1 -12 -4 -6 -4 -3 -3 -4 -7 -3 -6 -8 -21 -1 -6 3 -9 6 -9zM910 528l4 0 2 3 0 3 -3 6 1 3 2 3 8 6 1 3 0 3 -2 3 -3 2 -6 0 -3 -1 -6 -4 -6 -2 -6 0 -15 3 -3 -1 -3 -3 -1 -3 0 -3 4 -4 15 -8 12 -3zM274 546l4 -3 3 1 3 3 2 5 1 12 -5 18 1 3 4 3 27 13 2 2 1 9 5 12 6 9 5 6 11 10 6 3 1 -1 3 -6 2 -2 3 -2 4 1 2 3 1 3 -2 3 -6 6 2 3 16 12 31 18 6 5 5 7 5 9 3 12 3 27 1 18 -302 0 0 -186 30 0 51 5 33 0 27 -1 3 -2 1 -2 -2 -12 -1 -9 1 -9zM224 675l-4 6 -1 6 2 4 3 3 6 0 3 -1 4 -6 1 -6 -1 -3 -4 -5 -3 -1 -3 1zM322 591l4 -1 3 1 2 3 -1 3 -4 4 -6 1 -3 -1 -1 -1 1 -3 1 -3zM874 606l4 -1 6 -1 6 2 3 2 3 4 1 3 -1 6 -2 3 -4 3 -6 2 -6 -1 -8 -4 -8 -9 1 -3zM950 605l3 1 3 2 3 4 2 6 -1 6 -2 6 -3 3 -5 2 -3 -1 -3 -2 -3 -4 -1 -4 0 -6 1 -5 3 -5zM823 609l7 -2 9 1 7 4 2 3 0 3 -4 6 -3 3 -5 2 -6 1 -6 -1 -5 -5 -2 -6 3 -6z"/>
<path fill="#37ffc8" d="M598 162l4 0 6 2 9 7 8 9 4 9 1 12 -3 15 -7 16 -3 3 -3 1 -14 -5 -7 -6 -7 -12 -6 -21 -1 -9 5 -9 6 -7 3 -3zM911 528l3 1 2 2 0 3 -3 6 0 3 3 3 7 5 2 4 0 3 -2 3 -3 2 -6 0 -12 -7 -9 0 -15 3 -3 -1 -3 -3 -1 -3 1 -3 3 -4 15 -8 12 -3zM274 546l4 -3 3 1 3 3 2 5 1 6 -1 9 -4 15 0 3 5 5 15 7 9 6 3 4 11 23 7 9 12 11 6 3 3 1 0 -6 1 -3 4 -3 4 0 3 3 0 3 -3 5 -6 4 2 3 22 15 24 14 9 7 5 6 4 9 3 12 4 27 0 18 -301 0 0 -185 30 1 51 4 33 0 27 -1 4 -2 1 -3 -3 -12 -1 -9 1 -9zM224 674l-4 7 -1 6 2 4 3 3 6 1 3 -2 4 -6 1 -6 -1 -3 -4 -5 -3 -1 -3 1zM323 591l5 0 2 3 -1 4 -3 2 -3 1 -3 -1 -2 -3 1 -3zM874 606l4 -1 6 -1 6 2 3 2 3 4 1 3 -1 6 -2 3 -4 3 -6 1 -6 0 -7 -4 -6 -6 -2 -3 1 -3zM947 606l3 -1 3 1 3 2 3 4 1 6 0 6 -2 6 -5 4 -3 1 -3 -1 -5 -4 -1 -3 -1 -6 2 -9 2 -4zM824 609l6 -2 9 2 6 3 3 3 -1 3 -4 6 -7 5 -6 1 -6 -1 -5 -5 -2 -6 3 -6z"/>
<path fill="#3affc5" d="M596 165l3 -1 6 1 9 5 9 9 5 10 1 12 -2 15 -7 15 -3 4 -3 1 -12 -4 -6 -4 -3 -3 -5 -9 -7 -21 -1 -9 2 -6 6 -9zM911 528l3 1 2 2 0 3 -3 6 0 3 3 3 7 6 2 3 0 3 -2 3 -3 2 -6 0 -12 -7 -9 0 -15 3 -3 -1 -3 -3 -1 -3 1 -3 3 -4 15 -8 12 -3zM274 546l4 -3 3 1 4 5 1 6 1 6 -2 9 -1 5 -5 10 3 3 18 9 8 6 5 6 9 18 4 6 15 16 12 7 8 7 13 9 30 17 8 7 5 6 5 9 3 12 3 27 1 18 -301 0 0 -183 30 0 36 4 18 0 33 0 21 -1 6 -1 5 -2 -1 -3 -1 -1 -3 -8 -2 -9 1 -9zM224 674l-4 7 -1 6 2 5 3 2 6 1 3 -2 4 -6 1 -6 -1 -3 -1 -3 -3 -2 -3 -1 -3 0zM326 591l3 2 0 4 -3 2 -3 1 -3 -3 1 -3 2 -2zM875 606l9 -1 6 1 4 3 2 3 1 6 -3 6 -7 4 -6 0 -6 -1 -7 -6 -4 -6 1 -3zM948 606l5 0 3 2 3 4 1 6 0 6 -2 6 -5 4 -3 1 -3 -1 -4 -4 -2 -3 -1 -6 2 -9 2 -4zM824 609l6 -2 10 2 5 3 2 3 0 3 -4 6 -7 5 -6 1 -6 -1 -5 -5 -1 -6 2 -6zM358 642l4 0 3 3 0 3 -3 4 -3 2 -3 -1 -2 -2 0 -3 1 -3z"/>
<path fill="#3dffc2" d="M595 168l4 -2 3 0 9 4 6 4 5 6 5 9 2 12 -2 12 -3 9 -4 8 -3 4 -3 1 -12 -4 -6 -4 -6 -8 -5 -12 -3 -15 0 -6 2 -6 3 -5zM911 528l3 1 2 2 -1 3 -2 6 0 3 2 3 8 6 2 3 0 3 -2 3 -3 2 -6 0 -12 -7 -9 0 -15 3 -3 -1 -3 -3 -1 -3 1 -3 3 -4 15 -8 12 -3zM274 546l4 -2 3 0 4 5 1 6 0 9 -2 11 -3 5 -3 2 -3 -3 -2 -3 -3 -12 1 -9zM128 586l27 0 45 4 33 1 33 -2 12 -2 19 10 12 9 16 27 13 14 35 25 31 18 10 9 6 9 4 12 4 30 0 18 -300 0zM230 672l-3 0 -4 3 -2 3 -2 6 0 3 2 5 3 3 3 0 3 0 4 -2 2 -3 2 -6 0 -6 -2 -3 -3 -2zM322 594l4 -2 3 2 -1 3 -2 1 -3 0 -1 -1zM875 606l9 -1 6 2 3 2 2 3 2 6 -4 6 -6 4 -6 0 -6 -2 -7 -5 -4 -6 2 -3zM949 606l4 0 3 2 2 4 2 6 0 6 -3 6 -4 4 -3 0 -3 0 -4 -4 -2 -4 -1 -5 2 -9 2 -3zM827 608l6 -1 6 2 5 3 3 3 -1 3 -3 6 -4 3 -6 3 -6 -1 -5 -2 -3 -3 -1 -6 2 -6zM355 645l4 -3 3 0 2 3 1 3 -3 4 -3 1 -3 -1 -2 -4z"/>
<path fill="#40ffbf" d="M593 171l6 -3 3 0 6 2 6 4 6 5 6 10 2 12 -1 12 -3 9 -4 8 -3 3 -3 1 -9 -2 -8 -4 -5 -6 -4 -9 -5 -18 0 -9 4 -8zM911 529l3 0 1 2 0 3 -3 6 1 3 2 3 8 6 2 3 0 3 -2 3 -3 2 -6 0 -12 -7 -9 0 -15 2 -3 -1 -3 -2 -1 -3 1 -3 3 -4 15 -8 12 -3zM275 546l3 -2 3 0 4 5 1 6 0 9 -2 10 -3 5 -3 2 -3 -3 -1 -2 -3 -12 0 -9zM128 588l30 0 36 3 21 1 30 0 33 -3 17 8 9 6 4 4 16 26 14 15 34 24 32 18 10 9 5 9 4 12 4 30 1 18 -300 0zM230 672l-3 0 -4 3 -2 3 -2 6 0 3 2 5 3 3 3 1 3 -1 4 -2 2 -3 2 -6 0 -6 -2 -3 -3 -3zM323 594l3 -1 1 1 -1 3 -1 0zM876 606l8 -1 6 2 3 2 2 3 1 6 -3 6 -6 3 -6 1 -6 -2 -7 -5 -3 -6 1 -3 4 -3zM950 606l3 1 3 2 3 6 1 6 -1 5 -2 4 -4 3 -3 1 -3 -1 -4 -3 -2 -3 -1 -6 2 -9 2 -3 3 -2zM825 609l8 -2 6 2 5 3 2 3 0 3 -3 6 -4 3 -6 3 -6 -1 -5 -2 -3 -3 -1 -6 3 -6zM355 645l4 -3 3 1 2 2 0 3 -2 3 -3 1 -3 -1 -1 -3z"/>
<path fill="#43ffbc" d="M597 171l5 -1 3 0 9 5 8 8 5 9 1 12 -2 12 -6 13 -3 4 -3 1 -12 -3 -6 -4 -6 -8 -3 -9 -3 -15 1 -9 2 -6 3 -4zM911 529l3 1 1 1 0 3 -3 6 1 3 2 3 8 6 1 3 0 3 -2 3 -5 2 -3 0 -4 -2 -5 -4 -6 -2 -6 0 -12 3 -6 -1 -2 -2 -1 -3 0 -3 3 -3 15 -8 12 -3zM275 546l3 -2 3 0 3 5 2 6 0 9 -2 9 -3 5 -3 2 -3 -2 -2 -5 -2 -9 0 -9zM128 589l27 0 42 4 33 0 48 -2 15 6 8 6 6 6 16 24 8 9 10 9 30 21 33 19 9 8 6 9 4 12 4 30 0 18 -299 0zM224 673l-3 4 -2 7 0 6 2 3 3 2 3 1 6 -2 3 -3 2 -4 1 -6 -3 -6 -3 -3 -3 -1zM876 606l8 -1 6 2 3 2 2 3 1 6 -1 3 -2 3 -6 3 -6 1 -6 -2 -6 -5 -3 -6 1 -3 3 -3zM825 609l8 -1 5 1 6 3 2 3 0 3 -4 6 -3 3 -6 2 -6 0 -4 -2 -3 -3 -2 -6 3 -6zM947 607l3 -1 3 1 3 2 3 6 1 6 -1 6 -3 4 -3 2 -3 1 -3 -1 -3 -2 -2 -4 -2 -9 2 -6zM356 645l3 -2 3 0 2 2 0 3 -2 3 -3 1 -3 -2 -1 -2z"/>
<path fill="#46ffb9" d="M595 174l7 -2 9 2 9 7 3 5 3 6 1 12 -1 12 -6 12 -3 4 -3 1 -9 -1 -7 -4 -5 -6 -5 -9 -2 -12 -1 -12 4 -9zM911 529l4 2 0 3 -3 6 0 3 2 3 9 6 1 3 0 3 -2 3 -5 2 -3 0 -4 -2 -5 -4 -6 -2 -6 0 -12 3 -6 -1 -2 -2 -1 -3 0 -3 3 -3 15 -8 12 -3zM275 546l3 -2 3 1 3 4 2 6 0 9 -2 9 -3 5 -3 1 -3 -2 -2 -4 -2 -9 0 -9zM128 591l30 0 54 3 30 0 33 -2 6 1 12 6 6 4 7 6 16 24 18 18 30 21 32 18 11 9 6 9 3 12 5 30 0 18 -299 0zM227 672l-3 1 -4 5 -2 6 0 3 3 6 3 2 3 1 6 -2 3 -3 2 -4 1 -6 -3 -7 -3 -2zM877 606l7 -1 6 2 3 2 2 3 1 6 -1 3 -3 3 -5 3 -6 1 -6 -2 -6 -5 -2 -3 -1 -3 1 -3 3 -3zM825 609l8 -1 5 1 5 3 2 3 0 3 -1 3 -5 6 -6 2 -6 0 -4 -2 -3 -3 -2 -3 1 -6 2 -3zM947 607l3 -1 3 1 3 2 3 6 1 6 -2 6 -2 4 -3 2 -3 1 -3 -1 -3 -2 -2 -4 -1 -9 1 -6zM356 645l3 -2 3 1 1 1 0 3 -1 2 -3 1 -3 -3z"/>
<path fill="#49ffb6" d="M599 174l6 0 9 3 6 6 5 9 2 12 -2 12 -5 12 -3 4 -3 1 -12 -3 -6 -4 -5 -7 -3 -9 -2 -15 1 -9 3 -5 3 -4zM911 529l4 2 0 3 -3 6 0 3 2 3 9 7 1 2 0 3 -2 3 -5 2 -3 0 -12 -8 -9 0 -12 3 -3 0 -5 -3 -1 -3 0 -3 3 -3 15 -8 12 -3zM275 546l3 -2 3 1 3 4 2 6 0 9 -2 8 -3 5 -3 1 -3 -2 -2 -3 -2 -9 0 -9 2 -6zM128 592l30 0 51 3 30 0 36 -2 6 1 9 4 7 5 7 6 17 24 8 9 12 11 33 22 27 15 6 4 6 6 5 8 4 12 4 30 0 18 -298 0zM227 671l-3 2 -4 5 -2 9 3 6 3 3 3 0 6 -1 3 -3 2 -5 1 -6 -3 -7 -3 -2zM881 605l6 1 6 4 3 5 0 3 -1 3 -3 3 -5 3 -6 0 -6 -1 -6 -5 -3 -6 1 -3 4 -3zM825 609l8 -1 5 1 5 3 2 3 0 3 -1 3 -5 6 -3 1 -6 1 -6 -1 -4 -4 -1 -3 0 -6 2 -3zM945 609l5 -2 3 0 3 3 3 5 1 6 -1 4 -3 5 -3 3 -3 0 -3 0 -3 -3 -2 -3 -1 -9 2 -6zM357 645l2 -1 3 0 1 1 0 3 -1 2 -3 0 -3 -2z"/>
<path fill="#4cffb3" d="M596 177l6 -2 9 2 9 7 5 8 2 12 -2 12 -5 11 -3 4 -3 1 -9 -1 -6 -3 -6 -6 -4 -9 -2 -15 0 -9 3 -6zM911 529l3 2 0 3 -3 6 1 3 2 3 6 4 3 3 1 2 0 3 -2 3 -5 2 -3 -1 -3 -1 -6 -5 -3 -1 -9 0 -12 3 -3 0 -5 -3 -1 -3 1 -3 2 -3 15 -8 12 -3zM275 546l3 -2 4 2 3 6 1 6 0 6 -2 8 -3 5 -3 1 -3 -2 -1 -3 -3 -9 0 -9 2 -6zM128 593l30 1 54 2 27 0 36 -1 6 1 9 4 12 9 21 27 18 18 31 21 29 15 6 5 6 6 5 7 3 12 5 30 0 18 -298 0zM227 671l-3 2 -4 5 -2 9 3 7 3 2 3 1 6 -2 3 -3 2 -5 1 -6 -1 -3 -2 -4 -3 -2zM881 605l6 1 5 3 3 3 1 6 -1 3 -5 4 -6 2 -6 0 -5 -3 -5 -6 -1 -3 1 -3 3 -3zM826 609l7 -1 4 1 5 3 2 3 1 3 -1 3 -5 5 -3 2 -6 1 -6 -1 -4 -4 -1 -3 0 -6 2 -3zM945 609l5 -2 3 0 3 3 3 5 0 9 -3 6 -3 3 -3 0 -3 -1 -3 -2 -2 -3 -1 -9 2 -6zM358 645l1 -1 3 0 1 4 -1 1 -3 1 -2 -2z"/>
<path fill="#4fffb0" d="M598 177l7 -1 9 4 7 6 4 9 1 9 -1 12 -5 11 -3 3 -3 2 -9 -2 -6 -2 -5 -6 -5 -9 -2 -12 1 -12 5 -8zM908 531l3 -1 3 1 0 3 -3 6 1 3 2 3 6 4 3 3 1 5 -2 3 -5 2 -3 -1 -3 -1 -6 -5 -3 -1 -9 0 -12 3 -3 0 -5 -3 -1 -3 1 -3 2 -3 15 -8 12 -3 3 -1zM278 544l4 2 3 6 1 6 0 6 -2 7 -3 5 -3 1 -3 -2 -1 -2 -3 -9 1 -9 1 -6zM128 595l30 0 51 3 30 -1 36 -1 6 1 7 3 8 6 6 5 20 25 19 19 30 20 30 16 6 4 6 6 5 10 3 9 4 30 0 18 -297 0zM227 671l-3 2 -4 5 -2 9 1 3 2 4 6 3 6 -2 3 -3 3 -5 0 -6 0 -3 -3 -5 -3 -2zM878 606l9 0 5 3 2 3 1 6 -1 3 -4 4 -6 2 -6 -1 -5 -2 -5 -6 -1 -3 1 -3 3 -3zM826 609l4 -1 6 1 6 3 2 3 -1 6 -4 5 -3 2 -6 1 -6 -2 -4 -3 -1 -3 0 -6 2 -3zM946 609l4 -2 3 1 3 2 3 5 0 9 -3 6 -3 2 -3 1 -3 -1 -3 -2 -3 -6 1 -9zM358 645l4 0 0 3 -3 1 -1 -1z"/>
<path fill="#52ffad" d="M596 180l6 -3 9 2 6 4 3 3 4 6 2 12 -2 12 -4 10 -3 4 -3 2 -9 -2 -6 -3 -5 -5 -3 -6 -3 -9 0 -12 2 -9zM908 531l3 -1 3 1 0 3 -3 6 0 3 2 3 7 4 3 4 1 4 -3 3 -4 1 -3 0 -3 -1 -6 -5 -3 -1 -9 0 -12 3 -3 0 -4 -3 -2 -3 1 -3 3 -3 14 -8 12 -2 3 -2zM276 546l2 -1 4 1 3 6 1 6 0 6 -2 7 -3 5 -3 1 -3 -2 -2 -5 -2 -9 1 -9zM128 596l27 0 63 3 54 -2 9 1 6 3 12 9 22 26 20 19 29 20 31 16 6 5 6 6 5 9 2 9 5 30 0 18 -297 0zM227 671l-3 1 -4 6 -2 9 0 3 3 4 6 3 6 -2 3 -3 3 -5 0 -6 0 -3 -3 -5 -3 -2zM879 606l8 0 5 3 2 3 1 6 -1 3 -4 4 -6 2 -6 -1 -6 -3 -4 -5 -1 -3 2 -3 3 -3zM826 609l4 -1 6 1 6 3 2 3 -1 6 -4 5 -3 2 -6 1 -6 -2 -4 -3 -1 -3 0 -6 3 -3zM946 609l4 -2 3 1 3 2 2 5 1 9 -3 6 -3 2 -3 1 -3 -1 -3 -3 -2 -5 0 -9zM359 645l2 0 0 3 -3 0z"/>
<path fill="#5fa" d="M598 180l7 -2 9 3 6 6 4 8 2 9 -2 12 -4 10 -3 3 -3 2 -9 -1 -6 -3 -5 -5 -4 -9 -2 -12 1 -9 4 -8zM909 531l2 -1 2 1 1 3 -3 6 0 3 2 3 9 6 2 3 -1 3 -2 3 -4 1 -3 0 -9 -6 -3 -1 -9 0 -12 2 -3 0 -4 -2 -2 -3 1 -3 3 -3 14 -8 15 -4zM276 546l2 -1 4 1 3 6 1 6 -2 12 -3 5 -3 1 -3 -2 -2 -4 -2 -9 1 -9zM128 597l30 1 51 2 63 -2 9 2 6 2 12 10 20 24 22 20 28 19 32 17 6 4 5 6 6 9 2 9 4 30 1 18 -297 0zM227 671l-3 1 -4 6 -3 9 1 3 3 5 6 2 6 -2 3 -2 3 -6 1 -6 -1 -3 -3 -5 -3 -2zM884 606l6 2 4 4 1 3 -1 6 -3 3 -4 2 -6 1 -6 -2 -5 -4 -1 -3 -1 -3 1 -3 6 -5zM827 609l3 -1 6 1 5 3 3 3 0 3 -1 3 -2 3 -5 4 -3 1 -6 -1 -6 -4 -2 -3 1 -6 2 -3zM946 609l4 -1 3 0 4 4 2 6 -2 9 -4 5 -3 1 -3 -1 -2 -2 -3 -6 0 -9 2 -4z"/>
<path fill="#58ffa7" d="M600 180l8 0 6 2 6 6 4 7 1 9 -1 12 -4 9 -3 4 -3 2 -9 -1 -6 -4 -4 -4 -5 -9 -1 -12 1 -9 3 -7 3 -3zM911 530l2 1 0 3 -3 6 1 3 2 3 9 6 1 3 0 3 -2 3 -4 1 -3 0 -9 -7 -3 -1 -9 0 -12 3 -3 0 -4 -2 -1 -3 0 -3 3 -3 14 -8 15 -3zM276 546l2 -1 3 1 4 6 1 6 -2 12 -3 5 -3 1 -3 -2 -2 -4 -2 -9 2 -9zM128 599l30 0 51 2 63 -1 9 1 6 3 10 8 21 24 23 21 27 18 33 17 6 5 5 5 5 9 3 9 4 30 0 18 -296 0zM227 670l-3 2 -3 3 -3 6 -1 6 1 3 3 5 6 2 6 -1 3 -3 3 -6 1 -6 -1 -3 -3 -5 -3 -2zM827 609l3 -1 6 1 5 3 2 3 1 3 -1 3 -2 3 -5 3 -3 2 -6 -1 -6 -4 -2 -3 1 -6 2 -3zM873 609l8 -3 6 1 3 1 4 4 1 3 -1 6 -3 3 -4 2 -6 1 -6 -2 -4 -4 -3 -6 1 -3zM946 609l4 -1 4 1 3 3 2 6 -1 6 -1 3 -4 5 -3 0 -5 -2 -3 -6 0 -9 2 -4z"/>
<path fill="#5bffa4" d="M596 183l6 -3 9 1 7 5 5 9 2 9 -1 12 -4 9 -3 3 -3 2 -9 -1 -6 -3 -4 -4 -3 -6 -3 -12 1 -9 2 -6zM910 531l2 0 1 3 -3 6 1 4 1 2 9 6 2 3 0 3 -2 3 -4 1 -3 0 -9 -7 -3 -1 -9 0 -12 3 -3 0 -4 -2 -1 -3 0 -3 3 -3 14 -7 15 -4zM278 545l3 1 4 6 1 6 -2 12 -3 5 -3 1 -3 -3 -2 -3 -1 -9 1 -9 2 -5zM128 600l81 2 63 -1 9 1 6 3 9 7 18 21 27 25 26 17 34 18 10 9 6 9 2 9 4 30 1 18 -296 0zM224 672l-3 3 -3 6 -1 6 1 3 1 3 3 3 5 2 3 -1 6 -4 2 -3 2 -6 -1 -6 -3 -6 -3 -2 -6 0zM827 609l6 0 3 0 5 3 2 3 0 3 -1 3 -2 3 -4 3 -3 1 -6 0 -6 -4 -2 -3 1 -6 2 -3zM873 609l8 -3 6 1 3 1 4 4 1 3 -1 6 -4 4 -6 2 -6 -1 -3 -2 -4 -3 -3 -6 2 -3zM947 609l3 -1 3 1 3 3 2 6 0 6 -1 3 -4 4 -3 1 -3 -1 -3 -3 -2 -7 0 -6 2 -3z"/>
<path fill="#5effa1" d="M598 183l7 -2 6 1 6 4 3 3 3 6 2 9 -2 12 -4 9 -2 3 -3 2 -9 -1 -6 -3 -5 -7 -3 -6 -1 -9 0 -9 3 -7zM911 531l1 3 -2 3 0 3 1 4 3 3 7 5 2 3 0 3 -3 3 -3 1 -3 0 -9 -7 -3 -1 -9 0 -12 3 -3 0 -4 -2 -1 -3 1 -3 4 -4 12 -6 15 -4zM278 545l3 1 2 3 3 9 -2 11 -3 5 -3 1 -3 -2 -2 -3 -1 -9 1 -9 2 -5zM128 602l78 1 66 -1 6 1 8 3 10 8 20 22 27 24 23 15 35 18 10 9 5 9 3 9 4 30 0 18 -295 0zM224 672l-3 3 -3 6 -1 6 0 3 2 3 3 3 5 2 3 0 6 -5 2 -3 2 -6 -1 -6 -3 -6 -3 -2 -6 0zM828 609l8 0 5 3 2 3 0 3 -3 6 -7 4 -6 0 -3 -1 -3 -3 -1 -3 -1 -3 2 -4 3 -3zM873 609l8 -3 6 1 3 1 3 4 2 3 -2 6 -3 3 -6 2 -6 0 -3 -2 -4 -3 -2 -6 1 -3zM947 609l3 -1 3 1 3 3 2 6 0 6 -1 3 -4 4 -3 1 -3 -1 -3 -3 -2 -7 1 -6 1 -3z"/>
<path fill="#61ff9e" d="M600 183l5 -1 3 0 6 2 6 6 3 8 1 9 -1 9 -4 9 -5 4 -3 1 -6 -1 -6 -4 -5 -6 -3 -6 -1 -9 1 -9 2 -6 3 -4zM911 531l1 3 -2 3 -1 3 2 5 3 3 6 3 3 4 0 3 -3 3 -6 1 -9 -7 -3 -1 -9 0 -12 3 -3 0 -3 -2 -2 -3 1 -3 4 -4 12 -6 15 -3zM278 545l3 1 2 3 3 9 -2 11 -3 5 -3 1 -3 -2 -1 -3 -2 -9 1 -9 2 -4zM128 603l81 1 60 -1 9 1 6 2 9 7 22 23 29 26 21 13 33 17 6 4 6 6 6 9 2 9 4 30 1 18 -295 0zM224 671l-3 4 -3 6 -1 6 0 3 4 6 3 2 6 0 6 -4 2 -4 2 -6 0 -6 -4 -6 -3 -2 -6 0zM829 609l7 1 4 2 3 3 0 3 -3 6 -7 4 -6 0 -3 -2 -4 -5 -1 -3 2 -4 3 -3zM873 609l8 -3 6 1 3 2 3 3 1 3 -1 6 -3 3 -6 2 -6 0 -3 -2 -4 -3 -1 -3 -1 -3 1 -3zM948 609l2 -1 3 1 3 3 2 6 0 6 -1 3 -4 4 -3 1 -3 -1 -3 -3 -2 -7 2 -9z"/>
<path fill="#64ff9b" d="M602 183l6 0 6 2 6 6 3 7 1 9 -1 9 -4 9 -5 4 -3 0 -6 -1 -6 -3 -5 -6 -2 -6 -2 -12 2 -9 4 -6zM911 533l0 1 -2 3 1 6 2 3 8 5 3 4 0 3 -3 3 -6 0 -9 -6 -3 -1 -9 0 -12 3 -3 0 -3 -2 -2 -3 1 -3 4 -4 12 -6 15 -3zM277 546l4 0 2 3 2 9 -1 10 -3 6 -3 1 -3 -3 -1 -2 -2 -9 1 -9 2 -4zM128 604l78 1 63 0 9 1 6 2 9 6 17 19 22 20 12 10 20 12 34 17 6 4 6 6 5 9 3 9 4 30 0 18 -294 0zM224 671l-4 4 -2 6 -1 9 4 6 3 2 6 0 6 -4 3 -4 1 -6 0 -6 -4 -6 -3 -2 -6 0zM829 609l7 1 4 2 2 3 1 3 -3 6 -7 4 -6 0 -3 -2 -4 -5 0 -3 1 -4 3 -3zM874 609l7 -2 6 0 3 2 3 3 1 3 0 3 -1 3 -3 3 -6 2 -6 -1 -3 -1 -3 -3 -2 -3 -1 -3 1 -3zM953 609l3 3 2 6 0 6 -2 3 -3 4 -3 0 -3 0 -3 -4 -2 -6 2 -8 3 -3z"/>
<path fill="#68ff97" d="M598 186l4 -2 3 -1 6 1 6 4 5 7 2 9 -1 9 -3 9 -3 5 -3 2 -6 0 -6 -2 -6 -5 -3 -6 -2 -9 0 -9 2 -6zM908 536l3 10 9 5 3 4 -1 3 -2 3 -3 1 -3 -1 -9 -7 -3 0 -12 0 -9 3 -3 -1 -3 -1 -1 -3 0 -3 3 -3 13 -7zM277 546l4 0 2 3 2 9 -1 10 -3 5 -3 1 -4 -4 -2 -9 1 -9 2 -4zM128 606l141 0 9 1 6 2 8 6 17 18 35 30 24 15 30 15 6 4 5 5 6 9 2 9 4 30 1 18 -294 0zM224 671l-4 4 -3 6 0 9 1 3 3 4 3 1 6 0 6 -4 3 -4 1 -6 0 -6 -3 -6 -4 -2 -6 -1zM830 609l6 1 4 2 2 3 0 3 -2 6 -7 4 -6 0 -3 -2 -4 -5 0 -6 3 -3zM874 609l7 -2 6 0 3 2 3 3 1 3 0 3 -1 3 -3 3 -6 2 -6 -1 -3 -1 -5 -6 0 -3 1 -3zM950 609l3 1 3 3 2 8 -2 6 -3 3 -3 1 -3 -1 -3 -3 -2 -6 2 -8 3 -3z"/>
<path fill="#6bff94" d="M599 186l6 -2 6 1 6 4 3 4 2 5 2 9 -2 9 -4 9 -4 3 -6 0 -6 -2 -5 -4 -4 -6 -2 -9 1 -9 2 -6zM902 537l6 0 3 9 9 6 2 3 0 3 -2 3 -3 1 -3 -1 -9 -7 -3 0 -12 0 -9 2 -3 0 -3 -1 -1 -3 0 -3 4 -3 12 -7zM278 546l3 1 2 2 2 9 0 6 -2 6 -2 3 -3 1 -4 -4 -2 -9 1 -9 2 -4zM128 607l141 0 9 1 6 3 9 7 18 18 33 28 23 14 31 15 11 9 5 9 3 9 4 30 0 18 -293 0zM230 669l-6 2 -3 3 -3 4 -2 6 1 6 1 4 3 3 6 2 6 -2 3 -2 3 -5 2 -6 -1 -6 -1 -3 -3 -4zM874 609l7 -2 6 1 3 1 3 3 1 3 0 3 -1 3 -4 3 -5 2 -6 -1 -3 -1 -5 -6 0 -3 1 -3zM823 612l4 -2 3 -1 6 1 4 2 2 3 0 3 -1 3 -2 3 -3 3 -6 1 -4 -1 -4 -3 -2 -3 1 -6zM945 612l2 -2 3 -1 3 1 4 5 1 3 -1 6 -1 3 -3 3 -3 1 -3 -1 -3 -3 -1 -3 0 -6z"/>
<path fill="#6eff91" d="M600 186l5 -1 3 0 6 2 5 5 3 6 1 9 -1 9 -4 9 -4 3 -6 0 -8 -3 -5 -6 -2 -6 -2 -6 1 -9 4 -9zM889 540l7 -2 9 -1 3 2 3 7 9 6 2 3 0 3 -2 2 -3 1 -3 0 -9 -7 -3 -1 -12 1 -9 2 -5 -1 -2 -3 1 -4 3 -2zM278 546l3 1 2 2 1 3 1 6 0 6 -2 6 -2 3 -3 1 -4 -4 -2 -9 1 -9 2 -4zM128 608l141 0 9 2 6 2 8 6 18 18 34 29 22 13 32 16 10 8 6 9 3 9 3 30 1 18 -226 0 -1 -9 -3 -2 -3 -1 -60 0zM230 669l-6 1 -3 3 -3 5 -2 6 0 6 2 4 3 3 6 2 6 -1 3 -3 3 -5 2 -6 -1 -6 -1 -3 -3 -4zM875 609l6 -2 6 1 3 1 3 3 1 3 0 3 -2 3 -3 3 -5 2 -6 -1 -3 -2 -5 -5 0 -3 1 -3zM823 612l4 -2 3 -1 6 1 3 2 3 3 -1 6 -5 5 -6 2 -4 -1 -4 -3 -2 -3 0 -3 1 -3zM945 612l5 -3 3 1 4 5 0 3 0 6 -1 3 -3 3 -3 1 -3 -1 -3 -4 -1 -8z"/>
<path fill="#71ff8e" d="M602 186l6 -1 6 3 4 4 4 6 1 9 -1 9 -3 6 -2 3 -3 2 -6 1 -7 -3 -5 -5 -3 -7 -1 -9 1 -9 3 -5zM889 540l7 -2 9 -1 3 3 3 7 9 5 2 3 0 3 -2 2 -3 1 -3 0 -9 -7 -3 -1 -12 1 -9 2 -5 -1 -2 -3 1 -3 3 -3zM275 549l3 -3 3 1 3 5 1 3 0 6 -1 6 -3 5 -3 1 -3 -2 -2 -7 0 -9zM878 608l6 -1 6 3 2 2 2 3 0 3 -2 3 -3 3 -5 2 -6 -1 -3 -2 -4 -5 -1 -3 1 -3zM128 610l138 0 9 0 9 4 6 4 18 18 36 30 20 12 34 16 10 8 6 9 2 9 4 30 0 18 -218 0 -1 -12 -2 -3 -5 -3 -6 -1 -60 1zM224 670l-4 5 -3 6 -1 6 1 6 2 3 5 3 3 1 6 -2 3 -3 4 -8 1 -6 -2 -6 -3 -4 -6 -3zM823 612l7 -3 6 1 3 2 2 3 0 6 -2 3 -6 3 -6 0 -3 -1 -4 -5 0 -3 1 -3zM946 612l4 -2 3 0 4 5 0 3 0 6 -1 3 -3 3 -3 1 -3 -1 -3 -4 -1 -8z"/>
<path fill="#74ff8b" d="M604 186l7 1 4 2 5 6 2 6 1 9 -3 9 -3 6 -3 2 -3 1 -6 -1 -6 -4 -5 -7 -2 -6 0 -9 2 -6 2 -4 3 -3zM889 540l7 -2 9 0 3 2 3 7 9 5 2 3 0 3 -4 3 -4 0 -9 -8 -3 0 -12 1 -9 2 -5 -1 -2 -3 1 -3 3 -3zM275 549l3 -3 3 1 3 5 1 3 0 6 -1 6 -3 5 -3 1 -3 -3 -2 -6 0 -9zM875 609l6 -2 3 0 6 3 3 5 0 3 -1 3 -4 3 -4 1 -6 0 -3 -2 -4 -5 -1 -3 2 -3zM128 611l138 0 9 1 9 3 6 5 17 16 37 31 19 11 32 15 6 4 6 5 6 9 3 9 3 30 1 18 -214 0 0 -9 -2 -6 -1 -3 -6 -4 -9 -1 -27 2 -33 0zM227 669l-3 1 -4 5 -3 6 -1 6 1 6 2 3 2 2 6 2 6 -2 3 -3 3 -5 2 -9 -1 -6 -4 -5 -3 -1zM823 612l7 -3 6 1 3 2 2 3 0 6 -2 3 -6 3 -6 0 -3 -1 -3 -5 -1 -3 1 -3zM946 612l4 -2 3 1 3 4 1 3 0 6 -4 5 -3 1 -3 -1 -3 -4 -1 -7z"/>
<path fill="#7f8" d="M599 189l6 -3 6 1 6 4 4 7 1 9 -1 9 -2 6 -5 5 -6 0 -6 -2 -4 -3 -4 -6 -1 -6 0 -9 1 -6zM890 540l6 -2 9 0 2 2 4 7 9 5 2 3 0 3 -5 3 -3 0 -9 -8 -3 0 -12 1 -9 2 -5 -1 -2 -3 1 -3 3 -3zM275 549l3 -3 3 1 3 5 1 3 0 6 -1 6 -3 5 -3 1 -3 -3 -2 -6 0 -9zM876 609l5 -2 3 0 6 3 3 5 0 3 -1 3 -4 3 -4 1 -6 -1 -3 -1 -4 -5 0 -3 1 -3zM269 612l9 2 6 2 21 20 39 32 18 10 33 15 6 4 6 5 6 9 2 9 4 30 0 18 -209 0 -1 -12 -2 -6 -4 -4 -6 -4 -6 0 -30 2 -33 0 0 -132zM227 668l-3 2 -5 5 -2 6 -2 6 2 6 1 3 3 2 6 2 6 -2 3 -2 4 -6 1 -9 -1 -6 -4 -5 -3 -2zM824 612l6 -3 6 1 5 5 1 3 -1 3 -2 3 -6 3 -6 0 -3 -2 -3 -4 -1 -3 1 -3zM946 612l4 -2 3 1 3 4 1 3 -1 7 -3 4 -3 1 -3 -1 -3 -5 -1 -6z"/>
<path fill="#7aff85" d="M600 189l5 -2 6 1 6 4 4 6 1 6 0 9 -4 9 -4 4 -6 1 -6 -2 -3 -3 -4 -6 -2 -6 0 -9 3 -8zM890 540l6 -2 9 0 2 2 4 8 9 5 2 2 -1 3 -4 3 -3 -1 -9 -7 -3 0 -12 0 -9 3 -4 -1 -2 -3 0 -3 4 -3zM275 549l3 -2 3 0 4 8 0 6 -1 6 -3 5 -3 0 -3 -2 -2 -6 0 -9zM876 609l8 -2 6 3 3 5 0 3 -1 3 -4 3 -4 1 -6 -1 -3 -1 -4 -5 0 -3 1 -3zM824 612l6 -2 6 1 5 4 0 3 0 3 -3 3 -5 3 -6 0 -3 -2 -3 -4 -1 -3 1 -3zM946 612l4 -2 3 1 3 4 1 3 -1 7 -3 4 -3 1 -3 -1 -3 -5 -1 -6zM128 614l114 -1 27 0 6 1 6 2 6 4 17 16 40 32 17 10 34 16 6 4 6 5 5 8 3 9 3 30 1 18 -206 0 -1 -12 -2 -6 -4 -6 -4 -3 -5 -2 -6 0 -33 3 -30 0zM227 668l-3 2 -5 5 -3 6 -1 6 1 6 2 3 3 3 6 2 6 -2 3 -3 4 -6 1 -9 -1 -6 -4 -5 -3 -2z"/>
<path fill="#7dff82" d="M601 189l4 -2 6 1 6 5 3 5 2 6 0 9 -4 9 -4 4 -6 1 -6 -2 -3 -3 -4 -6 -2 -6 0 -9 3 -7zM890 540l9 -2 6 1 6 9 9 5 1 2 0 3 -4 3 -3 -1 -3 -2 -3 -3 -3 -2 -3 0 -12 0 -9 3 -4 -1 -2 -3 0 -3 4 -3zM275 549l3 -2 3 0 3 8 1 6 -2 6 -2 4 -3 1 -3 -2 -2 -9 0 -6zM876 609l8 -1 6 2 3 5 0 3 -2 3 -3 3 -4 1 -6 -1 -3 -2 -3 -4 -1 -3 1 -3zM824 612l6 -2 6 1 5 4 0 3 -1 3 -2 3 -5 3 -6 0 -3 -2 -3 -4 0 -3 0 -3zM947 612l3 -1 3 0 3 4 1 3 -1 7 -3 4 -3 1 -3 -2 -3 -4 0 -6zM128 615l120 -1 24 1 9 3 6 3 16 15 41 33 15 9 36 16 11 8 6 9 2 9 4 30 0 18 -202 0 -1 -12 -2 -6 -7 -9 -6 -4 -9 -1 -30 3 -33 1zM227 668l-3 1 -5 6 -3 6 -1 6 1 6 2 3 3 3 6 2 6 -2 3 -3 4 -6 2 -9 -2 -6 -4 -6 -3 -1z"/>
<path fill="#80ff7f" d="M602 189l6 -1 6 2 4 5 3 6 1 6 -1 9 -3 6 -4 4 -6 0 -6 -2 -5 -5 -3 -6 -1 -9 1 -6 4 -6zM891 540l8 -2 6 1 6 10 9 4 1 2 0 3 -4 2 -3 0 -3 -2 -3 -4 -3 -1 -12 0 -12 2 -4 0 -2 -3 1 -3 3 -3zM275 549l3 -2 3 1 3 7 1 6 -2 6 -2 4 -3 1 -3 -3 -2 -8 0 -6zM877 609l7 -1 6 2 3 5 0 3 -2 3 -4 3 -3 1 -6 -1 -3 -2 -3 -4 -1 -3 2 -3zM824 612l6 -2 6 1 5 4 0 3 -1 3 -2 3 -5 3 -6 0 -3 -2 -3 -4 0 -3 1 -3zM947 612l3 -1 3 1 2 3 1 3 0 6 -3 4 -3 1 -3 -1 -3 -5 0 -5zM128 616l108 -1 33 1 6 1 6 2 6 4 18 16 39 31 14 8 37 17 10 7 6 9 3 9 3 30 1 18 -199 0 -1 -12 -3 -9 -6 -7 -9 -6 -6 -1 -33 4 -33 0zM227 668l-3 1 -5 6 -3 6 -1 6 1 6 2 4 3 3 6 1 6 -2 3 -3 4 -6 2 -9 -2 -6 -4 -6 -3 -1z"/>
<path fill="#83ff7c" d="M603 189l5 0 6 2 4 4 3 9 0 9 -2 6 -2 4 -3 2 -3 1 -6 -1 -5 -3 -4 -6 -2 -6 0 -9 2 -6 3 -4zM891 540l8 -2 6 1 6 10 6 2 3 2 1 2 0 3 -4 2 -3 0 -3 -2 -3 -4 -3 -2 -12 1 -12 2 -3 0 -3 -3 1 -3 3 -3zM276 549l2 -2 3 1 3 7 1 6 -2 6 -2 4 -3 1 -3 -3 -2 -8 0 -6zM877 609l7 -1 6 3 3 4 0 3 -2 3 -4 3 -3 1 -5 -1 -4 -2 -3 -4 0 -3 1 -3zM824 612l6 -2 6 1 4 4 1 3 -1 3 -2 3 -5 3 -6 -1 -3 -1 -3 -4 0 -3 1 -3zM947 612l3 -1 3 1 3 6 0 6 -3 4 -3 1 -4 -2 -2 -6 1 -6zM128 618l72 -2 39 0 30 1 6 1 6 2 63 51 13 7 35 16 12 8 7 9 3 9 3 30 0 18 -195 0 -1 -12 -3 -9 -9 -10 -9 -6 -9 0 -33 4 -30 0zM224 669l-3 3 -4 6 -2 6 0 6 3 8 3 2 6 2 6 -2 4 -4 3 -6 2 -9 -1 -6 -5 -6 -6 -2z"/>
<path fill="#86ff79" d="M599 192l6 -3 6 1 6 4 2 4 2 6 0 9 -4 9 -3 3 -3 1 -6 -1 -6 -4 -3 -5 -2 -6 0 -6 1 -6zM891 540l8 -2 6 2 5 9 7 2 3 3 1 1 0 3 -4 2 -3 0 -3 -2 -3 -5 -3 -1 -15 1 -9 2 -3 0 -3 -3 1 -3 2 -2zM276 549l2 -2 3 1 2 4 2 6 -2 9 -2 3 -3 1 -3 -2 -2 -8 0 -6zM877 609l7 -1 6 3 2 4 0 3 -1 3 -4 3 -3 1 -6 -1 -3 -2 -3 -4 0 -3 1 -3zM824 612l6 -2 6 1 4 4 1 3 -1 3 -2 3 -5 3 -6 -1 -3 -1 -3 -4 0 -3 1 -3zM948 612l2 -1 3 1 3 6 0 6 -3 4 -3 1 -4 -2 -2 -6 1 -6zM230 617l36 1 9 1 9 5 18 15 42 33 11 6 37 16 12 8 6 9 3 9 3 30 1 18 -192 0 -1 -12 -3 -9 -10 -12 -5 -4 -6 -3 -9 0 -30 5 -33 0 0 -114zM224 669l-3 2 -4 7 -2 6 0 6 0 3 3 5 3 3 6 1 6 -2 4 -4 3 -6 2 -9 -1 -6 -2 -3 -3 -3 -6 -2z"/>
<path fill="#89ff76" d="M600 192l5 -2 6 0 3 2 5 6 2 6 0 9 -2 6 -5 6 -3 1 -6 -1 -5 -3 -4 -6 -2 -6 0 -6 2 -7zM892 540l7 -1 6 1 5 9 7 3 3 2 0 4 -3 2 -3 -1 -2 -1 -4 -5 -3 -1 -15 1 -9 2 -3 0 -2 -3 0 -3 2 -2zM276 549l2 -2 3 1 2 4 1 6 -1 9 -2 3 -3 1 -3 -3 -2 -7 0 -6zM878 609l6 -1 6 3 2 4 0 3 -1 3 -4 3 -3 0 -6 0 -4 -3 -2 -3 0 -3 1 -3zM825 612l5 -2 3 0 4 2 3 3 1 3 -1 3 -3 3 -4 2 -6 0 -3 -2 -2 -3 -1 -3 1 -3zM950 612l3 1 3 5 -1 6 -2 4 -3 1 -3 -2 -3 -6 1 -6zM128 620l30 0 39 -1 39 -1 33 2 6 1 6 2 63 50 10 5 38 16 12 9 6 8 3 9 3 30 0 18 -188 0 -1 -12 -3 -9 -4 -6 -8 -8 -10 -7 -8 -1 -24 5 -12 1 -30 0zM224 668l-3 3 -4 7 -2 6 -1 6 2 6 2 3 3 2 6 1 6 -2 4 -4 4 -6 1 -9 -1 -6 -2 -4 -3 -3 -6 -2z"/>
<path fill="#8cff73" d="M601 192l4 -2 6 1 3 1 4 6 2 6 0 9 -2 6 -4 5 -3 1 -6 -1 -4 -2 -5 -6 -1 -6 0 -9 3 -6zM892 540l7 -1 6 1 2 3 2 6 2 1 6 2 3 3 0 3 -3 2 -3 -1 -2 -1 -4 -6 -3 0 -15 1 -9 2 -3 -1 -2 -2 1 -3 1 -1zM276 549l2 -1 3 0 2 4 1 6 -1 9 -2 3 -3 1 -3 -3 -2 -7 0 -6zM878 609l6 -1 6 3 2 4 0 3 -1 3 -4 2 -3 1 -6 -1 -3 -2 -2 -3 -1 -3 2 -3zM825 612l5 -2 7 2 3 3 0 3 0 3 -3 3 -4 2 -6 0 -3 -2 -2 -3 -1 -3 1 -3zM949 612l4 1 2 2 1 6 -3 6 -3 1 -3 -1 -3 -6 2 -6zM200 620l42 0 27 1 6 1 6 2 63 49 8 5 40 17 7 4 5 4 6 8 2 9 4 30 0 18 -185 0 -1 -12 -3 -9 -4 -6 -8 -9 -6 -5 -6 -4 -9 -1 -33 7 -33 0 0 -107zM224 668l-3 3 -4 7 -2 6 -1 6 2 6 2 3 3 2 6 2 6 -2 4 -5 4 -6 1 -9 -1 -6 -1 -3 -4 -4 -6 -2z"/>
<path fill="#8fff70" d="M601 192l4 -2 6 1 5 4 3 6 1 6 -1 9 -3 6 -5 3 -6 -1 -3 -1 -4 -4 -2 -6 -1 -6 0 -6 3 -6zM892 540l7 -1 5 1 4 6 1 3 -1 2 -18 1 -9 3 -3 -1 -2 -2 1 -3 1 -1zM276 549l2 -1 3 0 2 4 1 6 -1 9 -2 3 -3 1 -3 -3 -2 -7 1 -6zM909 552l2 -1 6 1 3 3 0 3 -3 2 -3 -1 -2 -1zM878 609l6 -1 6 3 2 4 0 3 -2 3 -3 2 -6 1 -6 -3 -2 -3 -1 -3 2 -3zM825 612l5 -2 7 2 3 3 0 3 -1 3 -2 3 -4 2 -3 1 -6 -3 -2 -3 -1 -3 1 -3zM946 615l4 -3 3 1 1 2 2 6 -3 6 -3 1 -3 -1 -2 -3 0 -6zM192 621l53 0 24 1 9 2 6 4 17 14 43 32 7 4 38 16 9 5 9 8 4 10 4 33 0 18 -182 0 -1 -15 -4 -9 -13 -15 -6 -5 -6 -3 -9 -1 -24 5 -12 2 -30 0 0 -104 30 0zM230 666l-6 2 -3 3 -4 7 -3 9 0 6 1 3 3 4 6 3 6 -1 6 -4 4 -5 2 -9 0 -6 -2 -6 -4 -4z"/>
<path fill="#92ff6d" d="M602 192l3 -1 6 1 5 3 3 6 1 6 -1 9 -3 6 -5 3 -6 -1 -3 -2 -3 -3 -3 -6 -1 -6 1 -6 3 -6zM893 540l6 -1 5 1 2 3 2 6 -3 2 -15 1 -9 2 -3 0 -2 -2 2 -4zM278 548l3 1 2 3 1 6 -2 9 -1 2 -3 1 -3 -3 -2 -6 1 -6zM909 552l2 -1 6 1 3 3 0 3 -3 1 -3 0 -4 -4zM879 609l5 -1 3 1 3 3 2 3 0 3 -2 3 -6 3 -6 -1 -3 -2 -2 -3 0 -3 1 -3zM825 612l5 -2 7 2 2 3 1 3 -1 3 -2 3 -4 2 -3 0 -6 -2 -2 -3 -1 -3 1 -3zM946 615l4 -3 4 3 1 6 -2 6 -3 1 -3 -2 -1 -2 -1 -6zM158 624l42 -2 39 0 30 2 6 1 6 2 63 48 48 21 6 3 6 5 5 7 2 9 4 30 0 18 -179 0 -1 -15 -2 -6 -3 -5 -15 -16 -6 -5 -6 -3 -9 -1 -24 6 -12 2 -30 0 0 -101zM230 666l-6 1 -3 3 -5 8 -2 9 0 6 3 6 4 4 3 1 6 -1 6 -4 4 -6 2 -9 0 -6 -2 -6 -4 -5z"/>
<path fill="#95ff6a" d="M603 192l5 -1 6 3 3 4 3 6 0 6 -1 6 -4 6 -4 2 -6 0 -3 -2 -3 -3 -3 -6 -1 -6 1 -6 3 -6zM893 540l6 -1 4 1 3 3 2 6 -3 2 -15 1 -9 2 -3 0 -1 -2 1 -4zM278 548l3 1 2 3 1 6 -2 9 -1 2 -3 1 -3 -3 -2 -6 1 -6 1 -4zM910 552l4 0 3 0 3 3 -1 3 -2 1 -4 -1 -2 -3zM879 609l5 0 3 1 3 2 2 3 0 3 -2 3 -6 3 -6 -1 -3 -2 -2 -3 0 -3 1 -3zM825 612l5 -2 3 1 3 1 3 3 1 3 -1 3 -2 3 -4 2 -3 0 -6 -2 -2 -3 0 -3 0 -3zM946 615l4 -2 3 1 2 4 -1 6 -1 2 -3 2 -3 -2 -1 -2 -1 -6zM203 623l36 0 30 2 9 2 6 3 58 45 8 4 36 14 11 6 4 3 5 6 4 9 4 33 0 18 -176 0 -1 -15 -4 -11 -12 -14 -9 -7 -6 -4 -6 -2 -6 0 -33 8 -33 0 0 -98 30 0zM227 666l-3 1 -4 5 -4 6 -3 9 0 6 3 6 5 4 3 1 6 -1 6 -4 4 -6 3 -9 -1 -9 -3 -5 -6 -4z"/>
<path fill="#98ff67" d="M608 192l6 2 3 4 2 6 1 6 -1 6 -4 6 -4 2 -6 -1 -3 -1 -5 -6 -1 -6 0 -6 2 -6 4 -5zM894 540l5 -1 4 1 3 3 1 6 -5 2 -12 1 -9 2 -3 -1 -1 -1 1 -4zM278 548l3 1 2 3 1 6 -2 9 -1 2 -3 1 -3 -3 -1 -6 0 -6 1 -4zM912 552l5 1 3 2 -1 3 -2 1 -4 -1 -2 -3zM880 609l5 0 5 3 2 3 -1 3 -1 3 -3 2 -3 1 -6 -1 -3 -2 -2 -3 0 -3 1 -3zM826 612l4 -1 3 0 3 1 3 3 1 3 -1 3 -2 3 -4 2 -3 0 -3 0 -3 -2 -2 -3 0 -3 1 -3zM947 615l3 -2 3 1 2 4 -1 6 -1 2 -3 1 -3 -1 -1 -2 -1 -6zM128 627l33 -1 39 -2 36 0 33 2 6 1 6 3 39 28 21 17 9 5 39 15 9 5 6 5 4 6 3 9 3 30 0 18 -174 0 -1 -15 -1 -6 -3 -6 -5 -6 -9 -10 -9 -7 -6 -3 -6 -2 -6 0 -33 8 -33 0zM227 665l-6 5 -3 4 -4 10 -1 6 1 6 1 3 3 3 3 2 3 1 6 -1 6 -5 4 -6 3 -9 -1 -9 -3 -6 -6 -4z"/>
<path fill="#9cff63" d="M600 195l5 -3 3 0 6 3 3 4 2 5 1 6 -3 9 -3 3 -3 2 -6 -1 -3 -2 -4 -5 -2 -6 0 -6 2 -6zM894 540l8 0 4 3 0 6 -4 2 -12 1 -9 2 -4 -2 1 -3zM278 548l3 1 2 3 1 6 -2 9 -1 2 -3 1 -3 -3 -1 -6 1 -9zM914 552l3 1 2 2 0 3 -2 1 -4 -1 -2 -3zM880 609l7 1 3 2 1 3 0 3 -1 2 -3 3 -3 1 -6 -1 -4 -5 -1 -3 2 -3zM826 612l4 -1 3 0 3 1 3 3 1 3 -1 3 -3 3 -6 2 -3 -1 -3 -2 -2 -2 0 -3 1 -3zM947 615l3 -2 3 2 2 3 -1 6 -1 1 -3 2 -4 -3 0 -6zM173 627l30 -2 36 1 30 2 6 1 6 2 39 28 21 17 9 4 39 16 9 5 5 4 4 6 3 9 3 30 0 18 -171 0 -1 -18 -5 -11 -5 -7 -7 -7 -9 -8 -6 -3 -9 -3 -6 0 -33 8 -33 0 0 -91zM227 665l-6 4 -3 5 -4 10 -1 6 0 6 2 4 3 3 6 3 6 -2 6 -4 4 -7 3 -9 -1 -9 -3 -6 -6 -4z"/>
<path fill="#9fff60" d="M601 195l4 -2 6 0 3 2 4 6 1 6 -1 9 -4 6 -3 1 -6 0 -3 -2 -3 -3 -2 -5 -1 -9 2 -6zM895 540l6 0 4 2 1 4 0 3 -4 2 -12 1 -9 2 -4 -2 1 -3 10 -6zM278 548l3 1 2 3 1 6 -2 9 -1 2 -3 1 -3 -4 -1 -5 1 -9zM912 555l2 -3 3 1 2 2 -1 3 -1 1 -3 -1zM881 609l6 1 3 2 1 3 0 3 -1 2 -3 3 -3 0 -6 -1 -4 -4 -1 -3 2 -3zM826 612l4 -1 3 0 3 1 3 3 0 3 0 3 -3 3 -6 2 -3 -1 -3 -2 -2 -2 0 -3 1 -3zM947 615l3 -1 3 1 1 3 0 6 -4 3 -3 -2 -1 -4zM206 626l36 1 27 2 9 2 6 3 18 14 15 10 24 19 9 4 30 11 15 7 9 8 3 4 2 6 4 33 0 18 -169 0 -1 -18 -5 -12 -5 -7 -6 -6 -9 -9 -6 -3 -6 -2 -9 -1 -9 1 -30 6 -30 1 0 -89 30 0zM227 665l-6 4 -3 4 -5 11 -1 6 1 6 2 5 3 4 3 1 3 1 6 -2 6 -5 5 -7 2 -9 0 -9 -4 -7 -6 -3z"/>
<path fill="#a2ff5d" d="M601 195l4 -2 6 1 3 2 4 5 1 6 -1 9 -4 6 -3 1 -6 -1 -3 -1 -3 -4 -2 -4 0 -9 2 -6zM895 540l7 0 3 3 1 3 -1 3 -3 1 -12 1 -9 2 -3 -1 0 -3 12 -7zM277 549l4 0 3 9 -2 9 -1 1 -3 1 -3 -3 -1 -8 1 -6zM912 555l2 -2 3 1 2 1 -1 3 -4 0zM826 612l4 -1 3 0 3 1 3 3 0 3 0 3 -3 3 -6 2 -3 -1 -3 -2 -1 -2 -1 -3 1 -3zM875 612l6 -3 6 1 3 3 1 2 0 3 -4 4 -3 1 -6 -1 -4 -4 0 -3zM948 615l2 -1 2 1 2 3 -1 6 -3 2 -3 -1 -1 -4 0 -3zM166 630l34 -2 36 0 33 2 6 1 6 3 36 25 24 19 45 17 9 5 7 5 4 6 3 9 3 30 0 18 -166 0 -2 -18 -5 -14 -8 -10 -13 -13 -3 -2 -9 -2 -9 -1 -39 7 -30 1 0 -85zM227 664l-6 5 -2 3 -5 9 -1 6 -1 6 1 6 2 4 3 4 3 1 6 -1 3 -1 6 -5 5 -8 2 -9 0 -9 -4 -7 -6 -4z"/>
<path fill="#a5ff5a" d="M602 195l3 -1 6 0 4 4 3 6 1 6 -1 6 -4 5 -3 2 -6 -1 -3 -2 -3 -3 -2 -4 0 -9 2 -6zM896 540l6 1 3 2 1 3 -1 3 -6 2 -9 0 -9 2 -3 -1 1 -3 11 -7zM278 549l3 1 3 8 -2 9 -1 1 -3 1 -3 -3 -1 -8 1 -6zM912 555l2 -2 3 1 1 1 0 3 -4 0zM826 612l4 -1 3 0 3 2 2 2 1 3 -1 3 -2 3 -6 2 -3 -1 -3 -2 -2 -5 1 -3zM875 612l6 -3 6 1 3 3 1 5 -4 4 -3 1 -6 -1 -4 -4 0 -3zM950 614l2 1 2 3 -1 6 -3 2 -3 -2 -1 -3 0 -3zM203 629l30 0 30 2 12 2 9 4 15 11 18 12 23 18 7 3 30 11 18 8 9 8 4 9 4 33 0 18 -165 0 0 -15 -4 -12 -4 -9 -13 -15 -3 -3 0 -3 7 -4 6 -6 5 -8 2 -6 1 -9 -2 -6 -3 -4 -6 -4 -6 0 -3 2 -3 2 -4 7 -4 9 -1 6 2 15 -2 2 -21 0 -33 7 -30 0 0 -82 30 0z"/>
<path fill="#a8ff57" d="M603 195l5 -1 3 1 4 3 3 6 1 6 -2 6 -3 5 -3 1 -6 0 -3 -2 -4 -7 -1 -6 1 -6 2 -3zM893 541l6 -1 3 1 3 2 1 3 -2 3 -2 1 -12 1 -9 2 -3 -1 1 -3zM278 549l3 1 3 8 -3 9 -3 2 -3 -4 -1 -7 1 -5zM913 555l1 -1 3 0 1 1 -1 3 -3 -1zM827 612l6 -1 5 4 1 3 -1 3 -2 3 -6 2 -3 -1 -3 -2 -2 -5 1 -3zM876 612l5 -3 6 1 2 2 2 3 0 3 -2 3 -5 2 -6 -1 -4 -4 0 -3zM949 615l2 0 3 3 -1 6 -3 2 -3 -2 -1 -3 1 -4zM201 630l44 1 24 2 9 2 6 3 33 23 21 17 9 4 30 10 18 8 9 8 4 9 3 33 0 18 -162 0 -1 -15 -3 -12 -6 -12 -12 -15 0 -3 9 -9 3 -5 3 -7 2 -6 0 -6 -2 -6 -3 -5 -6 -3 -6 0 -3 1 -6 8 -5 11 -2 9 1 9 -3 3 -18 1 -33 6 -30 0 0 -79 33 0z"/>
<path fill="#abff54" d="M604 195l4 -1 3 1 4 3 3 6 0 6 -1 6 -3 4 -3 2 -6 -1 -3 -1 -4 -7 -1 -6 1 -6 2 -3zM893 541l6 -1 3 1 2 2 1 3 -1 3 -2 1 -12 1 -9 2 -2 -1 0 -3zM275 552l3 -3 3 1 2 5 0 9 -2 4 -3 1 -3 -4 -1 -4 0 -6zM913 555l1 -1 3 0 1 1 -1 3 -3 -2zM827 612l6 -1 5 4 1 3 -1 3 -2 2 -3 2 -3 1 -3 -1 -3 -2 -2 -5 1 -3zM876 612l5 -2 6 1 4 4 0 3 -3 3 -4 2 -6 -1 -4 -4 0 -3zM950 615l3 2 1 4 -2 3 -2 1 -2 -1 -1 -3 0 -4zM197 631l15 0 36 2 27 2 9 5 16 11 14 9 24 19 9 4 27 8 18 8 6 4 5 5 4 9 4 33 0 18 -161 0 0 -15 -3 -12 -6 -12 -12 -15 0 -3 7 -9 5 -9 3 -12 -1 -6 -2 -6 -5 -5 -3 -1 -6 0 -3 2 -6 7 -5 12 -2 6 -1 9 -1 4 -3 1 -18 1 -30 5 -30 1 0 -77 30 0z"/>
<path fill="#aeff51" d="M608 195l3 0 3 3 3 6 1 6 -1 5 -3 5 -3 2 -6 -1 -3 -2 -4 -6 -1 -6 2 -6 3 -5zM889 543l7 -2 3 -1 5 3 1 3 -2 3 -1 1 -15 1 -6 1 -1 0 0 -3zM276 552l2 -3 3 1 2 5 0 9 -2 3 -3 1 -3 -3 -1 -4 0 -6zM914 555l3 0 0 2zM827 612l6 0 5 3 1 3 -1 3 -2 2 -3 2 -3 0 -3 0 -3 -3 -2 -4 1 -3zM876 612l5 -2 6 1 3 4 0 3 -2 3 -4 2 -6 -1 -3 -4 -1 -3zM947 618l3 -3 3 3 0 3 -1 3 -2 1 -1 -1 -2 -3zM206 632l30 2 33 2 9 2 36 22 18 16 6 4 9 3 27 9 21 9 8 7 4 9 3 33 0 18 -158 0 -1 -15 -3 -13 -6 -12 -11 -14 0 -3 1 -3 7 -10 3 -5 2 -12 0 -6 -3 -6 -5 -5 -3 -1 -3 0 -6 2 -4 4 -8 15 -3 16 -3 2 -18 2 -30 5 -30 0 0 -73 33 -1z"/>
<path fill="#b1ff4e" d="M601 198l4 -3 6 1 3 2 3 5 1 7 -1 5 -3 5 -3 1 -6 0 -3 -2 -3 -5 -1 -7 1 -6zM890 543l6 -2 3 0 5 2 1 3 -3 3 -15 2 -7 1 0 -3zM278 549l3 1 2 5 -1 9 -1 3 -3 1 -3 -4 -1 -3 1 -6zM827 612l6 0 5 3 1 3 -1 3 -3 3 -5 1 -3 0 -4 -4 0 -3 1 -3zM876 612l5 -2 6 1 3 4 0 3 -2 3 -4 2 -6 -2 -3 -3 -1 -3zM947 618l3 -2 3 2 0 4 -3 3 -3 -4zM169 636l37 -2 60 3 9 1 9 4 30 19 18 16 6 3 33 11 21 9 6 4 4 4 5 9 3 33 0 18 -157 0 0 -18 -4 -12 -4 -9 -10 -12 -3 -6 1 -3 9 -15 2 -12 0 -6 -2 -6 -3 -3 -6 -4 -6 1 -6 4 -8 14 -4 16 -3 3 -45 7 -33 0 0 -70z"/>
<path fill="#b4ff4b" d="M601 198l4 -2 6 0 3 3 3 5 1 6 -1 4 -3 5 -3 2 -6 0 -3 -3 -3 -4 -1 -4 0 -6zM890 543l6 -2 3 0 4 2 1 3 -2 3 -15 1 -6 2 0 -3zM278 550l3 1 2 4 -1 9 -1 3 -3 1 -3 -4 -1 -3 1 -6zM828 612l5 0 5 3 0 3 0 3 -5 4 -6 0 -4 -4 0 -3 1 -3zM876 612l5 -2 6 1 3 4 0 3 -2 3 -4 2 -6 -2 -3 -3 0 -3zM948 618l2 -2 2 2 1 3 -3 3 -3 -3zM212 635l57 4 9 2 36 21 15 13 8 6 34 10 21 9 10 8 4 9 3 33 0 18 -154 0 -1 -18 -3 -12 -6 -12 -9 -10 -2 -5 0 -3 9 -18 2 -12 -3 -9 -3 -4 -6 -3 -6 0 -6 5 -6 11 -6 16 -3 5 -3 1 -15 1 -27 5 -33 0 0 -68 30 0z"/>
<path fill="#b7ff48" d="M602 198l3 -2 3 0 3 1 3 2 3 5 0 9 -3 6 -3 2 -6 -1 -3 -2 -3 -5 0 -9zM890 543l6 -2 3 0 4 2 1 3 -2 3 -3 1 -15 0 -3 -1 3 -1zM278 550l3 1 2 7 -2 9 -3 1 -3 -4 -1 -3 1 -6zM828 612l5 0 4 3 1 3 -1 3 -4 4 -6 -1 -4 -3 0 -3 1 -3zM877 612l4 -2 6 1 3 4 0 3 -2 3 -4 1 -6 -1 -3 -3 0 -3zM949 618l1 -1 2 1 0 3 -2 3 -2 -3zM158 639l48 -3 63 4 6 1 6 2 33 20 15 13 7 5 7 3 19 5 15 5 12 5 9 6 5 6 3 9 3 30 0 18 -153 0 0 -18 -4 -12 -6 -12 -10 -12 -1 -3 0 -3 8 -18 2 -12 -3 -10 -3 -3 -6 -4 -6 1 -6 4 -7 12 -7 18 -4 3 -42 5 -33 1 0 -66z"/>
<path fill="#baff45" d="M603 198l5 -2 3 1 3 3 2 4 1 9 -3 5 -3 2 -6 0 -3 -2 -3 -5 0 -9zM891 543l5 -2 3 0 4 2 1 3 -2 3 -3 1 -15 0 -2 -1zM278 550l3 1 2 7 -2 8 -3 2 -3 -4 0 -3 0 -6zM829 612l4 0 4 3 1 3 -1 3 -4 4 -6 -1 -3 -3 -1 -3 1 -3zM877 612l4 -2 6 1 3 4 0 3 -3 3 -3 1 -6 -1 -3 -3 0 -3zM950 617l1 1 1 3 -2 2 -1 -2zM206 638l36 3 27 1 9 1 35 20 16 15 6 4 6 2 30 8 21 9 9 7 4 9 2 9 1 24 0 18 -150 0 -1 -18 -3 -12 -6 -12 -10 -12 -2 -3 1 -6 7 -18 1 -9 -1 -6 -2 -4 -3 -4 -6 -3 -6 0 -6 5 -5 9 -8 18 -2 3 -3 2 -42 5 -33 0 0 -63 30 0z"/>
<path fill="#bdff42" d="M603 198l5 -1 3 1 3 2 2 4 1 3 -1 6 -2 5 -3 2 -6 0 -3 -3 -2 -4 -1 -3 0 -6 2 -3zM891 543l5 -2 3 0 3 2 2 3 -2 2 -3 1 -15 0zM278 550l3 1 2 7 -2 8 -3 1 -2 -3 -1 -3 0 -6zM829 612l4 0 4 3 1 3 -1 3 -4 3 -6 0 -3 -3 -1 -3 1 -3zM877 612l4 -2 6 1 3 4 -1 3 -2 3 -3 1 -6 -1 -2 -3 -1 -3zM950 618l1 3 -1 1 -1 -1zM197 639l15 0 30 4 27 0 9 2 33 17 6 5 12 12 6 4 9 3 24 6 15 5 10 5 7 6 5 9 1 9 2 42 -149 0 0 -18 -5 -15 -4 -9 -12 -15 0 -6 6 -18 1 -9 -1 -6 -2 -5 -3 -4 -6 -3 -6 1 -6 4 -4 7 -8 18 -3 5 -3 1 -42 6 -33 0 0 -60 33 -1z"/>
<path fill="#c0ff3f" d="M604 198l4 -1 3 1 3 3 2 3 0 3 0 6 -2 4 -3 3 -6 -1 -3 -2 -2 -4 -1 -6 1 -3 2 -4zM892 543l7 -1 3 1 1 3 -4 3 -13 0 2 -3zM278 550l3 1 2 7 -2 8 -3 1 -3 -6 0 -6zM829 612l4 0 3 2 2 4 -1 3 -4 3 -6 0 -3 -3 -1 -3 1 -3zM877 612l4 -2 6 2 2 3 0 3 -2 3 -3 1 -5 -1 -3 -3 -1 -3zM170 642l33 -2 36 4 30 0 9 2 33 17 7 6 11 11 6 3 33 9 21 8 10 8 5 9 2 9 1 42 -146 0 -1 -18 -4 -15 -5 -9 -10 -12 -3 -6 6 -21 1 -9 0 -6 -3 -6 -3 -4 -6 -3 -6 1 -3 2 -3 3 -12 24 -3 4 -3 2 -39 5 -36 0 0 -57z"/>
<path fill="#c3ff3c" d="M605 198l3 -1 3 1 3 3 1 3 1 3 0 6 -2 4 -3 2 -3 1 -3 -1 -3 -3 -2 -3 -1 -6 1 -3 2 -4zM892 543l7 -1 3 1 1 3 -4 3 -10 0 -1 -3zM278 550l3 2 2 6 -2 8 -3 1 -3 -6 0 -6zM833 612l3 2 2 4 -2 4 -3 2 -3 1 -3 -1 -3 -3 -1 -3 1 -3 3 -2zM878 612l3 -1 6 1 2 3 0 3 -2 3 -3 1 -5 -1 -3 -3 0 -3zM189 642l20 0 30 4 30 0 9 1 33 17 6 5 9 9 8 6 34 8 23 10 8 6 2 3 3 6 1 9 2 42 -144 0 -1 -18 -5 -15 -4 -9 -11 -12 -3 -6 0 -3 6 -21 1 -6 -1 -6 -3 -7 -3 -4 -6 -3 -6 1 -6 5 -12 24 -3 4 -3 2 -39 5 -36 0 0 -55 30 0z"/>
<path fill="#c6ff39" d="M611 199l3 3 2 8 -2 7 -3 2 -3 0 -3 0 -3 -3 -2 -6 0 -6 2 -3 3 -3zM892 543l7 -1 2 1 2 3 -4 3 -8 0 -2 -3zM278 551l3 1 2 6 -2 7 -3 2 -3 -6 0 -6zM878 612l3 -1 6 1 2 3 0 3 -2 2 -3 2 -5 -1 -3 -3 0 -3zM825 615l2 -2 3 -1 3 0 4 3 1 3 -1 3 -4 3 -3 1 -3 -1 -3 -3 -1 -3zM155 645l48 -2 12 1 21 4 30 -1 12 1 33 16 6 5 9 11 6 4 9 3 24 5 21 8 12 8 3 4 2 5 2 9 1 42 -142 0 -1 -18 -4 -15 -5 -9 -12 -13 -2 -5 0 -6 5 -18 1 -9 -2 -6 -2 -5 -6 -6 -6 -1 -3 1 -3 2 -6 9 -9 18 -3 4 -3 2 -39 5 -36 0 0 -53z"/>
<path fill="#c9ff36" d="M602 201l3 -2 3 -1 3 1 3 3 2 5 -1 6 -1 3 -3 3 -3 0 -3 -1 -3 -2 -1 -3 -1 -6zM893 543l6 -1 2 1 1 3 -3 3 -6 0 -3 -1 -1 -2zM278 551l3 1 2 6 -2 7 -3 1 -2 -2 -1 -4 0 -5zM878 612l6 -1 3 1 2 3 0 3 -2 2 -3 2 -4 -1 -4 -3 0 -3zM825 615l5 -3 3 1 4 2 0 3 0 3 -4 3 -3 0 -3 0 -3 -4 0 -2zM197 644l12 1 12 2 12 5 3 0 27 -3 9 0 6 1 27 12 6 3 5 4 10 12 6 4 6 2 27 5 15 6 10 4 5 4 5 5 4 9 1 48 -139 0 -1 -18 -6 -18 -5 -9 -10 -9 -4 -6 1 -6 5 -18 0 -9 -1 -6 -3 -6 -6 -7 -3 -1 -3 0 -3 2 -3 2 -3 4 -12 24 -3 4 -3 2 -39 4 -36 -1 0 -50z"/>
<path fill="#cdff32" d="M603 201l2 -2 3 0 3 1 3 4 1 3 0 6 -1 3 -3 2 -3 1 -3 -1 -4 -5 -1 -6zM893 543l6 -1 1 1 2 3 -3 2 -6 1 -3 -3zM278 551l3 1 1 6 -1 7 -3 1 -3 -5 0 -3zM879 612l5 -1 2 1 3 3 0 3 -4 3 -5 0 -3 -3 -1 -3zM825 615l5 -3 3 1 3 2 1 3 -1 3 -3 3 -3 0 -3 -1 -3 -3 0 -2zM128 648l75 -2 9 1 9 2 4 2 2 3 -6 8 -12 24 -3 4 -3 2 -15 1 -24 3 -36 -1zM254 651l18 -1 9 2 27 12 7 5 11 13 6 4 36 8 15 5 11 6 6 6 3 9 2 48 -138 0 -1 -18 -5 -18 -6 -9 -12 -12 -2 -6 4 -18 1 -9 -1 -9 -5 -12 1 -3 1 0z"/>
<path fill="#d0ff2f" d="M603 201l5 -2 3 1 3 4 1 3 0 6 -4 5 -3 0 -3 -1 -4 -4 0 -6 0 -3zM894 543l5 0 3 3 -3 2 -6 0 -3 -2zM278 551l3 1 1 6 -1 7 -3 1 -3 -5 0 -3zM879 612l5 -1 2 1 3 3 -1 3 -4 3 -3 0 -3 -2 -1 -1 -1 -3zM825 615l5 -3 3 1 3 2 1 3 -1 3 -3 3 -3 0 -3 -1 -2 -2 -1 -2zM206 647l12 3 3 1 3 3 -1 3 -14 28 -3 4 -3 2 -15 1 -24 4 -36 -2 0 -45zM247 654l10 -2 12 -1 12 2 27 11 6 5 12 14 6 4 36 7 15 6 10 5 6 6 4 9 1 48 -135 0 -1 -18 -6 -18 -5 -9 -13 -12 -3 -6 5 -21 1 -6 -1 -6 -3 -12 0 -3z"/>
<path fill="#d3ff2c" d="M604 201l4 -1 3 1 3 4 1 5 -1 3 -3 4 -3 1 -3 -1 -3 -4 -1 -6 1 -4zM895 543l4 0 2 3 -5 2 -3 0 -2 -2zM278 551l3 2 1 5 -1 6 -3 2 -2 -5 -1 -3zM879 612l5 -1 3 2 1 2 0 3 -1 2 -3 1 -3 0 -3 -2 -1 -1 0 -3zM825 615l5 -2 3 0 3 2 1 3 -1 3 -3 3 -3 0 -3 -1 -2 -2 -1 -2zM203 648l9 1 6 2 3 3 1 3 -7 15 -6 13 -3 3 -6 3 -12 0 -21 4 -39 -3 0 -42zM255 654l20 -1 24 8 12 6 5 5 7 10 6 4 9 3 18 3 12 2 13 5 11 6 7 6 3 9 1 48 -133 0 -1 -18 -5 -18 -6 -9 -13 -12 -3 -6 5 -27 -2 -18 1 -3 2 -1z"/>
<path fill="#d6ff29" d="M605 201l3 -1 3 1 3 5 0 7 -3 4 -3 1 -3 -1 -3 -4 -1 -6 1 -3zM895 543l4 0 2 3 -5 2 -5 -2zM278 552l3 1 1 5 -1 6 -3 2 -2 -5 -1 -3zM880 612l4 -1 3 2 1 2 0 3 -1 1 -3 2 -3 0 -3 -2 -1 -4zM825 615l5 -2 3 0 3 2 1 3 -1 3 -3 2 -3 1 -3 -1 -2 -2 -1 -3zM203 649l12 2 4 3 1 3 -1 6 -7 16 -6 9 -3 2 -15 0 -24 4 -21 -3 -15 0 0 -40zM268 654l13 1 24 9 8 5 10 14 6 4 9 3 18 2 12 3 18 7 9 6 5 6 2 9 1 45 -131 0 -1 -18 -5 -18 -6 -9 -15 -13 -3 -5 0 -3 5 -21 -1 -21 2 -2 3 -2z"/>
<path fill="#d9ff26" d="M605 201l3 -1 3 2 3 5 0 6 -3 4 -3 0 -3 -1 -3 -4 0 -7zM896 543l3 1 1 2 -4 2 -4 -2zM278 552l3 1 1 5 -1 6 -3 1 -2 -4 0 -3zM880 612l4 0 3 1 1 2 -1 4 -3 2 -3 0 -3 -2 -1 -4zM825 615l5 -2 3 0 3 3 1 2 -1 3 -3 2 -3 1 -3 -1 -2 -2 -1 -3zM203 650l9 2 5 2 2 3 -1 6 -3 9 -6 12 -3 3 -3 2 -15 0 -21 4 -9 0 -18 -3 -12 0 0 -38zM255 657l11 -2 9 0 24 7 6 2 7 5 11 15 6 4 7 2 29 4 15 5 12 7 6 6 3 8 1 48 -128 0 -1 -18 -6 -18 -6 -9 -14 -12 -4 -6 0 -6 4 -18 0 -18 1 -3z"/>
<path fill="#dcff23" d="M608 201l3 1 1 2 2 6 -1 3 -2 3 -3 1 -3 -1 -3 -6 1 -6 2 -2zM892 546l4 -2 3 1 1 1 -4 1zM278 552l3 1 1 5 -1 6 -3 1 -2 -4 0 -3zM880 612l4 0 3 2 1 1 -1 4 -3 2 -3 -1 -3 -1 -1 -4zM826 615l4 -2 3 0 3 3 1 2 -1 3 -3 2 -3 1 -3 -1 -2 -2 -1 -3zM128 654l39 -2 36 -1 6 1 6 2 3 3 0 3 -1 6 -5 12 -3 5 -3 4 -3 1 -15 0 -18 4 -9 0 -18 -3 -15 -1zM263 657l15 0 24 6 9 6 11 15 4 4 9 2 21 3 12 3 17 6 9 6 5 6 2 9 0 45 -125 0 -1 -18 -6 -18 -6 -9 -18 -15 -2 -6 4 -21 1 -18 3 -3 3 -1z"/>
<path fill="#dfff20" d="M605 202l3 -1 4 3 2 6 -3 6 -4 0 -4 -3 -1 -6zM893 546l3 -2 3 2 -3 1zM276 555l2 -3 3 2 0 1 0 8 -3 2 -2 -4zM881 612l3 0 3 2 1 1 -1 4 -3 1 -3 0 -3 -2 -1 -3zM826 615l4 -2 3 0 2 2 2 3 -1 3 -3 2 -3 1 -3 -1 -2 -2 -1 -3zM167 653l39 -1 9 3 3 5 -1 3 -5 15 -3 5 -3 3 -3 2 -3 0 -12 0 -15 3 -9 1 -24 -5 -12 0 0 -32zM254 660l9 -2 12 -1 24 6 6 2 5 4 5 6 5 8 6 6 9 2 21 2 9 2 15 5 12 7 6 7 2 6 0 48 -122 0 -1 -18 -4 -12 -4 -9 -5 -6 -16 -13 -4 -5 0 -6 3 -18 2 -15 2 -4z"/>
<path fill="#e2ff1d" d="M604 204l4 -2 4 2 1 6 -2 5 -3 1 -4 -3 -1 -6zM894 546l2 -1 3 1zM277 555l1 -3 3 3 0 8 -3 2 -2 -4zM826 615l4 -2 3 1 2 1 1 3 -1 3 -2 2 -3 0 -3 -1 -2 -1 0 -3zM878 615l3 -3 3 0 4 3 -1 3 -3 2 -3 0 -3 -2zM161 654l24 0 15 -1 9 1 6 3 2 3 -1 6 -3 9 -4 7 -3 4 -3 1 -3 1 -12 -1 -15 3 -9 1 -24 -5 -12 -1 0 -29 15 0zM259 660l10 -1 9 0 24 5 9 6 4 5 5 10 6 5 9 2 21 2 9 1 15 6 12 6 6 7 2 9 -1 45 -118 0 -2 -18 -3 -9 -5 -12 -8 -9 -15 -11 -3 -3 -1 -4 6 -36 1 -3z"/>
<path fill="#e5ff1a" d="M605 204l3 -1 3 1 2 6 -2 4 -3 2 -4 -3 -1 -3 0 -3zM277 555l1 -2 3 2 0 7 -3 2 -2 -3zM826 615l4 -2 3 1 2 1 1 3 -1 3 -2 2 -3 0 -3 -1 -1 -1 -1 -3zM878 615l3 -3 3 0 3 3 0 3 -3 2 -3 0 -3 -2zM198 654l11 1 5 2 2 3 0 6 -4 11 -3 5 -3 3 -3 2 -6 0 -9 -1 -15 4 -9 0 -6 0 -18 -5 -12 -1 0 -27 15 0 21 -2 21 0zM266 660l12 0 15 2 9 3 6 3 4 4 8 14 5 4 7 2 21 2 12 2 15 5 12 7 5 6 3 9 -2 45 -113 0 0 -9 -2 -9 -11 -21 -8 -9 -16 -11 -3 -4 -1 -3 1 -6 6 -30 3 -3z"/>
<path fill="#e8ff17" d="M605 204l3 -1 3 2 1 5 -1 4 -3 1 -3 -2 -2 -3 1 -3zM277 555l1 -2 3 2 1 3 -1 4 -3 2 -1 -3zM826 615l4 -2 5 2 1 3 -1 3 -2 2 -3 0 -3 -1 -2 -4zM878 615l3 -2 3 -1 3 3 0 3 -3 2 -3 0 -2 -2zM167 655l18 1 15 -1 6 0 6 2 3 2 1 7 -3 9 -4 7 -3 3 -3 1 -6 0 -9 -1 -15 4 -9 1 -6 -1 -18 -6 -12 0 0 -24zM256 663l10 -2 9 -1 24 4 6 3 6 5 8 15 4 3 9 3 21 1 12 2 15 5 11 7 6 6 2 9 -2 45 -80 0 -2 -6 -4 -4 -21 -7 -6 -6 -10 -16 -5 -6 -18 -13 -5 -5 -1 -3 0 -6 5 -27 2 -3z"/>
<path fill="#ebff14" d="M609 204l3 3 0 3 -1 3 -3 1 -3 -1 -1 -3 0 -3 1 -2zM277 555l1 -2 3 2 0 3 0 4 -3 2 -1 -3zM826 615l4 -2 5 2 1 3 -1 3 -5 2 -3 -1 -2 -4zM878 615l3 -2 3 0 3 2 0 3 -3 2 -3 -1 -2 -1zM157 657l13 -1 15 1 15 -2 6 1 6 2 2 2 1 6 -3 9 -3 6 -3 3 -3 2 -18 -1 -12 3 -9 1 -6 -1 -18 -6 -12 -1 0 -21 15 -1zM260 663l9 -1 9 -1 21 4 6 2 6 5 7 15 5 4 9 3 21 1 12 2 15 5 11 6 5 6 2 9 -2 45 -69 0 -3 -9 -7 -8 -9 -4 -18 -5 -3 -1 -3 -2 -13 -16 -20 -13 -4 -5 -2 -3 0 -6 6 -27 3 -4z"/>
<path fill="#ef1" d="M605 207l3 -3 3 3 0 5 -3 2 -2 -1 -2 -3zM278 553l3 2 0 3 0 3 -3 3 -1 -6zM827 615l3 -1 4 1 2 3 -1 3 -5 2 -3 -1 -2 -4zM879 615l2 -2 3 0 3 2 -1 3 -2 1 -3 0 -2 -1zM164 657l21 1 15 -2 6 0 6 2 2 2 1 3 -1 6 -5 12 -3 3 -6 2 -15 -2 -12 4 -9 0 -7 -1 -17 -6 -12 -1 0 -18 15 -1zM265 663l13 -1 21 3 6 3 5 4 2 3 5 12 3 4 3 2 6 1 24 1 12 2 15 5 10 6 5 6 3 9 -4 45 -61 0 -1 -6 -4 -6 -8 -8 -15 -7 -18 -5 -18 -16 -18 -11 -4 -4 -2 -6 6 -28 4 -5z"/>
<path fill="#f1ff0e" d="M605 207l3 -2 2 2 1 3 -2 3 -2 0 -2 -2zM278 554l2 1 1 3 0 3 -3 2 -1 -5zM827 615l3 -1 4 1 2 3 -2 3 -4 2 -3 -1 -2 -4zM879 615l2 -2 3 0 2 2 0 3 -2 1 -3 0 -2 -1zM199 657l10 1 3 1 2 4 0 6 -2 6 -3 5 -3 3 -3 2 -3 0 -12 -2 -3 0 -12 4 -9 1 -9 -2 -15 -7 -12 -1 0 -15 15 -1 21 -4 21 1zM263 664l12 -1 15 1 9 1 6 3 5 4 3 6 4 11 3 3 3 2 6 1 21 0 12 2 15 4 12 7 6 6 2 9 -5 45 -53 0 -2 -6 -3 -6 -10 -9 -17 -9 -23 -8 -13 -10 -20 -12 -3 -3 -2 -3 0 -6 5 -24 3 -4z"/>
<path fill="#f4ff0b" d="M606 207l2 -1 1 1 1 3 -2 2 -2 -2zM278 554l2 1 1 3 0 3 -3 2 -1 -5zM827 615l3 -1 4 1 2 3 -2 3 -4 2 -3 -1 -2 -4zM879 615l2 -1 3 -1 2 2 0 3 -2 1 -3 0 -1 -1zM155 660l12 -2 18 2 15 -3 6 1 6 2 2 3 0 3 -1 6 -4 8 -3 3 -3 1 -3 1 -12 -3 -3 0 -12 4 -9 1 -9 -2 -15 -8 -12 -1 0 -11 12 -1zM259 666l10 -2 9 0 12 0 9 2 6 3 4 3 3 6 5 12 3 3 9 3 21 0 12 1 15 5 12 6 3 3 4 6 1 9 -10 42 -42 0 -2 -6 -4 -6 -16 -12 -21 -12 -18 -5 -33 -19 -3 -4 -2 -5 2 -13 4 -14 2 -3z"/>
<path fill="#f7ff08" d="M608 207l1 3 -1 1 -1 -1zM278 554l1 1 2 3 -1 3 -2 2 -1 -5zM827 615l3 -1 4 1 1 3 -1 3 -4 2 -3 -2 -1 -3zM879 615l2 -1 3 0 2 1 -1 3 -4 1 -1 -1zM159 660l11 -1 15 2 15 -3 6 0 6 3 2 5 0 3 -5 10 -3 3 -3 2 -3 0 -12 -3 -3 0 -12 5 -6 1 -9 -2 -21 -11 -9 -1 0 -5 9 -1zM263 666l18 -2 12 1 6 1 6 3 3 3 4 6 3 12 5 5 6 1 24 0 12 1 15 5 12 7 3 3 3 5 1 6 0 6 -7 21 -11 18 -27 0 -2 -6 -5 -6 -13 -9 -23 -15 -9 -4 -18 -5 -30 -16 -3 -4 -1 -4 1 -9 3 -15 3 -5 3 -2z"/>
<path fill="#faff05" d="M278 555l1 0 2 3 -1 3 -2 1 -1 -4zM827 615l3 -1 4 1 1 3 -1 3 -4 1 -3 -1 -1 -3zM880 615l1 -1 3 0 1 1 0 3 -4 0zM163 660l7 0 15 2 15 -3 6 0 6 3 1 4 0 3 -4 10 -3 3 -3 1 -6 0 -9 -3 -3 0 -15 6 -9 0 -10 -5 -11 -9 1 -3 4 -3 10 -4zM268 666l10 -1 15 1 6 1 5 2 6 6 4 15 3 4 3 2 6 1 24 0 12 1 14 4 11 6 6 6 2 9 0 6 -3 9 -6 12 -6 5 -12 9 -3 2 -3 0 -17 -13 -40 -26 -6 -2 -18 -3 -27 -14 -4 -3 -3 -6 1 -9 3 -13 3 -6 3 -2z"/>
<path fill="#fdff02" d="M278 555l3 3 -3 4 -1 -4zM828 615l2 -1 3 1 2 3 -1 3 -4 1 -3 -1 -1 -3zM880 615l4 -1 1 1 0 3 -4 0zM203 659l6 1 3 3 1 3 -1 6 -3 6 -3 3 -3 2 -6 0 -9 -4 -3 0 -15 6 -9 0 -8 -4 -7 -6 -2 -3 1 -3 3 -3 6 -3 7 -2 9 -1 15 3zM276 666l20 0 9 4 3 3 3 5 3 14 3 4 3 1 6 1 21 -1 12 1 15 4 12 6 6 6 3 6 -1 9 -5 12 -6 8 -9 5 -9 3 -6 0 -27 -14 -29 -20 -7 -1 -12 -1 -6 -2 -24 -11 -3 -3 -4 -6 1 -9 4 -15 2 -3 6 -4z"/>
<path fill="#fffd00" d="M278 555l2 3 -2 4 -1 -4zM828 615l2 -1 3 1 2 3 -1 3 -4 1 -3 -1 -1 -3zM880 615l5 0 -1 3 -3 0zM200 660l6 0 3 1 2 2 2 3 -1 6 -3 6 -3 3 -3 1 -6 0 -9 -3 -3 -1 -12 6 -9 1 -6 -2 -4 -2 -6 -6 -1 -3 0 -3 3 -3 11 -4 9 -1 15 3zM269 667l12 -1 12 0 6 1 6 3 4 5 3 15 2 4 3 4 6 1 24 -2 12 1 12 3 10 4 8 6 4 6 1 9 -3 9 -5 8 -9 6 -9 4 -9 1 -12 -5 -15 -7 -10 -7 -17 -14 -6 -1 -18 -1 -21 -9 -9 -5 -3 -5 0 -4 2 -12 3 -9 4 -5z"/>
<path fill="#fffa00" d="M278 555l2 3 -2 3zM828 615l2 -1 3 1 2 3 -2 3 -3 1 -3 -1 -1 -3zM881 615l3 0 0 3 -3 -1zM159 663l11 -1 15 4 15 -5 6 0 5 2 1 3 0 3 -3 9 -3 3 -3 1 -6 -1 -9 -4 -3 0 -12 6 -9 1 -9 -3 -6 -6 -1 -3 1 -3 3 -3zM264 669l11 -2 15 0 6 0 6 2 4 3 2 3 2 6 2 12 2 4 3 2 6 1 21 -2 12 0 12 2 12 5 9 6 4 6 0 6 -2 9 -5 8 -6 5 -12 5 -9 1 -9 -2 -18 -9 -12 -8 -12 -12 -3 -2 -6 -1 -12 1 -6 0 -21 -8 -6 -3 -5 -5 -1 -3 0 -6 3 -13 3 -6 3 -3z"/>
<path fill="#fff700" d="M278 556l1 2 -1 3zM829 615l4 0 2 3 -2 3 -3 1 -3 -2 -1 -2zM881 615l3 0 0 1zM161 663l6 -1 6 1 12 4 12 -5 9 -1 4 2 2 3 0 3 -3 8 -3 3 -3 2 -6 -1 -9 -5 -3 0 -12 7 -9 1 -6 -2 -3 -2 -4 -5 -1 -3 1 -3 3 -3zM267 669l23 -2 6 1 6 1 4 3 2 3 2 6 1 12 3 6 3 2 6 1 21 -3 12 -1 12 3 11 4 9 6 4 6 1 6 -3 9 -4 6 -9 7 -12 4 -9 0 -15 -6 -12 -6 -10 -8 -11 -12 -3 -1 -24 1 -6 -2 -15 -6 -6 -3 -4 -4 -2 -6 1 -6 2 -9 3 -6 6 -4z"/>
<path fill="#fff400" d="M278 557l1 1 -1 2zM829 615l4 1 1 2 -1 3 -3 1 -3 -2 -1 -2zM166 663l7 1 12 5 3 -1 9 -5 9 -1 3 1 2 3 1 3 -3 8 -3 3 -3 1 -6 -1 -9 -5 -3 -1 -12 8 -9 1 -6 -2 -4 -3 -2 -3 -1 -3 2 -3 3 -3 5 -2zM272 669l21 -1 6 1 6 3 4 6 2 19 3 6 3 1 24 -5 12 0 12 1 13 5 9 6 4 6 1 7 -3 8 -6 7 -9 6 -9 2 -9 0 -15 -5 -12 -7 -8 -6 -10 -13 -3 -2 -6 -1 -12 3 -9 0 -12 -3 -12 -6 -6 -4 -2 -4 0 -6 3 -12 2 -5 3 -3 6 -2z"/>
<path fill="#fff100" d="M829 615l4 1 1 2 -1 3 -3 1 -3 -3 0 -2zM198 663l8 -1 3 2 2 2 0 3 -1 6 -4 4 -3 2 -3 0 -6 -3 -4 -3 -2 -3 1 -3 3 -3zM157 666l7 -2 9 0 9 5 2 3 -5 6 -5 3 -4 1 -6 0 -6 -2 -5 -5 0 -3 1 -3zM278 669l18 -1 6 2 3 3 3 5 1 15 2 12 3 2 18 -5 18 -3 15 2 15 5 6 5 5 6 0 6 -2 8 -6 7 -9 5 -9 3 -9 0 -9 -3 -9 -4 -12 -7 -8 -9 -7 -15 -15 5 -12 2 -12 -2 -15 -6 -6 -5 -2 -6 2 -12 3 -7 3 -3 6 -3z"/>
<path fill="#fe0" d="M830 615l3 1 1 2 -1 2 -3 2 -1 -1 -2 -3zM200 663l7 0 3 3 1 3 -2 6 -3 4 -3 1 -3 0 -5 -2 -4 -3 -1 -3 1 -3 3 -3zM159 666l8 -2 8 2 5 3 1 3 -1 3 -3 3 -5 3 -5 1 -6 -1 -4 -3 -3 -3 0 -3 1 -3zM293 668l6 1 5 3 2 3 2 6 0 21 -1 3 -3 3 -8 4 -9 2 -6 0 -15 -4 -12 -6 -4 -5 -1 -6 2 -9 3 -6 3 -4 6 -2zM333 702l11 -2 12 0 9 1 11 4 10 6 3 4 2 8 -2 6 -3 4 -6 6 -6 3 -9 2 -6 1 -6 -1 -15 -6 -9 -5 -7 -7 -4 -6 -2 -6 0 -3 3 -3 5 -3z"/>
<path fill="#ffeb00" d="M830 615l3 1 1 2 -1 2 -3 1 -3 -3zM203 663l3 0 3 2 1 4 0 3 -1 3 -3 3 -3 2 -3 0 -4 -2 -3 -3 -2 -3 1 -3 3 -3zM161 666l6 -1 6 1 5 3 1 3 0 3 -3 3 -6 3 -6 0 -3 -1 -3 -2 -2 -3 -1 -3 2 -3zM293 669l6 1 4 2 3 3 1 3 1 6 -1 15 -2 6 -4 3 -7 3 -7 2 -6 0 -15 -3 -9 -5 -4 -3 -3 -6 0 -6 3 -9 4 -6 9 -3zM336 702l11 -2 12 0 9 2 9 4 8 5 4 6 1 6 -2 6 -2 3 -6 5 -6 4 -9 2 -12 0 -15 -6 -8 -5 -7 -6 -3 -6 -2 -6 1 -3 3 -3 5 -3z"/>
<path fill="#ffe800" d="M827 618l3 -3 4 3 -1 2 -3 1zM164 666l6 0 6 3 2 3 -1 3 -2 3 -5 2 -6 0 -5 -2 -2 -3 -1 -3 2 -3zM196 666l7 -2 3 0 3 2 1 3 0 3 -4 6 -3 1 -3 0 -3 -1 -3 -3 -2 -3 1 -3zM269 672l24 -3 6 1 3 2 3 3 2 6 -2 18 -3 6 -9 5 -12 3 -15 -4 -9 -4 -4 -3 -2 -3 -1 -6 1 -6 3 -8 3 -3 3 -2zM339 702l11 -2 9 1 12 3 9 4 4 3 4 6 1 6 -2 6 -7 7 -6 3 -9 3 -12 0 -15 -6 -7 -4 -6 -6 -4 -6 -1 -6 1 -3 3 -3 5 -3z"/>
<path fill="#ffe500" d="M827 618l3 -3 4 3 -4 3zM197 666l6 -2 3 1 2 1 2 3 -1 3 -3 5 -3 2 -3 0 -5 -4 -2 -3 1 -3zM159 669l5 -2 6 0 5 2 2 3 -1 3 -3 3 -3 2 -6 0 -4 -2 -2 -3 -1 -3zM273 672l20 -2 6 1 6 4 2 6 -2 15 -2 6 -2 3 -8 4 -12 3 -15 -3 -6 -3 -6 -4 -3 -4 -1 -5 1 -6 3 -7 3 -3 3 -2zM341 702l12 -1 9 0 9 3 8 4 4 3 5 6 0 6 -2 6 -3 3 -6 5 -6 3 -9 1 -12 -1 -15 -7 -6 -4 -5 -6 -2 -6 0 -3 1 -3 3 -3 5 -3z"/>
<path fill="#ffe200" d="M827 618l3 -2 3 2 -3 3zM198 666l5 -1 3 0 3 3 0 4 -3 5 -3 1 -3 0 -4 -3 -2 -3 1 -3zM161 669l6 -2 6 2 2 3 0 3 -5 4 -3 0 -5 -1 -3 -3 0 -3zM290 670l6 0 6 3 4 5 0 6 -3 15 -4 6 -6 3 -9 3 -12 -1 -13 -5 -4 -3 -3 -3 -1 -3 0 -6 3 -9 2 -3 7 -4zM344 702l9 -1 9 1 9 2 8 4 4 3 4 6 0 6 -2 6 -5 5 -6 3 -12 3 -12 -1 -9 -3 -6 -4 -4 -3 -6 -6 -2 -6 0 -3 2 -3 4 -4 6 -3z"/>
<path fill="#ffdf00" d="M828 618l2 -2 3 2 -3 3zM200 666l6 0 3 3 0 3 -2 3 -4 3 -3 -1 -3 -2 -2 -3 1 -3zM163 669l4 -1 4 1 3 3 0 3 -4 3 -6 0 -4 -3 0 -3zM290 671l6 0 4 1 4 3 1 3 0 6 -2 12 -3 6 -3 3 -5 3 -11 2 -12 -2 -9 -3 -5 -3 -2 -3 -2 -6 2 -9 4 -6 9 -4zM347 702l9 0 9 1 7 2 8 5 5 4 2 6 -1 5 -2 4 -4 4 -6 3 -12 3 -6 0 -9 -2 -12 -6 -8 -8 -2 -6 0 -3 1 -3 6 -5 6 -2z"/>
<path fill="#ffdc00" d="M828 618l2 -2 3 2 -3 2zM202 666l4 0 2 3 0 3 -1 3 -4 2 -3 0 -3 -2 -1 -3 1 -3zM167 669l3 1 3 2 -1 3 -5 3 -3 -1 -2 -2 -1 -3 3 -2zM293 671l6 1 4 3 2 3 0 6 -3 11 -3 7 -4 3 -5 3 -6 1 -6 1 -15 -4 -9 -6 -2 -4 0 -6 2 -7 3 -4 3 -2 6 -2zM337 705l10 -2 9 -1 6 1 9 2 6 3 7 6 2 6 -1 6 -2 3 -6 5 -9 4 -12 0 -12 -3 -11 -6 -3 -3 -3 -6 -1 -6 2 -3 3 -3z"/>
<path fill="#ffd900" d="M828 618l2 -1 3 1 -3 2zM198 669l5 -2 3 0 1 2 0 3 -1 3 -3 1 -4 -1 -2 -3zM163 672l4 -2 3 1 1 1 -1 3 -3 1 -3 -1zM293 671l5 1 4 2 2 4 0 6 -3 12 -2 4 -3 3 -9 5 -9 1 -15 -4 -6 -3 -3 -3 -2 -3 0 -6 2 -6 3 -4 3 -2 6 -3zM339 705l8 -2 9 -1 9 2 9 3 6 4 5 6 0 3 -1 6 -7 7 -6 3 -6 1 -12 0 -12 -4 -10 -7 -3 -6 -1 -3 2 -6 3 -3z"/>
<path fill="#ffd600" d="M829 618l1 -1 2 1 -2 2zM199 669l4 -2 3 1 1 4 -1 2 -3 2 -3 -1 -2 -3zM289 672l7 0 3 1 3 2 2 3 -1 6 -3 12 -4 6 -3 3 -9 3 -9 0 -12 -3 -5 -3 -4 -3 -1 -3 0 -6 1 -5 3 -5 3 -2 6 -2zM341 705l9 -2 9 0 9 2 6 2 6 4 4 6 0 3 -1 6 -6 6 -6 3 -6 2 -12 -1 -12 -4 -8 -6 -3 -3 -2 -6 2 -6 4 -3z"/>
<path fill="#ffd300" d="M829 618l1 -1 2 1 -2 1zM201 669l2 -1 3 1 0 4 -3 2 -3 -1 -1 -2zM290 672l6 0 5 3 2 3 0 6 -4 12 -4 6 -5 3 -9 3 -12 -2 -10 -4 -4 -3 -2 -3 0 -3 1 -6 3 -6 6 -4zM343 705l7 -1 9 -1 8 2 7 3 5 3 4 6 0 6 -1 3 -3 3 -5 4 -6 2 -6 1 -9 0 -12 -5 -6 -4 -3 -3 -2 -7 0 -3 2 -3 3 -3z"/>
<path fill="#ffd000" d="M829 618l1 -1 1 1 -1 1zM203 669l2 3 -2 2 -3 -2zM293 673l6 1 3 3 1 4 -1 3 -6 16 -7 5 -5 2 -6 0 -12 -2 -9 -5 -3 -4 -1 -3 1 -6 3 -5 6 -4zM345 705l14 -1 6 1 9 3 6 5 2 4 1 3 -2 6 -7 6 -6 2 -6 1 -12 -1 -9 -4 -8 -7 -2 -6 0 -3 2 -3 4 -3z"/>
<path fill="#ffcd00" d="M290 673l6 0 4 2 2 3 0 4 -4 11 -2 5 -3 4 -9 4 -9 1 -12 -4 -7 -4 -2 -3 0 -6 3 -7 3 -3 5 -2zM347 705l9 -1 6 1 12 4 6 5 2 3 0 3 -2 6 -3 3 -5 3 -10 3 -12 -2 -10 -4 -6 -6 -2 -6 0 -3 2 -3 4 -3z"/>
<path fill="#ffc900" d="M290 674l6 0 3 1 2 3 0 6 -5 12 -5 6 -7 3 -9 1 -12 -3 -6 -4 -2 -3 -1 -6 3 -6 3 -3 6 -3zM350 705l12 0 9 3 5 3 5 6 -1 6 -1 3 -8 6 -9 2 -12 -1 -9 -5 -6 -5 -1 -3 0 -6 2 -3 4 -3z"/>
<path fill="#ffc600" d="M287 675l9 -1 3 2 1 2 0 6 -4 10 -3 5 -3 3 -6 3 -9 0 -12 -3 -6 -4 -2 -5 0 -3 2 -6 3 -3 6 -2zM356 705l12 2 9 6 3 4 0 3 0 3 -3 4 -3 2 -6 3 -9 1 -12 -2 -9 -6 -3 -5 -1 -3 1 -3 2 -3 7 -4z"/>
<path fill="#ffc300" d="M289 675l7 0 4 3 0 3 -6 15 -5 6 -8 3 -9 0 -9 -3 -4 -3 -3 -3 -1 -6 2 -5 3 -3 6 -3zM343 708l13 -3 6 1 7 2 5 3 3 3 2 3 0 6 -5 5 -9 4 -9 0 -9 -2 -6 -4 -3 -2 -2 -4 -1 -3 1 -3 2 -3z"/>
<path fill="#ffc000" d="M293 675l3 1 3 2 0 3 0 3 -6 12 -2 3 -4 3 -9 3 -9 -2 -9 -4 -3 -3 -1 -3 1 -6 2 -3 7 -4zM345 708l11 -2 12 2 5 3 4 3 1 3 1 3 -1 3 -3 3 -4 3 -6 2 -9 1 -9 -3 -8 -6 -3 -6 1 -3 3 -3z"/>
<path fill="#ffbd00" d="M293 676l5 2 1 3 -1 3 -5 12 -3 3 -6 4 -9 1 -9 -2 -5 -3 -3 -3 -2 -6 1 -3 3 -3 6 -3zM347 708l12 -1 6 1 6 2 5 4 1 3 1 3 -1 3 -6 5 -6 2 -9 1 -9 -3 -7 -5 -3 -6 1 -3 3 -3z"/>
<path fill="#ffba00" d="M293 677l4 1 1 3 -6 15 -5 5 -6 2 -9 0 -9 -3 -5 -4 -1 -3 0 -3 3 -6 9 -4zM349 708l10 -1 6 1 6 3 4 3 1 3 1 3 -1 3 -5 4 -9 3 -9 0 -6 -3 -6 -4 -2 -3 0 -3 0 -3 3 -3z"/>
<path fill="#ffb700" d="M288 678l7 0 2 3 -6 15 -4 4 -6 2 -9 0 -9 -3 -4 -3 -1 -3 0 -3 2 -5 3 -2 6 -2zM351 708l11 0 8 3 4 3 1 3 1 3 -2 3 -6 5 -6 2 -9 -1 -7 -3 -4 -3 -2 -3 0 -3 1 -3 3 -3z"/>
<path fill="#ffb400" d="M272 681l21 -2 2 2 -4 12 -4 6 -6 3 -6 0 -9 -2 -6 -4 -2 -3 0 -3 2 -4 3 -2zM355 708l10 1 6 3 4 5 0 3 -2 3 -5 4 -9 2 -9 -2 -6 -4 -2 -3 -1 -3 1 -3 5 -4z"/>
<path fill="#ffb100" d="M290 680l3 1 -3 12 -3 5 -6 3 -6 1 -9 -2 -5 -4 -2 -3 0 -3 1 -3 3 -2 6 -3zM347 711l9 -2 9 1 7 4 2 3 0 3 -3 4 -6 3 -6 1 -6 -1 -6 -3 -4 -4 -1 -3 1 -3z"/>
<path fill="#ffae00" d="M265 684l7 -2 15 -1 3 1 1 2 -2 9 -2 4 -6 3 -6 1 -9 -2 -4 -3 -2 -3 0 -3 1 -3zM348 711l8 -2 9 2 6 3 1 3 1 3 -2 3 -6 4 -6 0 -7 -1 -5 -3 -3 -3 -1 -3 2 -3z"/>
<path fill="#ffab00" d="M267 684l8 -2 12 1 2 1 1 3 -2 6 -1 3 -6 4 -6 0 -7 -1 -5 -3 -2 -3 0 -3 1 -3zM350 711l9 -1 6 1 4 3 2 3 0 3 -2 3 -4 3 -6 1 -6 -1 -6 -4 -2 -2 0 -3 1 -3z"/>
<path fill="#ffa800" d="M269 684l9 -1 8 1 2 3 -1 6 -3 4 -6 3 -6 0 -6 -3 -4 -4 -1 -3 2 -3zM353 711l6 -1 6 2 3 2 2 3 0 3 -2 3 -6 2 -6 0 -6 -2 -3 -3 -1 -3 1 -3z"/>
<path fill="#ffa500" d="M273 684l8 0 3 1 3 2 -1 6 -2 3 -3 2 -6 1 -6 -1 -4 -2 -2 -3 0 -4 3 -3zM349 714l7 -3 6 1 5 2 2 3 0 3 -3 3 -4 1 -9 0 -5 -4 -1 -3z"/>
<path fill="#ffa200" d="M266 687l6 -2 9 0 4 2 1 3 -1 3 -2 3 -5 2 -9 -1 -3 -1 -2 -3 -1 -3zM351 714l5 -2 6 1 3 1 3 3 -1 3 -5 3 -8 0 -4 -3 -1 -3z"/>
<path fill="#ff9f00" d="M268 687l7 -2 6 1 3 3 0 4 -3 3 -3 1 -3 1 -6 -2 -4 -3 0 -3zM353 714l6 -1 4 1 3 3 -1 3 -3 2 -3 1 -6 -2 -2 -4z"/>
<path fill="#ff9c00" d="M270 687l5 -1 5 1 3 3 0 3 -5 3 -8 0 -4 -3 0 -3zM353 717l3 -2 3 -1 5 3 -1 3 -4 1 -4 -1z"/>
<path fill="#ff9800" d="M268 690l4 -2 6 0 3 2 0 3 -3 2 -3 1 -3 0 -4 -3zM357 717l3 0 -1 1z"/>
<path fill="#ff9500" d="M270 690l5 -1 3 0 1 1 0 3 -4 1 -3 0 -2 -1z"/></g>
<path d="M340.8 108 L307.6 738.9 M484.6 113.1 L473.5 744.7 M628 113.1 L639.1 744.7 M771.8 108 L805 738.9 M201 126.4 L225.8 128.4 L250.7 130.4 L275.4 132.1 L299.8 133.7 L324.1 135.2 L348.5 136.5 L372.8 137.6 L397.2 138.6 L421.6 139.5 L446.2 140.2 L470.8 140.8 L495.3 141.2 L519.7 141.5 L544.1 141.7 L568.5 141.7 L592.9 141.5 L617.3 141.2 L641.8 140.8 L666.4 140.2 L691 139.5 L715.4 138.6 L739.8 137.6 L764.1 136.5 L788.5 135.2 L812.8 133.7 L837.2 132.1 L861.9 130.4 L886.8 128.4 L911.6 126.4 M189.3 261.4 L215 263.5 L240.7 265.5 L266.2 267.3 L291.3 269 L316.5 270.5 L341.7 271.8 L366.8 273 L392 274 L417.2 274.9 L442.6 275.7 L468 276.3 L493.3 276.7 L518.5 277 L543.7 277.2 L568.9 277.2 L594.1 277 L619.3 276.7 L644.6 276.3 L670 275.7 L695.4 274.9 L720.6 274 L745.8 273 L770.9 271.8 L796.1 270.5 L821.3 269 L846.4 267.3 L871.9 265.5 L897.6 263.5 L923.3 261.4 M177.7 396.3 L204.2 398.5 L230.6 400.5 L257 402.4 L282.9 404.1 L308.9 405.6 L334.9 407 L360.8 408.3 L386.8 409.3 L412.8 410.3 L439 411 L465.2 411.7 L491.3 412.1 L517.3 412.4 L543.3 412.6 L569.3 412.6 L595.3 412.4 L621.3 412.1 L647.4 411.7 L673.6 411 L699.8 410.3 L725.8 409.3 L751.8 408.3 L777.7 407 L803.7 405.6 L829.7 404.1 L855.6 402.4 L882 400.5 L908.4 398.5 L934.9 396.3 M166.1 530.7 L193.4 532.9 L220.7 535.1 L247.8 537 L274.5 538.7 L301.3 540.3 L328.1 541.8 L354.8 543 L381.6 544.1 L408.4 545.1 L435.4 545.9 L462.4 546.5 L489.3 547 L516.1 547.3 L542.9 547.5 L569.7 547.5 L596.5 547.3 L623.3 547 L650.2 546.5 L677.2 545.9 L704.2 545.1 L731 544.1 L757.8 543 L784.5 541.8 L811.3 540.3 L838.1 538.7 L864.8 537 L891.9 535.1 L919.2 532.9 L946.5 530.7 M154.4 666.1 L182.5 668.4 L210.6 670.6 L238.5 672.6 L266.1 674.4 L293.7 676 L321.2 677.5 L348.8 678.8 L376.3 679.9 L404 680.9 L431.8 681.7 L459.5 682.4 L487.3 682.9 L514.9 683.2 L542.5 683.4 L570.1 683.4 L597.7 683.2 L625.3 682.9 L653.1 682.4 L680.8 681.7 L708.6 680.9 L736.3 679.9 L763.8 678.8 L791.4 677.5 L818.9 676 L846.5 674.4 L874.1 672.6 L902 670.6 L930.1 668.4 L958.2 666.1" fill="none" stroke="#000" stroke-opacity="0.36" stroke-width="0.55" stroke-dasharray="2.1 6.2"/>
<path d="M259.1 330 255.7 317.1 254 306.8 256.6 296.5 260 286.3 266 276.8 273.7 267.4 284 259.2 294.3 252.8 304.5 247.2 313.1 244.3 320 241.7 M810.6 336.6 814 335.7 819.1 338.3" fill="none" stroke="#7a4500" stroke-width="1.15" stroke-linejoin="round" stroke-linecap="round"/>
<path d="M850.8 400 854.3 406.8 854.3 412 858.6 414.5 862.8 412.8 865.4 407.7 863.7 400 860.3 393.1 857.7 386.3 855.1 389.7 856 396.5 M839.7 365.7 841.4 370.8 838.8 376 835.4 380.3 838 381.1 841.4 377.7 843.1 372.5 842.3 365.7" fill="#7a4500" stroke="#7a4500" stroke-width="1.15" stroke-linejoin="round" stroke-linecap="round"/>
<path d="M263.4 330 260 317.1 258.3 306.8 259.1 296.5 262.6 286.3 268.6 276 277.1 265.7 287.4 258 297.7 252 309.7 246 320 241.7 328.5 235.7 337.1 227.1 345.7 222 354.2 218 362.8 215.5 371.4 214.3 379.9 213.8 388.5 214.3 395.4 216.3 400 218.6 M367.1 213.4 368 207.4 371.4 205.4 372.2 208.3 369.7 213.4 M381.7 212.6 384.2 208.3 385.4 203.7 386.8 208.3 387.1 212.6 M469.1 199.7 472.5 196.6 478.5 195.9 484.5 198.8 488 202.3 484.5 206.6 478.5 207.9 473.4 206.6 470 203.1 469.1 199.7 M466 200.6 467.1 198.3 469.1 198 470.5 200 469.1 202.4 467.1 202.4 466 200.6 M487.1 209.1 491.4 204.8 496.5 204 498.3 207.4 494 211.7 489.7 212.6 487.1 209.1 M472.5 217.7 475.1 213.8 477.7 216 475.6 219.9 472.5 217.7 M381.7 210.8 384.3 208.3 385.1 203.5 387.2 209.1 385.1 211.7 381.7 210.8 M405.7 214.8 410 213.8 411.7 216 408.3 217.7 405.7 214.8 M508.5 201.4 512 201.4 M515.4 201.1 518.8 200.6 M522.2 200.6 525.7 200.9 M619.1 218.6 628.6 223.7 635.4 220.6 642.3 215.5 647.4 212 M728.8 223.7 731.4 228 733.1 232.3 730.5 233.1 728.8 228.8 728.8 223.7 M755.4 250.3 757.1 256.3 760 263.1 M723.7 247.7 727.1 248.5 729.7 251.1 733.1 252.8 732.2 254.5 728.8 253.7 728.8 251.1 M741.7 293.1 744.2 292.2 744.2 296.5 741.7 296.5 741.7 293.1 M750 307.7 753.4 303.4 758.5 300.5 762.8 303.4 763.7 310.3 761.1 316.6 756 315.9 752.5 312 750 307.7 M741.4 294 743.1 292.3 744.8 294.9 743.6 297.4 741.4 294 M740.5 275.1 744 274.3 744.8 279.4 742.3 277.7 740.5 275.1" fill="none" stroke="#7a4500" stroke-width="1.32" stroke-linejoin="round" stroke-linecap="round"/>
<path d="M337.1 224.6 332.8 219.4 336.2 214.3 338 216.8 340.5 211.7 344.8 212.6 344 217.7 347.4 219.8 339.7 221.1 337.1 224.6 332 231.4 328.5 230.6 331.1 234 M285.7 251.1 284 245.1 286.5 243.8 289.1 248.6 290.8 243.4 293.4 247.7 298.5 244.3 296.8 250.3 302.8 247.7 309.7 245.1 M266 265.7 268.6 262.3 275.4 259.7 273.7 264 278 258 278 252.8 280.5 253.7 281.4 258 278.8 260.5 M256.6 272.5 260 271.7 264.3 276 260.8 278.5 259.1 282.8 M252.3 306.8 254 300 256.6 301.7 254.8 307.7 256.6 315.4 258.3 322.2 260 329.1 M418.6 216.8 423.7 214.3 428.8 214.8 428 217.7 432.3 219.4 430.6 223.7 426.3 222.8 421.1 220.6 418.6 216.8 M517.1 208.3 517.1 213.4 515.4 218.6 M513.7 221.1 512 223.7 M509.4 225.4 506.8 228 M558.2 197.1 559.1 194.6 561.7 195.9 565.1 191.1 566.8 193.7 569.4 189.4 571.1 192 M565.1 197.1 566 191.1 568.6 193.7 570.3 189.8 572 194.6 M582.3 195.4 585.7 192.5 591.7 193.2 596 194.9 594.3 197.6 M630.3 177.4 631.1 183.4 634.6 184.3 638 181.7 637.1 178.8 M740.8 245.1 744.2 246.8 743.4 249.4 747.7 247.7 751.1 252.8 M738.2 264 742.5 262.3 741.7 268.3 739.1 270 739.9 274.3 744.2 275.1 745.1 280.2 741.7 277.7 M869.7 324.6 868.8 331.4 869.7 339.1 866.3 335.7 862.8 333.1 865.4 329.7 869.7 324.6 M808.9 357.1 811.4 363.1 M860.3 367.4 865.4 364.8 872.3 363.1 878.3 360.5 875.7 364 868.8 367.4 863.7 369.5 860.3 367.4 M922 428.2 932.2 425.7 M704 454.2 707.4 457.1 709.1 459.7 M712.5 461.4 714.3 464 M702.3 471.7 704.8 466.6 M699.7 473.4 702.3 476 705.7 476.8 709.1 480.3 710 485.4 M794.8 410 798.2 416.9 M937.4 423.4 928.8 426 922 430.3 917.7 437.1 916.8 444 918.5 450.8 922 456 925.4 460.3 M923.7 464.6 925.4 464.2 M866.8 542.6 872 541.7 878.8 540 M236 467.1 239.4 475.7 243.7 481.7 247.1 484.3 244.9 488.6 242 487.7 238.6 480.8 236.8 474 236 467.1 M214.6 462.9 217.1 462 M225.7 458.6 227.4 455.1 227.4 460.3 225.7 462 224.9 459.4 M230.8 462.9 233.4 462 233.4 466.3 231.7 465.4 230.8 462.9 M211.1 570.8 214.6 570 217.1 572 214.6 573.1 211.1 570.8 M282.3 591.4 284 587.1 287.4 587.1 288.3 584.5 290.8 585.4 290 582 M311.4 595.7 314 594 315.7 596.5 313.1 597.7 311.4 595.7 M279.7 566.5 281.9 565.7 282.6 568.3 M415.1 595.1 418.6 597.7 425.4 598.9 431.4 595.1 434.8 591.7 436.2 588.3 431.4 587.4 428 588.3 M559.9 497.4 561.7 495.7 566.8 496 565.9 498.8 561.7 499.1 559.9 497.4 M580 528.3 575.4 530 571.9 535.1 572.8 538.6 576.2 536.8 580 531.7 M577.9 495.7 578.8 500 580 504.3 M539.1 720 540.8 720.8 540.3 724.3 539.1 723.1 539.1 720 M531.4 675.4 532.3 678.8 M534.8 672 535.2 673.7 M282.6 588.1 286.7 586.2 288.1 589 284 590.9 282.6 588.1 M311.4 594.4 315.5 595.3 314.1 598 311.4 596.4 311.4 594.4 M322.3 615.5 326.5 613.6 326.5 618.3 323.2 619.9 322.3 615.5 M293.6 661.1 296.3 656.1 299 661.6 293.6 661.1 M381.3 667.1 382.7 672.6 M388.1 676.7 390.9 682.2 M397.7 678.1 396.4 682.2 M444.4 626 448.5 623.2 447.1 628.7 M750.5 565.5 753 569 758 568 761.5 566 757 565.5 752 566.5 M432 725.2 436.1 724.7 435.6 728 432.8 728 432 725.2 M366.5 137.2 370.3 142.1 374.4 149 378 154.4 379.1 160.7 377.2 165.4 374.4 164 375.8 158.5 373.1 153.1 370.3 146.2 366.5 137.2 M730.2 191.5 727.4 199.7 728.8 210.6 731.5 218.9 728.8 224.4 M728.8 227.1 731.5 229.8 732.4 234 729.6 232.6 728.8 227.1" fill="none" stroke="#7a4500" stroke-width="1.38" stroke-linejoin="round" stroke-linecap="round"/>
<path d="M541.7 641.1 544.3 634.3 547.7 630 547.7 636 545.1 642.8 542.6 643.7 541.7 641.1 M572.5 679.7 576 678.8 576.8 680.5 573.4 681.9 572.5 679.7 M583.7 673.7 589.7 670.3 596.5 668.6 600.8 667.7 600 669.4 593.1 671.1 586.3 674.6 583.7 673.7 M606.8 667.7 609.4 665.5 611.1 667.2 608.5 669.9 606.8 667.7 M487.7 741.4 491.1 740.5 490.3 743.6 487.7 741.4 M607.7 667.1 610.3 666.3 608.6 668.8 607.7 667.1 M211.8 570.6 216.8 572.5 214 573.9 211.8 570.6 M236.5 169 238.2 166.2 239.8 169.5 236.5 169 M237.1 176.6 239.3 177.2 238.7 178.8 237.1 176.6" fill="#7a4500" stroke="#7a4500" stroke-width="1.38" stroke-linejoin="round" stroke-linecap="round"/>
<path d="M248 289.7 249.7 286.3 252.3 289.7 255.7 285.4 257.4 289.7 254.8 294 250.6 293.1 248 289.7 M244.9 258 247.1 264.8 M200.9 300 204.3 303.4 206 306.8 203.4 312 200.9 310.2 202.6 306 200.9 300 M205.1 324 210.3 321.4 208.6 327.4 206.9 329.1 M380 213.8 386.9 213.8 395.4 216.8 404 220.6 414.3 222.8 421.1 220.3 429.7 224.6 436.6 223.7 439.1 220.3 445.1 222 444.3 227.1 446.8 232.3 452 235.7 454.6 240 460.5 239.1 464 234 469.1 232.3 473.4 235.7 473.4 240 478.5 236.5 481.1 232.3 478.5 225.4 482.8 227.1 487.1 228 489.7 231.4 494.8 234 500 236.5 500.8 245.1 504.3 241.7 507.7 243.4 511.1 240 512 235.7 507.7 234.8 505.1 230.5 500 228 494.8 225.4 492.3 222 494 216 499.1 212.6 502.5 205.7 506.8 204.8 506 211.7 503.4 217.7 498.3 222.8 500 228 M491.4 206.6 500 198.8 508.5 197.1 517.1 195.9 525.7 197.1 534.2 198 538.5 199.7 538.5 189.4 541.1 184.3 543.7 189.4 545.4 196.3 549.7 199.7 558.2 197.1 565.1 193.7 570.2 191.1 573.7 195.4 580 195.9 M398.9 208.3 403.1 209.1 404 212.6 400.6 211.7 398.9 208.3 M560 198.8 568.6 196.6 577.1 195.4 585.7 195.4 594.3 197.6 602.8 201.4 611.4 207.4 617.4 211.7 620 215.1 619.1 218.6 622.6 220.3 628.6 222 635.4 218.6 642.3 214.3 647.4 211.7 649.1 206.6 653.4 204.8 659.4 204.8 664.5 208.3 669.7 212.6 674 217.7 678.3 223.7 682.5 228 686.8 232.3 687.7 236.5 695.4 235.7 697.1 240.8 699.7 246 700.5 252.8 699.7 259.7 698 266.5 697.1 273.4 697.1 280.2 698.8 287.1 702.2 294 705.7 300 M731.4 192 728.8 194.6 727.1 199.7 728.8 204.8 729.7 210 731.4 215.1 730.5 219.4 M741.7 150 736.5 156.9 734 163.7 731.4 167.1 733.1 174 732.2 180.8 734 187.7 736.5 199.7 739.9 211.7 744.2 223.7 749.4 234.8 754.5 244.3 760 252.8 M720.8 390 728.6 388.3 735.4 386.5 742.3 384 749.1 383.1 756 382.3 762.8 378.8 769.7 373.7 774.8 366 779.1 354 M812.3 311.7 815.7 316 821.7 320.3 829.4 316.8 838 313.4 844.8 311.7 847.4 309.1 844.8 305.7 849.1 304 856 305.7 861.1 310 865.4 314.3 865.4 322.8 869.7 324.6 873.1 319.4 874.8 314.3 871.4 310.8 865.4 309.1 860.3 304 853.4 301.4 844.8 299.7 837.1 297.1 829.4 293.4 M846.6 313.4 849.1 316.8 850.8 321.1 M840.6 358.8 839.7 365.7 841.4 370.8 838.8 376 835.4 380.3 832 382 837.1 384.5 841.4 389.7 846.6 394.8 850.8 400 854.3 406.8 854.3 412 858.6 414.5 862.8 412.8 865.4 407.7 863.7 400 860.3 393.1 857.7 386.3 856.8 379.4 853.4 376 849.1 370.8 846.6 364.8 843.1 360.5 840.6 358.8 M867.1 408.5 869.7 414.5 M879.1 349.4 883.4 347.7 887.7 348.6 886.8 352 892.8 354.6 899.7 358 904 362.3 904 369.1 902.3 373.4 904 378.5 899.7 373.4 894.5 368.3 M883.4 348.6 880.8 355.4 878.3 359.7 M755.4 438.3 764 439.1 774.2 441.7 784.5 444.3 793.1 446.8 799.9 451.1 806.8 455.4 813.7 458.8 820 459.7 M790 445.7 798.6 450 807.1 456 815.7 459.4 824.3 458.6 832.8 461.1 841.4 463.7 850 467.1 856.8 471.4 863.7 476.6 870.5 480 877.4 485.1 880.8 486.8 M850.6 596.6 851.4 593.1 854.8 590.6 860 589.7 865.1 587.6 872 587.5 880.5 588 889.1 588.5 897.7 589.4 902.8 592.3 909.7 594.5 916.5 596.6 920 600.8 921.7 604.3 918.3 606 913.1 606.5 908 606 903.7 603.4 899.4 604.3 897.7 606.8 893.4 606.5 891.7 609.4 894.3 611.1 892.5 613.4 889.1 612.8 885.7 610.3 882.3 609.4 877.1 609.4 872 609.9 867.7 606.8 864.3 603.4 860.8 599.6 855.7 599.1 850.6 596.6 M260 310 262.6 316.9 263.8 325.4 263.8 335.7 261.7 344.3 257.4 352.8 252.3 361.4 248 371.7 244.6 382 242 392.3 240.8 402.5 239.8 412.8 238.6 423.1 236.8 433.4 235.1 443.7 234.3 452.2 235.1 460 M255.7 310 254.8 316.9 257.4 323.7 259.1 330.6 260 335.7 M233.4 450 234.3 456.9 236 465.4 238.6 474 242 482.6 243.7 491.1 246.3 499.7 249.7 510 254.8 520.3 261.7 528.8 267.7 537.4 272 544.3 273.7 552.8 275.4 561.4 279.7 568.3 284 573.4 287.4 578.5 291.7 582 299.4 583.7 308 584.5 313.1 588.8 316.5 591.4 321.7 591.4 325.1 596.5 327.7 600 333 605.1 342.9 603.4 356 600.5 366.2 601.8 M261.7 592.2 265.1 592.2 268.6 596.5 270.3 600 M261.7 592.2 263.4 597.4 266 600 M366.3 602 373.1 600.2 380 597.7 388.6 592.5 397.1 590 405.7 589.1 413.4 589.1 410.8 593.4 415.1 595.1 422.8 590 429.7 585.7 431.4 583.1 438.3 579.7 446 574.5 452.8 569.4 454.6 562.5 454.6 555.7 458.8 551.4 461.4 547.1 461.9 538.6 461.9 530 463.1 521.4 465.7 514.6 469.1 510.3 476 506.8 484.5 504.3 496.5 502.2 508.5 500.5 518.8 498.8 522.2 495.7 529.1 494.9 536 492.6 542.8 494 551.4 496 559.9 497.4 566.8 494.9 571.9 493.7 576.2 498.3 578.8 504.3 579.7 511.1 577.1 518 571.9 524.8 566.8 530.8 561.7 537.7 559.1 545.4 558.2 552.3 554.8 555.7 549.7 559.1 550.5 564.3 554.8 562.5 558.2 560.8 556.5 566 553.1 569.4 551.4 574.5 556.5 572.8 554.8 579.7 553.1 586.5 551.4 593.4 548.8 600.2 546.2 607.1 544.5 612.2 542.8 617.4 541.1 620 M538.5 586.5 534.2 593.4 530.8 600.2 527.4 602.8 530.8 604.5 536.8 602.8 537.7 607.1 536.8 614 534.2 619.1 M538.5 586.5 540.2 590 539.4 596.8 540.2 600.2 543.7 601.1 544.5 607.1 542 614 539.4 617.4 M404.9 512.3 407.1 514.9 M548.6 600 546 606.9 544.3 613.7 540.8 620.6 539.1 627.4 539.1 634.3 538.3 642.8 537.4 651.4 535.7 658.3 533.1 665.1 528 670.3 522.8 675.4 516.8 678.8 511.7 682.3 509.5 686.5 511.7 690 516.8 690.8 520.3 693.4 522 687.4 520.3 684.8 524.6 687.4 529.7 691.7 534.8 694.3 540 690.8 546 687.4 552.8 686.5 553.7 690.8 558.8 689.1 565.7 690 572.5 691.7 579.4 691.7 586.3 690 593.1 690.8 600 688.3 606.8 685.7 612 684 617.1 685.7 624 687.4 630.8 686.5 637.7 683.6 644.5 685.7 651.4 687.7 659.9 688.3 665.1 691.7 670.2 696 675.4 700.3 680 702.8 M528 600 531.4 602.6 536.6 605.1 536.6 613.7 534 620.6 531.4 627.4 529.7 637.7 529.7 646.3 532.3 653.1 531.4 660 528.8 666.8 524.6 672 M511.7 690 507.4 693.4 502.3 697.7 496.3 699.4 494.6 702 497.1 704.2 504 702.8 507.4 699.4 511.7 694.3 M666 692.8 672 698 678.8 702.3 687.4 704.8 692.5 708.3 696 712.5 700.3 716 697.7 718.5 695.1 721.1 696 726.3 697.7 731.4 698.5 738.3 697.7 742.5 M668.6 698.8 667.2 702.3 668.6 705.3 671.1 704 673.7 700.5 677.1 704 679.7 709.1 682.3 705.7 685.7 705.7 M692.5 719.4 691.7 722.8 693.4 727.1 695.1 729.7 M695.1 737.4 694.3 740 696 742 M156.7 639.3 160.6 643.1 170.8 645.7 178.6 647.8 188.8 650.8 195.3 658.6 204.3 663.7 213.3 670.1 221 673.5 230 674.5 242.8 677.8 253.1 683 260.8 686.3 268.5 685.6 278.8 681.7 289.1 678.6 299.4 674.5 307.1 670.1 311 669.6 319.9 670.4 330.2 672.7 340.5 677.1 350.8 684.3 361.1 693.3 371.4 703.5 381.6 715.1 391.9 725.4 402.2 734.4 413.8 743.4 M262 593.1 264.8 591.7 268.9 597.2 271.1 601.8 267.5 603.5 263.4 599.9 262 593.1 M351.1 639.7 356.6 638.3 363.5 641.1 366.2 645.2 359.4 643 352.5 642.4 351.1 639.7 M196.2 294.3 201.7 298.4 205.8 302.5 204.4 309.4 200.9 310.7 202.5 305.2 198.1 301.1 196.2 294.3 M779.5 108.6 772.7 113.3 765.8 117.4 759 118.8 753.5 122.9 749.4 131.1 743.9 139.4 738.4 149 732.9 158.5 728.8 169.5 730.2 180.5" fill="none" stroke="#7a4500" stroke-width="1.49" stroke-linejoin="round" stroke-linecap="round"/>
<path d="M697.1 280.2 699.7 274.3 704 276 708.2 277.7 709.1 282.8 705.7 285.4 704.8 290.5 702.2 294 M700.5 277.7 703.1 280.2 701.4 285.4 699.7 287.1 M695.1 270 696.8 278.6 699.4 286.3 702.8 294 707.1 301.7 711.4 308.6 714.8 314.6 716.6 321.4 720.8 326.6 726 329.1 728.6 335.1 731.1 342 735.4 345.4 742.3 348 747.4 352.3 749.1 357.4 749.1 363.4 751.7 368.5 756.8 369.4 762.8 370.3 769.7 368.5 774.8 363.4 778.3 355.7 780 347.1 781.3 335.1 782 321.4 781.3 309.4 778.3 299.1 774 288.9 768.8 278.6 763.7 270 759.9 252.9 M772.3 408.8 778.3 407.1 782.5 405.9 M790.2 404.2 792.8 406.2 M793.7 409.7 795.4 412.2 M797.1 415.7 798.8 417.4 M883.4 371.7 883.4 377.7 886 383.7 891.1 389.7 896.3 395.7 901.4 401.7 908.3 407.7 913.4 412 922 415.4 929.7 417.1 922 418 910 418 915.1 414.5 908.3 410.2 M916.8 374.3 921.1 377.7 925.4 383.7 929.7 388 932.2 392.3 927.1 394 924.5 391.4 927.1 389.7 M790 403.4 792.6 406 M793.4 409.4 796.9 415.4 M800.3 419.7 804.6 423.1 M636.3 483.7 642.3 480.3 649.1 478.6 654.3 477.7 656 473.4 651.7 469.1 652.6 464.8 659.4 459.7 666.3 454.6 674.8 451.1 683.4 447.7 692 444.3 700.5 443.4 709.1 440.8 716 438.3 724.5 437.1 733.1 437.1 740 437.4 742.5 440.8 748.5 437.4 753.7 434.9 760.5 433.1 769.1 434.9 777.7 436.6 786.2 438.3 794.8 441.7 801.7 446.8 808.5 451.1 815.4 450.3 820 449.4 M636.3 483.7 638.9 485.4 645.7 483.7 650.8 482.8 651.7 486.3 656.8 484.6 662.8 482 667.1 480.3 667.1 476 671.4 472.6 678.3 471.7 684.3 470.8 688.6 467.4 692.8 464.8 697.1 460.6 702.3 456.3 704 454.2 712.5 454.2 722.8 454.2 731.4 454.2 737.4 455.9 738.6 459.7 734.8 462.3 728 462.3 723.7 463.5 726.3 467.4 731.4 470 738.3 472.6 746.8 473.4 752.8 472.6 753.3 466.6 755.7 470.8 757.1 472.6 765.7 473.1 776 473.1 782.8 476.8 789.7 480.3 798.2 483.7 806.8 486.3 815.4 488 820 488.5 M691.1 490.5 695.4 488 697.1 482 700.5 479.4 705.7 478.6 709.1 480.3 710.8 486.3 712.5 491.4 709.1 494.8 703.1 496.5 697.1 495.7 692.8 494 691.1 490.5 M690.3 482.8 692 486.3 M752 488 758.8 487.1 M727.1 485.4 729.7 487.1 M733.1 481.1 734.8 480.3 M805.1 491.4 805.9 492.3 M800.8 419.4 804.2 423.4 M790 441.4 796.9 444 803.7 449.1 812.3 454.3 820.8 450.8 829.4 452.6 838 455.1 846.6 456.8 855.1 460.3 862 466.3 867.1 472.3 874 477.4 880.8 481.7 886 486 892.8 488.6 901.4 491.1 910 492.8 916.8 496.3 923.7 495.4 929.7 495.4 932.2 498.8 931.4 502.3 927.1 504.8 927.1 508.3 932.2 507.4 937.4 508.3 943.4 508.3 M790 481.7 796.9 484.3 805.4 486 814 487.7 820.8 486 827.7 484.8 832 484.8 835.4 488.6 838 493.7 839.7 499.7 842.3 504.8 847.4 509.1 853.4 512.5 860.3 513.9 868.8 513.4 877.4 512.5 882.5 515.1 886 519.4 884.3 524.5 879.1 528 874 531.4 868.8 533.1 867.1 540 868.8 543.1 875.7 542.5 884.3 540.8 892.8 538.3 901.4 536.5 910 534.8 916.8 533.5 925.4 533.1 934 534 940.8 534.5 947.7 534 M800.3 420 803.7 423.4 M800 552 803.4 549.9 M218.9 450.9 219.2 452.6 M378.6 671.2 384 667.1 389.5 672.6 395 674 403.2 680.8 406 686.3 400.5 683.6 392.3 679.4 386.8 680.8 382.7 675.3 378.6 671.2 M205.8 323.1 210.7 320.9 208.5 328.6" fill="none" stroke="#7a4500" stroke-width="1.61" stroke-linejoin="round" stroke-linecap="round"/>
<path d="M434.8 206.6 437.4 210 M440 209.1 442.6 215.1 449.4 217.7 M738 278.6 739.2 280.6 M696.8 388.6 699.4 389.1 M835.4 302.3 838.8 300.6 M824.3 305.7 826.8 310.8 M855.1 323.7 857.7 326.3 M857.7 330.6 859.4 332.3 M910 378.5 915.1 379.4 M874 400 875.7 400.8 M717.7 459.7 719.4 461.4 M826 504 826.8 504.8 M831.1 502.3 832 503.3 M832.8 507.4 833.9 508.1 M858.6 517.7 859.4 518.5 M865.4 519.4 866.3 521.1 M870.5 522.8 871.2 523.5 M807.7 683.1 810.3 681.4 M843.7 681.4 846.3 679.2 M251.4 361.4 249.7 352.8 245.4 355.4 242 358.8 244.9 361.4 242.8 368.3 243.7 375.1 239.8 382.8 239.1 387.1 242 386.3 241.1 392.3 239.1 400.8 237.4 410.3 239.8 411.1 M204.3 323.7 207.7 322 210.3 322.9 209.4 327.1 206.9 328.9 204.3 323.7 M200 310.9 204.3 311.7 M235.1 443.7 233.4 447.1 234.3 452.2 M210.3 465.4 212.9 467.1 M562 590 562.2 590.7 M555.4 634.3 556.8 635.1 M553.7 643.7 555.4 642.8 M545.1 659.1 547.7 658.3 M483.4 743.6 484.3 744.3 M671.1 634.3 672.8 634.3 M542.6 699.9 542.9 700.3 M170.8 644.4 172.1 645.7 M178.6 646.5 180.1 647.8 M187.6 649.6 188.8 650.8" fill="none" stroke="#7a4500" stroke-width="1.72" stroke-linejoin="round" stroke-linecap="round"/>
<path d="M713.1 308.6 718.3 310.3 722.6 309.8 719.1 313.7 720 318.8 720.8 323.1 726 318.8 728.6 319.7 M828.6 487.7 830.3 492 829.1 490.3 M929.4 620.2 929.7 620.9 M434 474.3 434.8 474.5 M414.3 538.2 414.4 539.1 M561.7 595.4 561.8 596.5 M692.5 680 693.2 680.5 M694.3 684.3 694.9 684.8 M693.9 686.8 694.6 687.4 M703.7 690.3 704.4 690.8 M707.1 690.3 707.8 690.8 M702 696.3 702.7 696.8 M705.4 705.7 706.1 706.2 M706.3 707.4 706.9 707.9 M714.8 707.4 715.5 707.9 M718.3 706.5 718.9 707.1 M720 709.1 720.7 709.6 M718.3 710.8 718.9 711.3 M720.8 712.5 721.5 713.1 M715.7 721.1 716.4 721.6 M713.1 728 713.8 728.5 M717.4 727.1 718.1 727.6 M719.1 729.7 719.8 730.2 M709.7 732.3 710.4 732.8 M711.4 734.8 712.1 735.3 M708.8 738.3 709.5 738.8 M705.4 739.1 706.1 739.6 M703.7 736.5 704.4 737.1 M713.1 736.5 713.8 737.1 M714.8 734 715.5 734.5 M718.3 737.4 718.9 737.9 M720 740 720.7 740.5 M791.9 732.3 792.6 732.8 M795.4 729.7 796.1 730.2 M792.8 736.5 793.5 737.1 M672 634.1 672.7 634.6 M723.4 684.8 724.1 685.3 M706.3 729.7 706.9 730.2 M702.8 731.4 703.5 731.9 M441.6 641.1 442.4 641.6 M437.5 648.5 438.3 649 M438.9 658.3 439.7 658.9 M433.4 668.5 434.2 669 M454 733.5 454.8 734 M181.1 534.1 182 534.7 M197.6 510 198.4 510.5 M414.2 538.2 415 538.8 M245 257.8 246.9 264.1" fill="none" stroke="#7a4500" stroke-width="1.84" stroke-linejoin="round" stroke-linecap="round"/>
<path d="M806.3 345.1 805.4 348.6 807.1 353.7 M846.6 341.4 850 343.4 853.4 347.7 854.3 352 851.7 355.4 848.3 355.4 844.8 353.7 M881.7 396.5 883.4 397.4 M677.4 478.6 681.7 479.9 686.8 479.4 M791.4 552.2 796.5 550.9 M799.1 551.4 804.2 549.7 M848.3 514.3 855.1 519.4 858.6 522.8 863.7 525.4 M790.9 552.8 796.9 551.1 M798.6 551.6 803.7 549.4 M218 450.5 219.2 452.6 M224.9 454.8 227.4 454 226.6 459.1 M484.5 459.9 485.6 460.5 M486.3 465 489 466.9 M464.8 515.4 466.5 519.7 464 521.4 M493.7 646.6 496.3 646.6 M480 648.8 484.3 649.4" fill="none" stroke="#7a4500" stroke-width="2.07" stroke-linejoin="round" stroke-linecap="round"/>
<path d="M603.7 201.4 606.3 198.8 611.4 199.7 613.1 204 616.6 205.7 617.4 209.1 M736.5 156.9 734 160.3 735.7 165.4 732.2 170.6 731.4 167.1 728.8 165.4 M700.3 274.3 705.4 273.4 709.7 277.7 707.1 282.9 703.7 287.1 701.1 283.7 700.3 278.6 700.3 274.3 M771.4 297.4 774.8 299.1 777.4 304.3 780 309.4 M931.4 406.8 935.7 412.8 M810.2 502.5 815.4 504.3 820 506.8 M241.1 480.8 243.7 486.8 M536.8 493.1 542.8 494.9 M540 610.3 537.4 618.9 534.8 627.4 M536.6 656.6 534.8 663.4 537.4 668.6 M588.8 684.3 591.1 684 M648.8 688.3 651.4 690.5 654.8 689.1 M156.7 639.3 158.5 641.1 160.6 640.6 M307.1 669.4 311.7 668.8 M759 118.8 756.2 124.3 750.7 127 748 133.9 741.1 140.7 739.8 149 734.3 155.8 732.9 165.4 728.8 172.3" fill="none" stroke="#7a4500" stroke-width="2.3" stroke-linejoin="round" stroke-linecap="round"/>
<path d="M454.6 240 458 236.5 462.3 237.4 465.7 234 470.8 235.7 469.1 239.1 464.8 240.5 460.5 239.1 M652.6 464.8 656.8 462.3 662.8 457.1 M712.5 490.5 719.4 491.4 726.3 489.7 733.1 488.8 740 488.8 746.8 487.1 749.4 486.3 M606 683.1 610.2 684.3 612 684 M649.7 688.6 652.3 689.9 654.8 688.6" fill="none" stroke="#7a4500" stroke-width="2.53" stroke-linejoin="round" stroke-linecap="round"/>
<path d="M500 230.5 505.1 234.8 507.7 239.1 503.4 240.8 M732 342.8 738.8 346.3 745.7 349.7 749.1 354 M720.8 390 722.6 390.8 M812.3 311.7 817.4 316.8 824.3 315.1 826.8 310.8 825.1 308.3 M889.4 488.6 896.3 491.1 901.4 492.8 M928 505.7 934 507.7 940.8 508.3 M810.6 503.1 817.4 506.5 824.3 510.8 831.1 514.3 838 517.7 844.8 520.3 846.6 521.1 M842.3 505.7 846.6 510.8 850 516 848.3 518.5 M288.3 580.2 290.8 582.8 293.4 582.3 M411.7 593.4 419.4 590.8 427.1 588.3 430.6 584.8" fill="none" stroke="#7a4500" stroke-width="2.88" stroke-linejoin="round" stroke-linecap="round"/>
<path d="M476.8 224.6 481.1 228 482.8 232.3 481.1 234.8 486.3 230.5 488 227.1 M698 246 700.5 248.5 699.7 251.1 M716.6 319.7 720 324.8 722.6 326.6 M839.7 376 837.1 382 841.4 380.3 M850 391.4 854.3 389.7 856.8 396.5 853.4 400 857.7 403.4 M841.4 360.5 842.3 364.8 M880.8 348.6 886 349.4 M257.4 315.1 259.1 325.4 260.8 334 M516 676.3 521.1 674.6" fill="none" stroke="#7a4500" stroke-width="3.45" stroke-linejoin="round" stroke-linecap="round"/>
<path d="M750 362.5 754.3 365.1 756.8 364.3 M861.1 310 865.4 314.3 866.3 321.1 870.5 322 873.1 316.8 M246.3 356.3 244.6 364.8 244.9 373.4 242.5 380.3" fill="none" stroke="#7a4500" stroke-width="4.02" stroke-linejoin="round" stroke-linecap="round"/>
<path d="M730.3 389.1 737.1 386.5 744 384 749.1 383.1 M756 370.3 762.8 371.5 769.7 369.4 773.1 366.8 M856 409.4 860.3 412 862.8 408.5 M760.5 434.9 770.8 437.4 781.1 440.5 791.4 443.4 M728 468.3 734.8 470.8 743.4 473.1 752 473.4 M814 452.6 824.3 454.3 834.6 456.8 844.8 460.3 853.4 463.7 860.3 468.8" fill="none" stroke="#7a4500" stroke-width="4.6" stroke-linejoin="round" stroke-linecap="round"/>
<path d="M500 206.6 503.4 210 502.5 215.1 499.1 218.6 494.8 220.3 494 225.4 498.3 226.3 M813.7 453.7 820 452.8" fill="none" stroke="#7a4500" stroke-width="5.17" stroke-linejoin="round" stroke-linecap="round"/>
</g>
<path d="M196.8 90.1 L215.5 91.7 L234.2 93.2 L252.9 94.6 L271.6 96 L289.9 97.2 L308.2 98.4 L326.6 99.4 L344.9 100.4 L363.2 101.3 L381.5 102.2 L399.8 102.9 L418.2 103.6 L436.7 104.2 L455.1 104.6 L473.6 105.1 L492 105.4 L510.4 105.6 L528.8 105.8 L547.1 105.9 L565.5 105.9 L583.8 105.8 L602.2 105.6 L620.6 105.4 L639 105.1 L657.5 104.6 L675.9 104.2 L694.4 103.6 L712.8 102.9 L731.1 102.2 L749.4 101.3 L767.7 100.4 L786 99.4 L804.4 98.4 L822.7 97.2 L841 96 L859.7 94.6 L878.4 93.2 L897.1 91.7 L915.8 90.1 L972.7 735.3 L951 737.1 L929.4 738.9 L907.7 740.6 L886.1 742.1 L864.9 743.5 L843.6 744.9 L822.4 746.1 L801.2 747.3 L780 748.3 L758.8 749.3 L737.5 750.1 L716.3 750.9 L694.9 751.6 L673.5 752.2 L652.1 752.6 L630.7 753 L609.5 753.3 L588.2 753.5 L566.9 753.6 L545.7 753.6 L524.4 753.5 L503.1 753.3 L481.9 753 L460.5 752.6 L439.1 752.2 L417.7 751.6 L396.3 750.9 L375.1 750.1 L353.8 749.3 L332.6 748.3 L311.4 747.3 L290.2 746.1 L269 744.9 L247.7 743.5 L226.5 742.1 L204.9 740.6 L183.2 738.9 L161.6 737.1 L139.9 735.3Z" fill="none" stroke="#222" stroke-width="0.55"/>
<path d="M149 727.8 L170.2 729.6 L191.4 731.3 L212.6 732.9 L233.6 734.4 L254.4 735.8 L275.1 737 L295.9 738.2 L316.7 739.3 L337.4 740.3 L358.2 741.3 L378.9 742.1 L399.8 742.8 L420.7 743.5 L441.6 744 L462.6 744.5 L483.5 744.8 L504.3 745.1 L525.1 745.3 L545.9 745.4 L566.7 745.4 L587.5 745.3 L608.3 745.1 L629.1 744.8 L650 744.5 L671 744 L691.9 743.5 L712.8 742.8 L733.7 742.1 L754.4 741.3 L775.2 740.3 L795.9 739.3 L816.7 738.2 L837.5 737 L858.2 735.8 L879 734.4 L900 732.9 L921.2 731.3 L942.4 729.6 L963.6 727.8" fill="none" stroke="#000" stroke-opacity="0.55" stroke-width="0.7"/>
<path d="M144.5 731.6 L155.9 732.5 L167.4 733.5 L178.8 734.4 L190.3 735.3 L201.8 736.2 L213.2 737.1 L224.7 737.9 M269.5 99.7 L279.7 100.4 L289.9 101.1 L300.1 101.8 L310.4 102.4 L320.6 103 L330.8 103.6 L341 104.1 M307.4 743 L319.2 743.6 L331 744.1 L342.8 744.7 L354.6 745.2 L366.4 745.7 L378.2 746.2 L390 746.6 M412.5 107.3 L422.8 107.6 L433.1 107.9 L443.4 108.2 L453.7 108.5 L464 108.8 L474.3 109 L484.6 109.2 M473.4 748.8 L485.3 749 L497.1 749.1 L508.9 749.3 L520.8 749.4 L532.6 749.4 L544.5 749.5 L556.3 749.5 M556.3 109.8 L566.5 109.8 L576.8 109.7 L587 109.7 L597.3 109.6 L607.5 109.5 L617.7 109.3 L628 109.2 M639.2 748.8 L651.1 748.6 L663 748.3 L674.9 748 L686.8 747.7 L698.7 747.4 L710.6 747 L722.6 746.6 M700.1 107.3 L710.3 106.9 L720.5 106.5 L730.7 106.1 L740.9 105.6 L751.2 105.2 L761.4 104.7 L771.6 104.1 M805.2 743 L817 742.3 L828.8 741.7 L840.7 741 L852.5 740.2 L864.3 739.5 L876.1 738.7 L887.9 737.9 M843.1 99.7 L853 99 L862.9 98.3 L872.9 97.5 L882.8 96.8 L892.7 96 L902.6 95.1 L912.5 94.3 M144.5 731.6 L147.2 700.7 M965.4 700.7 L962.4 665.7 M150.2 665.7 L156.1 598 M956.5 598 L950.6 530.3 M162 530.3 L167.9 463.1 M944.7 463.1 L938.8 395.9 M173.8 395.9 L179.7 328.5 M932.9 328.5 L927 261 M185.6 261 L191.4 193.6 M921.2 193.6 L915.3 126.1 M197.3 126.1 L198.9 108.2 M913.7 108.2 L912.5 94.3" fill="none" stroke="#000" stroke-width="1.25"/>
<path d="M269.8 95.9 L269.2 103.6 M224.4 742 L225 733.8 M341.2 100.2 L340.8 108 M307.2 747 L307.6 738.9 M412.6 103.4 L412.4 111.2 M389.9 750.7 L390.2 742.5 M484.7 105.3 L484.6 113.1 M473.4 752.9 L473.5 744.7 M556.3 105.9 L556.3 113.7 M556.3 753.6 L556.3 745.4 M627.9 105.3 L628 113.1 M639.2 752.9 L639.1 744.7 M700 103.4 L700.2 111.2 M722.7 750.7 L722.4 742.5 M771.4 100.2 L771.8 108 M805.4 747 L805 738.9 M842.8 95.9 L843.4 103.6 M888.2 742 L887.6 733.8 M143 700.3 L151.3 701 M969.6 700.3 L961.3 701 M146.1 665.3 L154.4 666.1 M966.5 665.3 L958.2 666.1 M152.1 597.7 L160.2 598.4 M960.5 597.7 L952.4 598.4 M158 530 L166.1 530.7 M954.6 530 L946.5 530.7 M164 462.8 L171.9 463.5 M948.6 462.8 L940.7 463.5 M169.9 395.6 L177.7 396.3 M942.7 395.6 L934.9 396.3 M175.8 328.2 L183.5 328.8 M936.8 328.2 L929.1 328.8 M181.8 260.7 L189.3 261.4 M930.8 260.7 L923.3 261.4 M187.7 193.2 L195.2 193.9 M924.9 193.2 L917.4 193.9 M193.7 125.7 L201 126.4 M918.9 125.7 L911.6 126.4 M195.3 107.9 L202.5 108.5 M917.3 107.9 L910.1 108.5 M196.8 90.1 L203.4 98.5 M139.9 735.3 L149 727.8 M915.8 90.1 L909.2 98.5 M972.7 735.3 L963.6 727.8" fill="none" stroke="#000" stroke-width="0.8"/>
<path d="M196.8 90.1 L197.5 82.3 M139.9 735.3 L139.3 743 M340.8 108 L341.6 92.5 M307.6 738.9 L306.8 754.8 M484.6 113.1 L484.8 97.5 M473.5 744.7 L473.2 760.7 M628 113.1 L627.8 97.5 M639.1 744.7 L639.4 760.7 M771.8 108 L771 92.5 M805 738.9 L805.8 754.8 M915.8 90.1 L915.1 82.3 M972.7 735.3 L973.3 743 M201 126.4 L185.9 125 M911.6 126.4 L926.7 125 M189.3 261.4 L174 260 M923.3 261.4 L938.6 260 M177.7 396.3 L162.1 394.9 M934.9 396.3 L950.5 394.9 M166.1 530.7 L150.3 529.3 M946.5 530.7 L962.3 529.3 M154.4 666.1 L138.3 664.7 M958.2 666.1 L974.3 664.7" fill="none" stroke="#000" stroke-width="0.9"/>
<text x="141.4" y="749.8" font-size="20.85" text-anchor="middle" dominant-baseline="hanging" fill="#000" transform="rotate(5 141.4 749.8)">100°W</text>
<text x="309.1" y="761.6" font-size="20.85" text-anchor="middle" dominant-baseline="hanging" fill="#000" transform="rotate(3 309.1 761.6)">95°W</text>
<text x="475.7" y="767.5" font-size="20.85" text-anchor="middle" dominant-baseline="hanging" fill="#000" transform="rotate(1 475.7 767.5)">90°W</text>
<text x="642.1" y="767.5" font-size="20.85" text-anchor="middle" dominant-baseline="hanging" fill="#000" transform="rotate(-1 642.1 767.5)">85°W</text>
<text x="808.7" y="761.6" font-size="20.85" text-anchor="middle" dominant-baseline="hanging" fill="#000" transform="rotate(-3 808.7 761.6)">80°W</text>
<text x="976.4" y="749.8" font-size="20.85" text-anchor="middle" dominant-baseline="hanging" fill="#000" transform="rotate(-5 976.4 749.8)">75°W</text>
<text x="177.8" y="124.7" font-size="20.85" text-anchor="end" dominant-baseline="central" fill="#000" transform="rotate(5 177.8 124.7)">32°N</text>
<text x="165.9" y="259.7" font-size="20.85" text-anchor="end" dominant-baseline="central" fill="#000" transform="rotate(5 165.9 259.7)">28°N</text>
<text x="154.1" y="394.6" font-size="20.85" text-anchor="end" dominant-baseline="central" fill="#000" transform="rotate(5 154.1 394.6)">24°N</text>
<text x="142.2" y="528.9" font-size="20.85" text-anchor="end" dominant-baseline="central" fill="#000" transform="rotate(5 142.2 528.9)">20°N</text>
<text x="130.3" y="664.3" font-size="20.85" text-anchor="end" dominant-baseline="central" fill="#000" transform="rotate(5 130.3 664.3)">16°N</text>
<rect x="989.3" y="89" width="34.4" height="665.2" fill="url(#cb)" stroke="#262626" stroke-width="0.7"/>
<text x="1031.3" y="89.6" font-size="19" dominant-baseline="central" fill="#262626">50</text>
<text x="1031.3" y="155.9" font-size="19" dominant-baseline="central" fill="#262626">20</text>
<text x="1031.3" y="205.4" font-size="19" dominant-baseline="central" fill="#262626">10</text>
<text x="1031.3" y="255.7" font-size="19" dominant-baseline="central" fill="#262626">5</text>
<text x="1031.3" y="318" font-size="19" dominant-baseline="central" fill="#262626">2</text>
<text x="1031.3" y="358.8" font-size="19" dominant-baseline="central" fill="#262626">1</text>
<text x="1031.3" y="421.8" font-size="19" dominant-baseline="central" fill="#262626">0</text>
<text x="1031.3" y="485.9" font-size="19" dominant-baseline="central" fill="#262626">-1</text>
<text x="1031.3" y="527" font-size="19" dominant-baseline="central" fill="#262626">-2</text>
<text x="1031.3" y="589" font-size="19" dominant-baseline="central" fill="#262626">-5</text>
<text x="1031.3" y="638.5" font-size="19" dominant-baseline="central" fill="#262626">-10</text>
<text x="1031.3" y="688.8" font-size="19" dominant-baseline="central" fill="#262626">-20</text>
<text x="1031.3" y="753.3" font-size="19" dominant-baseline="central" fill="#262626">-50</text>
<path d="M1015.7 155.2 L1023.7 155.2 M1015.7 204.7 L1023.7 204.7 M1015.7 255 L1023.7 255 M1015.7 317.3 L1023.7 317.3 M1015.7 358.1 L1023.7 358.1 M1015.7 421.1 L1023.7 421.1 M1015.7 485.2 L1023.7 485.2 M1015.7 526.3 L1023.7 526.3 M1015.7 588.3 L1023.7 588.3 M1015.7 637.8 L1023.7 637.8 M1015.7 688.1 L1023.7 688.1" stroke="#000" stroke-width="1" fill="none"/>
</svg></body></html>
